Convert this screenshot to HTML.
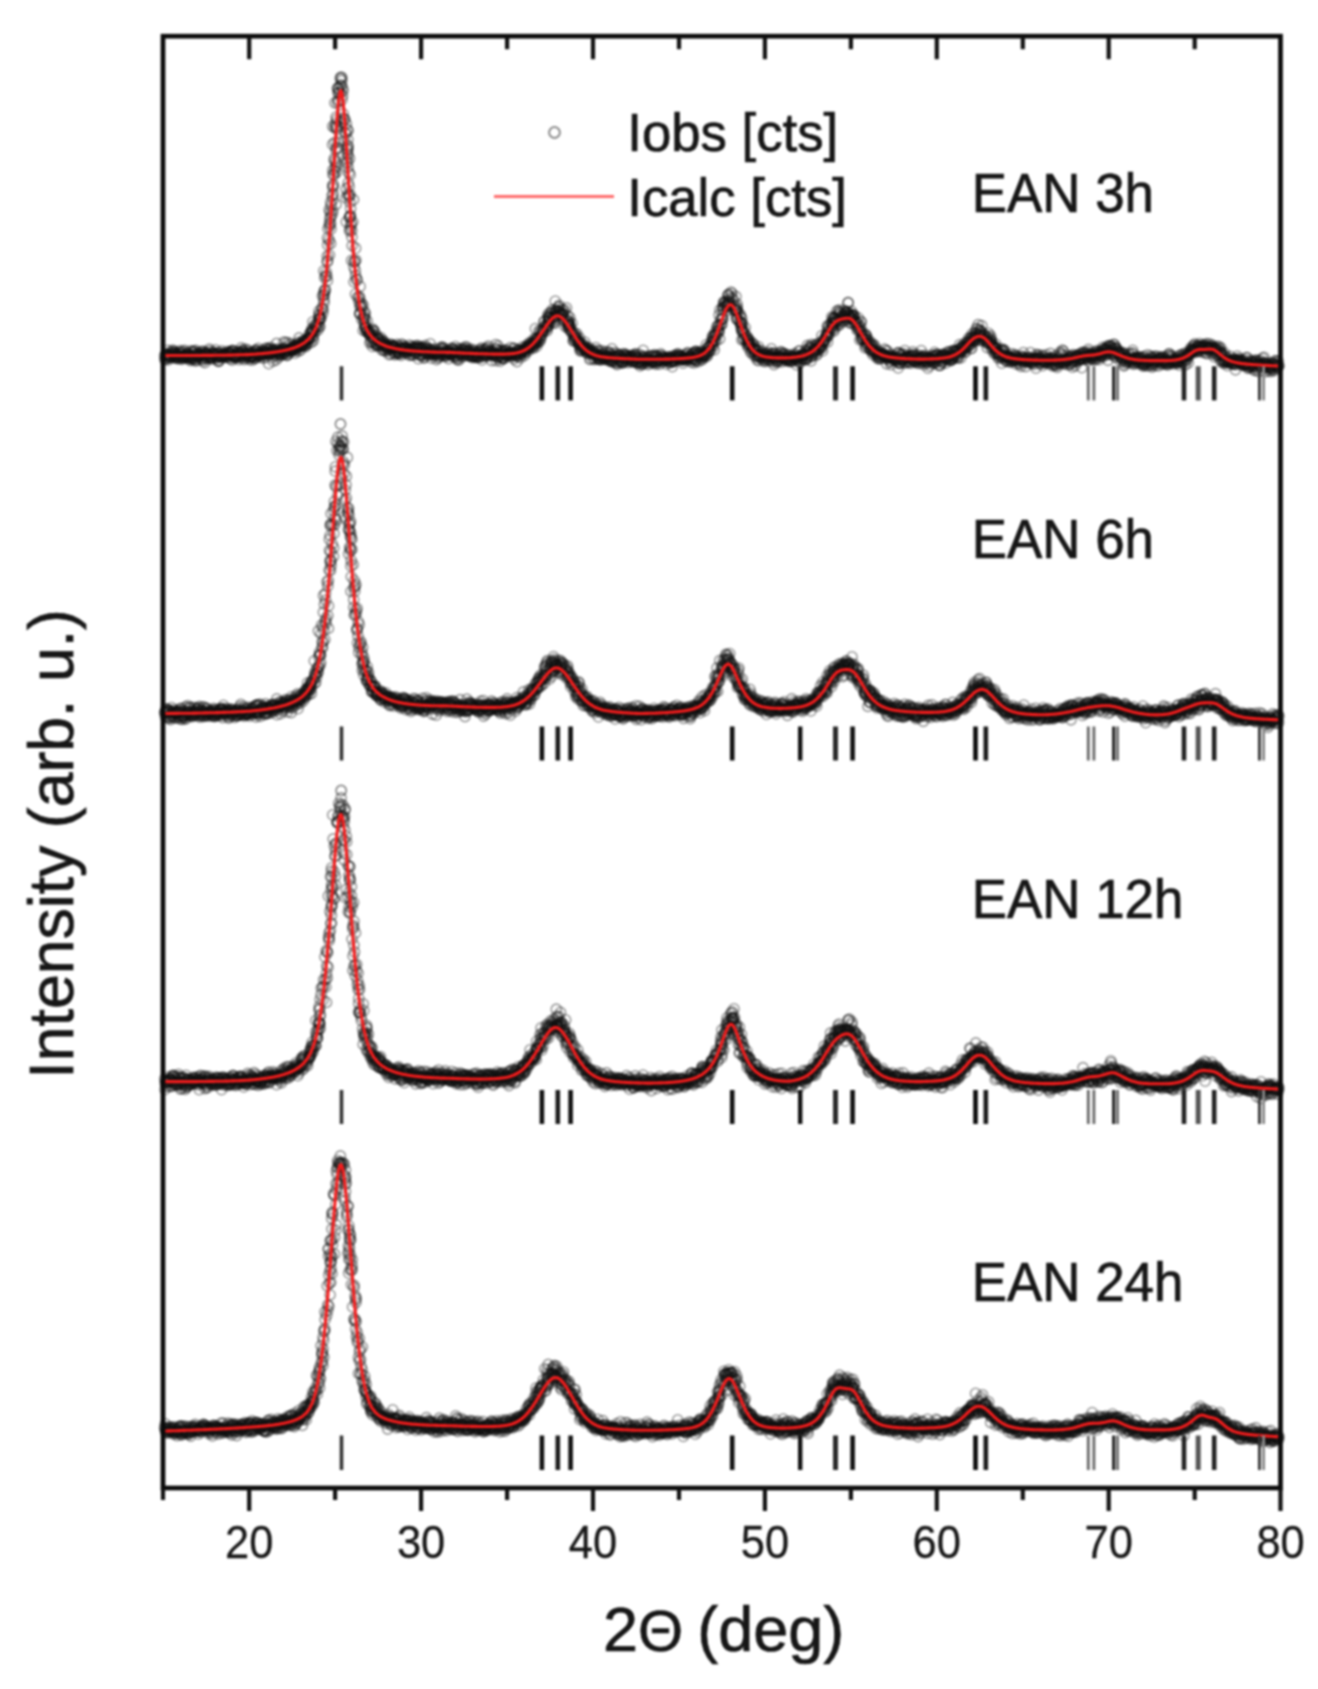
<!DOCTYPE html>
<html><head><meta charset="utf-8"><style>
html,body{margin:0;padding:0;background:#fff;}
body{width:1318px;height:1689px;overflow:hidden;}
svg{display:block;filter:blur(0.9px);}
.t{font-family:"Liberation Sans",sans-serif;fill:#161616;stroke:#161616;stroke-width:0.7px;}
</style></head><body>
<svg width="1318" height="1689" viewBox="0 0 1318 1689">
<defs><marker id="c" markerWidth="16" markerHeight="16" refX="8" refY="8" markerUnits="userSpaceOnUse"><circle cx="8" cy="8" r="5.1" fill="none" stroke="#111" stroke-opacity="0.42" stroke-width="1.6"/></marker></defs>
<path d="M164.6 355.6l.3 3.8 .5-.4 .3-4.9 .3 .6 .4-.7 .3 3.1 .3-1.8 .4 2.3 .3-7.3 .4 9.6 .3-4.7 .3 2.2 .4-2.3 .3-.7 .4 2.4 .3 1 .4-2.9 .3 .2 .4 2.4 .3-4.5 .3-1.8 .4 5.4 .3-3 .4-3.5 .3 3.1 .3 1 .4-2.1 .4-.8 .3 4.3 .3 2.4 .4-3.2 .3-1.4 .3 3.2 .3 .9 .5-2.8 .3 2.3 .4 1.5 .4-3.6 .2-1.7 .4 3.3 .3-.3 .4 2.4 .3-6.7 .4 1.7 .3-.5 .3-2.5 .4 5.3 .4 1.1 .2-3.6 .4 6 .4-1.6 .3-.5 .4-.7 .3 1.6 .3-6.5 .4 5.5 .3 0 .4-6.7 .3 6 .4-1.7 .3 2.9 .3-3.5 .4 1.2 .3 1.1 .3-3.5 .4 4.2 .4-2 .3 1.7 .2-2.9 .4 4.6 .5-1.4 .3-2.2 .3 2.3 .4 1.7 .3 1.6 .3-9.6 .3 7 .4-1.2 .4-1.6 .4-2.6 .3 6.4 .3-7.1 .3 5.2 .4 2.1 .3-8.3 .4 3.7 .3-2.9 .4 4.4 .3 3.7 .3 1.4 .4-10.8 .4 3.4 .3 3.6 .4 2.5 .2-3.3 .5-3.3 .3 3 .3-.9 .3-.6 .4-1.5 .3 3.2 .4-.2 .3-1.1 .4-.4 .4-3 .2 2.2 .4 4.8 .3-3.9 .4-3.6 .3 7.9 .4-2.3 .4 4.5 .3-5.8 .4-1.5 .2-2.8 .5 7.9 .3 3.5 .2-9.7 .5 .5 .3 3.6 .4-4.1 .2 1.6 .4-.2 .3 1.5 .4 2.6 .4-3.1 .3 2.6 .2-3.9 .4 2.2 .4-7.1 .4 2 .3 6.4 .3-4 .4 3.4 .4-.1 .3 2.2 .3-1.5 .4 .6 .3-3.2 .3-1.7 .3-.1 .4 .7 .4-1.8 .4 1.6 .2 1.3 .4 1 .5-1.7 .2-4.5 .3 5.3 .4 .8 .3 2.5 .4-1.5 .4-3.5 .2-.2 .5 7.8 .2-3.6 .4 3.1 .3 .8 .3-8.4 .4 3.4 .4 .2 .3 .3 .4 0 .2-1 .4-.1 .4-4.8 .4 3.8 .3-1.7 .3 2.5 .4-1.7 .4 3.1 .3 .6 .4-1.5 .3 .1 .4-.7 .2-1.6 .4 .9 .2-1 .5 2.5 .3-1.1 .2 1.7 .4-5.5 .5 6.3 .3-4.7 .4 .1 .3 1.5 .1-1.1 .6 2.5 .3-2.5 .3-1.4 .4 .6 .3 6.2 .3-3.7 .5-3.4 .3 3.3 .3-4.5 .3 9.6 .5-9.5 .3 5.8 .3 .1 .2-5.7 .4 5 .3 2 .3-1.5 .6-.6 .2 2 .4-2.3 .3 .5 .4-1.4 .5 2.2 .2-4.5 .4 4.9 .2-3.7 .4-1.7 .4 4.2 .4 3.8 .2-2.1 .3-4.3 .4 3.5 .3-3.3 .5 .9 .3 .6 .3-7 .4 7.3 .3-3.5 .3 .9 .3-2.3 .3-.1 .6 1.7 .2 5.1 .4 2.4 .3-4.9 .5 3.2 .1-3.9 .5-4.8 .2 5.9 .4 .9 .2-2.6 .5 2.1 .3 .8 .4-4.2 .3-1.8 .2 3.7 .6 0 .4-.4 .3 3.8 .2 2.2 .4-6.3 .2 3.3 .4 .6 .5-.6 .3 .9 .2-4.2 .5 3.3 .3 3.7 .4-3.6 .1-4.2 .5 3.6 .4 1.9 .3-2.7 .4-2.7 .3 6.1 .3-8.2 .4 5.1 .4-1.5 .1-3.5 .5 7.1 .3-2.6 .4-4.5 .5 5.2 0-3.1 .6-4.3 .1 3.5 .4 2.8 .4 1 .4-1.4 .3-.3 .3 1.2 .4-2.1 .4 4.1 .1-3.1 .4 .4 .5 .7 .4-4.7 .4 1 .6 6.6 0-3.6 .2-1.8 .5 1.8 .4-2.5 .3 2.2 .2-2.8 .4 2.7 .4-5.5 .1 8.6 .4-5.5 .7-3.2 -.1 4 .6-.5 .3 1.5 .6-3.9 .2 4.6 .2 9.5 .6-14.6 .1 4.8 .7-2 .3 1.5 .1-6 .5 1.9 .2 4.8 .2-1.6 .7 5 .2-7 .4 2.5 .4 8.2 .4-11.1 .3-.4 .1 2.5 .4 0 .4 2.6 .3-2.2 .3-2.7 .7 2.8 .1 7.3 .6-4.2 -.1-12.2 .4 7.9 .3-2.3 .4 4.5 .3-2.5 .4 6.3 .3-3.1 .8-.1 .1-2.2 0-.8 .4 1.1 .6 2.9 .3-2.4 .1-2.8 .7 4.9 -.2-3.3 .6-.9 .8-2.3 -.6 .7 .9-.3 .6-6.7 .1 11.6 .2-1.5 .3-2.4 .1 3.8 .5-2 .7-.2 .1-8.9 .5 6.8 .3 2.3 .5 3.3 -.2 .6 .7-1.4 .4-8.1 .3-3.3 .2 8.5 0-1.8 1.1 2.9 .4-3.5 .8 1 -.1-5.5 .6 6 0-2.9 .1 2.4 .6 .2 -.2-1.9 .8 1.2 .2-1.1 .1 2.3 1.1-.9 .3-3.5 .1-.2 .5 7.3 .6-6 -.3 3.3 -.1-2 .5-3.2 1-.8 .1 2.7 -.3 .3 1.4 1 0-6.2 .9 2 .1 1.4 -.3 5.4 .6-13.1 0 9 .3-3.4 .6 3 .7-3.2 .7 2.6 -.7 3.8 1.1-4.2 0 .1 .2-.4 1.1-3.9 -.4 4 1.2-2.7 -.5-2.2 0 2.3 1.2-.8 -.8 3 .5-2.9 .8-1.9 .5 6.5 .2-1.9 -.7 .7 .7-2.5 1.5-2.8 .4-1.4 -.7 .2 1.2 4 .3-3.3 .9-5.9 -.9 4.7 1.9-5.3 -.9 5.3 1.6-5.3 0-.7 -1.1 4.6 .9-1.2 .8-6.2 .9 8.3 -1.6 4.7 1.1-13.9 1.3 11.7 .2-9.9 -1.1 .2 .5 .6 1.6-5.5 -1.1 9.8 1.6-3.8 1.1-5.5 -.6 1.1 -2.7-5.6 4.7 3.7 .4 4.2 .7-11.4 -.3 4.1 -2.9 1.4 4.4 2.6 -1.1 .2 1.2-8.6 -1.2-2.5 .2 3.8 .4-4.8 3.2-1.2 -1.7 4.6 -.5 1.1 -1.3-7.9 3.1-3.7 -.4 1.6 .6-13.2 1.7 6.7 -.1-7 -.8 14.2 .7-10.2 .1-5.2 1.3-4.1 .4-14.4 -.6 13.6 -1.2 2 3-15.3 .5 4.4 -2.8-3 2.6-15.8 -.9 10.3 -2.5-1.2 3.8-10.2 1.9-5.6 -2.3 1 .3-18.1 3.1 5.5 -3 1.3 .4-16.1 1.2 11.1 1.7-10.8 .1-12.4 -1.6 9.5 .5-7.7 .8 5.3 -.6-11.5 -.6 10.8 -.2-13.3 3.1 3.9 -1.3-8.3 5-1 -3.4 6.3 -2-8.5 1.4-6.5 .7-7.9 .3 11.7 .2-5.4 .2-9.2 -.8 .5 1.5-10.5 2.6-2.8 -4-1.8 .2 4.2 1.9-3.3 1.1-9.2 -.5 5.9 .8-2.7 -1.9-6.6 -.1 2.2 1.6-10.9 .2-2 1.8 .6 -.1-6 -5.2 2 4.3-15.1 -2.1 13.1 -2.1-16.1 4.1 .9 -.7-10.1 -.1 9.1 -1.3 1.4 .6-3.9 1.4-4.1 -1.8-16.8 2.5-.3 .7-2.6 -.1-7.1 1.1 8.5 -.3-9 -1.4-4.1 .6 .7 2.2-10.4 1.7-.9 -1-.4 -.7 8.3 1.4-.3 -2.8 2.7 1.6 4.8 1.4-12.2 .8 7.7 -.1 7.7 .5-5.1 -1.1 9.1 1.3 13.9 1.6 5.5 -3.1 2.4 1.2-3.6 1.5 1.1 3.1 10.5 -1.1-5.9 1.6 7 -.2 8.8 -2.7-7.3 .8 1.4 -1.6 6.6 3.9 6.5 -.5 2.3 -.1 1 .3 5.3 -.2-9.9 -.2 7.4 .3 9.1 1.7-3.6 -3.1 .5 -.2 3.7 1.8 4.7 2.1 7.4 -1.3-2.2 -.6 10.5 1.9 11.6 -1-8.2 -3.1 11.4 1.6-3.1 -1.5-5.7 3.1 8 -.1-1.6 1.5 13.2 2.9-8.9 -4.2 17.5 1.2-1.8 -.5-13 -3.7 19.4 3.5 7.2 .2-11.6 1.8 13.1 -1.6-14.2 -.6 14.7 3.2-9.1 -.9 15.2 -1.1-11.3 .3-2.8 1.1 22.6 2.1 15.6 1.3-13 -4 12.3 4.3-.3 -1.4 1.3 .8 8.9 1.3 9 -2.7-12.3 3.3 12.9 -3.1 1.9 1.6-6.3 -.2 18.5 4.4 4.2 .2-11.9 -1 15.7 -.1-5.9 -1.3 1.3 4 10 -.2-4 -.5 2.4 -1.3 7.3 0 .7 .8-.2 2.6-8.5 -3.3 .9 2 13.1 2.8-7.4 -.9 5.9 1.6-3.9 -1.7 5 .4-3.4 1.6 13 -.7-9.7 -.1 4.6 -.7 .6 -.8 6.5 3.9-9.5 -1.9 6.2 0 .1 2.1 3.6 -1.5 .5 -.1-2.9 1.1 3.3 .9-1.7 .6 3.7 .6-1.5 .7-1.5 -.6 2.8 .8 1.9 -.1 7.4 -.1-9.5 1.2 3.3 .3 4.6 1.5-12.3 -.6 1.6 -.6 2.4 1.2 4.2 -.2 9.3 1.6-6.9 -1.9 3.2 1.1-4.7 .3-7.4 .9 .8 .1 11.8 -.5-2.6 .2-4.8 1.6 8.6 1-8.8 .4 9.3 -.7 1.3 .8-7.2 -.4-1 0 6.8 1.8-6.2 0 6.7 -.1-6.6 .3 6.8 1-2.1 0-1.6 .1-1.3 .6 3.9 .2-6.8 .2 5.5 .2-.3 1 3.7 -.2-6.1 0 9.8 1.6-6.4 .1-2.6 .1 8.4 .1 1 .4-5.8 -.3-2.2 .9 3.1 .5-2.1 .1 1.3 .6 6.1 -.1-3.6 .7-.7 -.3 .8 .9-1.2 .2 3 .1 .2 .6-3.8 .5 1.6 .2 7.4 .8-6.2 -.2-1.8 .9 7.1 .2-6.3 0-3.4 .9 5.6 -.5-4.8 .9 1.4 .3 2.6 .5-1.3 -.3-1.9 .4 .7 .5 0 .6 5.5 .3-5.8 .3 .6 .3 8.1 .2-7.9 .2 6.4 .6-.5 .6-4.5 .4-3.8 0 5.8 .7 .8 -.2 .9 .8-2.7 0 3.6 .6 .6 .1-7.4 .3 7.6 .5-3.8 .7-2.2 -.1 .8 .7 6.8 .2-2.7 .4-8.4 .3 5.8 .4-.7 0 0 .6-1 .4-2.8 .2 7.1 .5-5.4 .1 1.7 .6-.6 .1-.4 .4 4.5 .6-1 .4-3.2 0-.8 .3 1.5 .7 4.4 -.4-2.5 1.1 .3 .4-1.6 -.1 .2 .7 1.5 .2-6.1 .4 10.3 -.1-7.1 .6 .7 .4 5.7 .3-3.3 .4-.5 .3-1.8 0-2.9 .7 5.2 .3 3.1 .4-6.3 .3 6.8 .4-7.4 .4 1.2 .6 3.7 -.1-1.4 .8 2 0-4.2 .3-.8 .2-2.5 .7 2 0 .4 .7-1 .3 5.2 .2-2.9 .3-3.9 .5 13.3 .3-9.8 .4-1.2 .3 7.3 .3-.2 .4-6.8 .2-.9 .6 1.4 .2 6.3 .2-4.2 .4-1.5 .4 2.4 .2 3.6 .7-7.6 .3 3 .1-3 .4 10.5 .6-1 .2-2.5 .2-3.2 .2 2.3 .4-8.1 .7 7 .2-4.7 .2 .1 .5 1.8 .2 1.1 .4 2.7 .3 .4 .4-1.3 .5-3.5 .1 4.7 .4-2.3 .5 3.8 .4-6.1 .1-5.4 .6 6.7 .3 7.7 .1-4.9 .6-1.9 0 3.1 .6-1.1 .2-.1 .3-2.8 .6 1.7 .3 .4 .3-2.5 .3-1.3 .3 3.6 .4 2.5 .2-1 .5-.4 .3 0 .3 6.1 .4-6.7 .3 2.2 .3 2.7 .4-5.5 .3 .6 .6 2.3 .1 1.9 .4-4 .4 .1 .4-.8 .3-3.7 .3 6.7 .5-3.9 .2-4.3 .4 4.6 .5-4.6 0 2.1 .5 3 .3-2.7 .2 5.8 .4-7.4 .5 5 .2 .9 .4 2.6 .4-1.5 .3-2 .4-.5 .2-.4 .4 3.5 .3-5.2 .4 3.4 .4-1.8 .3 1 .5-1.4 .2 6.9 .4-8.1 .5 2.7 .1 0 .3 1 .4-.4 .3-.1 .5 1.6 .4-7.1 .2 4.4 .3-3.6 .4 4.3 .4-4.1 .4 .6 .2 2.7 .3 4.2 .5-2.4 .3-.7 .3 3.2 .4-6.8 .2-3.3 .4 4.8 .4 .5 .3 4.4 .3 2.6 .4-10 .4 11 .5-2.6 .1-2.1 .4-1.3 .5 5.9 .2-6.7 .3-1.6 .2 1.8 .6-4.4 .3 5.4 .3-1.7 .3 1.3 .4 .1 .3-4.1 .4 6.9 .3-6.7 .4 5.5 .2-7.2 .4 5.7 .2-3.4 .5 2.5 .4-2 .3-4.4 .5 3.1 .1 3.4 .4 1.6 .3-6 .4-1.8 .3 3.6 .3 1.9 .4-1.2 .5-.5 .2 4.8 .5 .3 .1-.6 .5-4.8 .4 2.9 .3-.7 .3-3.6 .3 6.7 .4-2.3 .4-1.6 .4 5.5 .1-1.9 .3 .3 .5 1 .4-1.4 .4-5.7 .3 2.5 .2 4.1 .6-5.1 .2 2.3 .2 1 .5 3.1 .3-.4 .4-1.2 .2-3.1 .4 3.2 .4-1.1 .3-2 .4 4.4 .4-2.5 .4-3.6 .3 5.9 .2-4.4 .5 2.5 .3-6.1 .3 4.3 .3-2.6 .3-.1 .3-2.7 .5 11.7 .3-6.6 .3 1.1 .4 2.5 .2-3.5 .4 1.8 .4-5.3 .4 4.5 .3-1.8 .3 2.7 .3-1 .4-4.5 .3-1.3 .5 2.4 .3 5.1 .3-.9 .4-.1 .3-6.9 .4-1.9 .4 5.9 .3 .9 .3-.8 .4 2.8 .2-1.6 .4-2.9 .4 .9 .4 3 .3-.2 .4-.4 .1 6.7 .5-7.3 .2 1.1 .4-3.2 .3 1.9 .5 2.5 .3 .2 .3-2.1 .4 1.6 .4-1 .4-5.6 .3-4 .3 16.1 .3-4.2 .4-2.6 .3-4.8 .3 1.3 .3 7.6 .5-12 .2 7.2 .4 3.4 .4-2.1 .3 1.8 .4-2.6 .2 7.3 .5-9.9 .2-.9 .3 4.7 .4 3.4 .4-4.3 .3 3.1 .3-4.5 .5-1.9 .2 7.5 .4 .4 .4-.1 .3-5.7 .4-2.1 .3 0 .3 2.7 .5 2.3 .2-.2 .3-5.6 .4 4.7 .3-.6 .4 .2 .3-.3 .3-.5 .5 2.3 .3-1.4 0 .2 .6-2.7 .4 3.2 .4-1.5 .2-5.9 .3 7.6 .5-2.2 .4 3.4 0-3.2 .4 .1 .5 .9 .1-.7 .6-1.3 .5-4 .1 10.6 .5-10.1 .2 3.6 .5 2.9 .4-.9 .4 .5 .2 .5 .5 1.4 .2-2.9 .2 7.7 .7-11.7 0 3.6 .5-1.9 .7-.6 .1 2.4 0 3.4 .6-6.6 .2-.1 .4 4.2 .1-.6 .6 4.1 0-2.9 .8-2.5 .3-1.9 .5 1.6 .6-1.4 -.5-3.8 .4 4.1 .4-.7 .5-.4 .7-.8 0 6.4 .3-3.2 .2 .5 .4-5 .4-1.5 .5 2.1 -.1 1.5 .8-2.1 .5 .3 .3 3.4 -.2-2.4 1.1-4.3 .3 1.5 .2-1 -.3 2.4 .2-4.6 1 2.9 -.1 2.6 .2-2.5 1.3-3.4 .4 .6 .2 2.2 .7 .8 .2 .9 -.8-3.7 1.6-4.3 -.2 8.9 .5-4.1 1 0 -.3-.8 1.1-5 -.6 2.1 0 1.6 .2 2.3 .7-3.8 -.8-11.7 1.5 9.7 .3 1.7 0 2.9 -.9-2.5 .3 6 2.7-4.3 -1.1-.7 2.3-1.9 -1.4-9.1 1.3 7.8 -1.3-1.4 1-4.7 .8 3.7 1.1-1.2 1.4-3.8 -.3 .7 -2.1-1.1 1.8 1.4 .2-3.1 -.2 3.1 1.7-10.1 1.5 5.8 -2-6.1 2.2 4.1 .7 3.4 -2.6-2.6 3.8-1.1 .3 .1 -1.4 5.5 2.2-11.4 -1.6 7.5 1.6-10.3 -.3 3.6 -1.8 2.1 1.9-4.8 -.2 3.8 -.2 1.6 -.6-8.5 .9 4.1 -.4-1.7 3.9-7.1 -4.3 6.9 3.4-3.1 -.7 8.6 -.7-9.8 3.5 10.5 -2.1-9.9 3.6 10.2 -1.9-6.3 1.1-.7 -.4 1.2 1.6 .2 .8 1.9 -1.8 1.2 1-9.2 3.2-4 -3.4-6.3 4.2 9.8 -3.2 4.9 .1-1.7 -1.5-1.1 1.7-2 -1.1-1.2 2.2 1.6 2.4 3.1 -.9-9.2 -.5 11 -.3-9.3 .8 5.9 -.8-1.8 .6 1.4 5.5-2.6 -2.4-.1 -1.5 4.3 2.9-3.2 1.6 15.5 -3-11.8 1.2-.6 -1.5 .9 -.1-1.7 4.8-5.3 3.4 9.8 -5.8 2.9 -1-7 4.8 6.8 -.2-4.5 -.5 5.5 1.7 2.2 -2.1 1.1 1.1 .4 1-4.1 -1.1 7.1 1.4-4.8 -.6 3.9 1.2 2 0-3.4 -2.2-3.2 2.8 8.1 -1.4-6.2 1 1.6 -.5-.2 3.1 8.2 -.9-3.3 .3-7.4 2 12.1 -.2 5.6 -.6-.4 -1.5-8.4 3 3 -.5 2.2 .2 1.9 1.4-2.6 -.9-3.6 .8 7.3 1.2 0 0-6.5 -.5 4 1.9 2.8 .1-.5 .8 2.3 -1 1.5 .5-.4 .9-1.9 -.1-3.8 .2 7.3 .2 3.1 .2 2.4 .2-6.5 .3 .5 .9 5.4 0 .3 -.2-3.3 1.1 1.6 1.1-4.5 .2 4.8 -1.2-4.2 .8 2.6 1.1 .4 0-.8 .4-5 .2 4.5 .5 4 -.1-1 1.1-.7 -.4 2.9 .7 1.1 .8 .7 .2-4.9 0 2.8 .4-.9 .2-1.4 .3-1.7 .5 4.6 .7-2.2 -.1 9.5 .6-6.7 .3-.2 .3-.4 .2 7.1 .6-8.4 .2 2.6 .3-1.7 .3 2.1 0 .4 .9 3.6 .3-7.4 .1 4.3 .4 5 .5-6.2 .1 1.1 .6-2 .4-5 .3 7.5 .4 3.9 -.1-4.7 .7-4 .2 6.3 .6-.4 .3 2.8 .3-.2 .2-3.4 .7 2 0-6.4 .3 8.7 .5-2.7 .1 2.7 .7 0 .3-3.9 .3 .5 .4-2.1 .2-3.4 .2 5.7 .4 .9 .5-3.6 .2 5.3 .4-1.7 .3 1 .3-3.5 .5-2.8 .3 7.4 .3-.4 .3-2.1 .3-.8 .6 .4 .1 .4 .4-1 .3-4.3 .5 8.1 .2-6.5 .5 3.3 .3 .2 .2 1.6 .5-5.4 .2 8.2 .4-1.5 .4 .3 .3 1.5 .3-6 .4-6.7 .3 10.1 .4 2.8 .2-.4 .4-4.9 .5 1.3 .3 1.2 .3-6.1 .4 3.4 .3 .1 .3 6.4 .4-6.4 .4 6.4 .3-4.5 .3-4.8 .3 11.2 .4-9.2 .3 4.6 .4 3.2 .4-6.4 .3-2 .4 6.5 .3-2.8 .3-3.7 .3 .5 .4 2 .3 3.9 .5-3.6 .3 2.7 .2 2.9 .4-1.1 .4 .5 .3-.5 .4-8.2 .3 8.2 .4-2.6 .2-1.3 .5-2.7 .3-1.5 .4 1.4 .3 3.2 .3-3.3 .3 1 .4 .6 .3 3.7 .4-2.7 .3 .4 .3 4.2 .3-4.7 .4 2.7 .4-4.8 .4 4 .3-.6 .4 .2 .3-1.8 .3-1.6 .3 2.1 .5-.5 .3 4.3 .4-.3 .2-6 .4 5.2 .2-3.1 .5 2.7 .4-2.7 .3-2.9 .3 7.2 .3-1.6 .4-4.8 .4-1.9 .2 3.9 .5-1.9 .3 2.4 .2 2.8 .4 2.5 .3-5.2 .4 4.9 .3-.6 .5-4.5 .3-3.6 .3 7.3 .3-.7 .3 5 .5-2.6 .4-1.9 .2 2.6 .4-7.8 .3 3.5 .3-1.3 .5 5.8 .2-3.4 .4-10.4 .4 12.7 .3-6.5 .4 4.8 .2-3.6 .5 2.1 .3 1.1 .5-1.2 .1-3.3 .3 6.7 .5-2.8 .2-1.2 .4 2.1 .3-3.6 .5 7 .2-4.8 .4 .4 .3-.1 .3-3.6 .3-.7 .6 4 .2 .4 .3 2.8 .4-2.5 .4-4.5 .2 4.7 .6 .8 .2 .5 .3-1.9 .4-4.5 .3 6.9 .3-5.4 .5 3.7 .3-6.2 .4 6.7 .2-4.4 .3 5.4 .5 1.9 .2-1.7 .3-6.7 .4 .6 .4 .2 .3 4.4 .5-.9 .2-.5 .4 .4 .2 .8 .4 .2 .4 3 .4-5.1 .3 .8 .4-5.9 .1 1.5 .5 1.8 .4-1.4 .2 4 .4 2.4 .3-4.3 .5-.1 .3-.1 .4 1.8 .2-1.9 .5 2.8 .3-.4 .4 .1 .2 1.2 .3-2.1 .4 .3 .3 4.7 .3-5.3 .5 2.5 .3-2.2 .3-1.5 .4 0 .3-1 .4 2.4 .2-1.8 .6 .5 .2 4.7 .4-3.9 .2 3.7 .5-2.6 .3 1.7 .4-4.2 .3 2.2 .2 7.2 .6-5.3 .1 .5 .6-2.2 .2 1.8 .2-5.9 .5 .9 .3 3.7 .3 1.1 .3-3.6 .5 .7 .2-.6 .4 .5 .6-2.9 .1-.7 .4 3.9 .4-4.8 .4 2.1 .3 .9 0-1.1 .5 3.7 .6-2 .1 1.1 .6-2.8 .2 .8 .2 3.6 .5-.4 .5-2.5 .1 2.4 .4-.5 .2-.1 .4 4.1 .4-5.8 .4 2.4 .3-.1 .4-1.9 .6-2.8 -.1 5.4 .3-1.2 .6-.7 .3-.1 .1 0 .8-2.8 0 3.5 .3-6.2 .5 5.2 .4-4.4 .6 3.3 -.2 3.1 .4-2.9 .5-.7 .3 2.9 .4-2.3 .2-.5 .3 0 .5 5.6 .5-2.6 .3-.6 .2-5 .5 5.3 .3-5.7 .2 5.2 .4-4.8 .4 9.1 .8-10.9 -.1 8.6 .2-1.4 .4-7.7 .3 4.5 .6 4.9 -.2-1 .5-8.5 .7 3.4 .3-2.1 .3 .3 .5 1.1 -.1 7.4 .7-5.3 0-1.2 .3-.5 .7 2.9 .1 0 .4-5.1 .6 7.2 -.1-8 .8 2.3 .8 2 -.3 3.8 .6-6.6 .3 1.8 -.2 2.9 .3-2.3 .8 1.3 -.4-.5 1.1-2.7 .4 .9 .4 .7 .3-3.4 .7 5 -.3-11.9 1.1 3.1 0 7.3 .3-3.7 .1-3.9 .8 3 -.4 1.9 1-5.9 .6 4 -.6-3.4 .2-.5 .4-.3 .8 3.5 .6-8.2 .7 2 1 3 .2-7.2 -.6-1.9 -.1 7 -.3-2.7 1.9-1.2 .1 .4 -.3-4.8 .4 13.5 .4-15.1 -2 1.2 2.8-4.5 .7 3 -.1 6.6 -.7-6.6 1.5 1.4 .9-5.1 1.9 8.1 -.5-7.4 -.2-6.5 -.5 7.1 -1.3-5.6 1.5 3 -1-3 2.1-.5 2.1-1.6 .4-5.5 .2-3.7 -1.1 9.4 1.9-5.8 -1.7 .6 -2.4-4.3 3.8-8 .2 2.1 -2.6 10.7 2.3-10.8 -2.7 .7 3.5-6 3.1 3.2 -2.7-.3 3.5-.3 -1.4-.2 -1.2-3.5 -1.3-.6 4.4 1.8 .2 .9 -3.1-2.9 2 8.3 2.8-7.8 -2.6-.6 2.2-4.3 -3.5 7.7 2-10 3-3 -2.7 3 -.1 7.6 .4-8.3 2 11.7 -1.6-6 2.7-6.7 1.5 6.5 1.9 10 -2.8-11.9 3.6-1.5 -1.3 9.2 -1 4.5 1.6-.6 1.9-5.4 .3 3.3 -.8 1.5 -1 4.9 1.8 5.4 -.6-9.2 .2 7.4 .5-6.3 2.9 5.2 -4.6-5.6 2.2 1.9 -1.3 6.3 3.5-4.6 .8 8.9 .7-5.1 -2.4 3.8 1 .5 1.4 0 -.6 3 .5 5 .2 9.3 .5-16.5 -.2 7 1-.9 -2-2.1 1.7 5.7 -.7-3.7 1.8 4 -.4 6 1.7-11.7 1.1 9.5 -2.2 1.5 .8-4.5 1.4 6.3 1.4 .1 -.3-1.8 0 6.4 -.1-8.5 .1 7.7 1-2.5 .4-2.3 .1 3.8 -.2 0 -.3 4.6 .8-7.5 .7 5.1 -.1-.4 1.2 7.4 -.6-8.7 .9 7.8 .7-9 .6 7.5 .1-1.2 .8 2.1 -.5-3.2 .2-3.7 1.2 1.7 -.5 9.6 .6-3.3 -.2-3.1 1.4 5.9 .2-5 -.2 .3 0-1.2 1 7.8 .4 2.7 .6-9 .6 4.1 -.2 2.4 .2 3.7 .3-13.9 .4 8.1 0 1.7 .5-6.4 .6 6 -.1-.5 .4 1.7 1-3.9 -.1 3.2 .7-3 .4 3.8 .1-1.3 .5-1.5 .1-3.1 .2 9.5 .5-1.6 .4-.6 .4-4.6 .3 1 .3 6.2 .6-2.8 .1-4.7 .3 2.8 .6 .3 0-1 .5-2.2 .6 6.7 .1-1.9 .6-2.4 0-4 .3 3 .4 1.8 .3 2.6 .4-3.7 .3 4.5 .6-2.9 .3-2.6 .2-6.1 .3 4.9 1-.9 -.3 4 .7 1.5 -.1 3.2 .4-4.2 .7-3.4 -.1 10.5 .4-6.1 .5-1.7 .2 0 .4-3.2 .4 5.9 .5-.7 .2 3.6 .4-1.5 .5-.6 .4 1.1 0-4.6 .1-.4 .5 1.1 .7-3.5 .1 3.3 .3-.6 .4 3 .6-2.1 .1-5.6 .3 5.8 .3 4.1 .3-9.7 1 3.2 -.2 2.4 .4-4 .3 2.3 .5 1.8 .1-4.1 .1 4.8 .6 .3 .5-5 .7 3.9 -.1 3.2 .2-3.8 .5 1.8 .2 .6 .4-2.6 .5 3.6 .3-1.7 .2-4.2 .7 4.6 .1 1 .4-.2 .2-4.4 .5 3.3 .4 2.8 .4-3.5 0 2.9 .7 .3 .1-4 .4 2 .5-2.9 .5 4.1 0-3.5 .2-1.4 .6 1.5 .5-.1 .1 1.3 .8 .2 -.4-4.9 1 1.5 .2 3 .4 .3 -.1-1.2 .8 7.6 .3-4.6 .4-3.7 0 2.4 .4 1.8 .6-3 .2-6.5 .2 5.6 .2-.2 .6 6.3 0-12.2 .8 10.3 .2-5.3 -.1 3.3 .9-3.9 .5 1.4 .1 2.8 0-3.2 .5 2.9 .7-3.6 -.2-1.1 .6 .5 .7-1 0 1 .2 4.5 .8-7.9 .5-1.7 0 5 -.1 5.2 .2-2.1 .8 .7 -.2-.3 .9-6.4 .7 2.5 -.8-8.9 1.1 6.3 .5 3.7 .1-7.1 .7-1.7 .3 2.2 .6 4.6 1 2.9 -.6 4.4 -.1-3.9 .3-9.8 .2-2.8 1.2 7.8 .2 2.7 .4-9 .2 3.3 1 0 .1 1.4 .3-1 -.5 2 .6 1.5 -.2-3.6 .7 2 .7 3.9 -.4-10.5 .7-.5 1.9 5 -1 4.3 -.5-6.2 .5 2.9 1.1-5.3 1 3.9 -.3-5.8 1 4.2 0-1.4 -.7-.5 1.9 3.1 -.8-1.5 2.2-6.5 -1.6 4.9 .7-9.8 0 9.3 .6 6 1-8.7 -.3-.6 1.6-2.1 -.3 2.3 1.5-5.3 -1.2 3.6 1.6-4.1 .3-1.2 -1 1.5 3.2-1.3 -.7-7.2 -.7 14.2 -.5-8.2 .4-7.8 .3 10.3 .9-5.1 -1.4 .3 1.8 1.4 -.5-7.1 3.3-8.9 -.8 10.8 1.6 .8 1.3 2.5 -2.2-7.8 2.5 1.4 -2 2.2 .8-3.6 -2-.2 1.9 1.5 2.4-5.7 -1.1 10.3 -1-11 .9 3.6 -.8-2 .4-2 -.8 4.9 4.4 1.7 .3 1.6 -1.6-4.1 -1.6-4.7 2.1 5.4 4-10.2 -5.1 6.2 1.7 1.8 .4 0 2.4-7.6 -3-1.7 2.8 13.5 -1.4-9.6 1.1-5.1 -1 1.7 3.1 5.3 -1.3 4.9 .2-5.2 3.1 5.1 -.9-4.4 3.6 1 -2.8 2.1 -.2-6 .4 2.8 4.6-3.1 -2.1-1.1 -2.1 5.5 1.3-6.5 -1 3.8 2.3-3.9 -1.6 3 .3-1.9 1.9 7 1.8-4.5 -.4 0 .2 6.8 -.8-19.9 -3.7 7.8 4-7.1 .3 12 1.5 2.1 2.3 1 -1.2-1.6 -3.7-4.8 3.2 11.7 -.1-6.2 1.9-2.2 -.9-3.5 -2.7 7 2-3.6 1.3 .6 -2.5 3.2 3.5 .5 0-4 2.6 9.3 -1.6-9.1 -.5 .1 1.2 6.6 .5-.2 1.8 .4 -2.5-1.4 -1.6 2.6 7.7-1.9 -2.6-3.8 -.7 10.6 3.7-6.5 -4.6 3.9 .8 4.6 .8-2.1 1.6 11.6 -.9-15.9 1.9 3.3 -1 4.1 2.3 5.7 -.7-5.6 -2.1-3.9 2.2 10.7 -.9-7.3 1.5 3.4 .5 4.8 2.6-5.3 -2.2 1.5 -1 4.1 2.1-2 -.9 2.4 3.1-4 -.7 3.6 1.1-3.1 -1.4-1.1 -.2 12.5 1.5-4.2 -1 2.1 .7-6.2 .5 3.8 .8-.2 -.6-3.8 0 7.4 2.7-4 -1 2.2 .6-4.1 .9 9 .2-.4 -.3-.9 .4-4.1 1.6 1.7 .1 6.3 0-4.7 .9 2.1 -1.5-.1 1.3-3.9 .2 9.1 -.5-11.3 1.5 7.6 .4-.8 .2-4.7 -.5 6.6 1 .9 .5-1.3 .2-2.6 .5 4.3 .4 2.4 .7-2.7 -.1 5 1.2-2.6 -.5-.1 .4 2.2 .5-6.3 0 .6 .3 3.4 .8 .2 -.7 3.3 .5-1 1.5-2.9 -.1 .3 .3-1.4 .3-.2 .3-.1 0 4.3 .6-4.1 .1 .5 .9 1.7 .2-2 .3 1 .4-5.9 .2 7.9 .1-1.9 1 1.6 .1 .6 .1-6.7 .6 13.1 .4-6.7 .4 .1 .2-5.8 .4 7.4 .1-.6 .7-2.2 .2 1.9 .4 3.3 -.1-4.8 .7-1.7 .3 6.8 .4-3.1 -.3-1.3 .5 7.5 .7-6.3 .1-1 .6 1.4 .3-1.9 .5 1.8 .1-.1 .3-2.4 .6 1.3 .2 1.7 .2 .2 .2 .7 1.2 .6 -.3-1.6 .4 .9 .1-2.7 .5 .4 .4 3.9 .5-8.9 .4 7 .1 8.3 .5-14.9 .5 10 .1-9.7 .4 6.3 .1 3.8 .4-.4 .3-7.1 .6-1.2 .3-.4 .6 6.4 .1-3.2 .4 1.1 .3 .8 .3 .5 .2 .3 .7-1.2 .1-5 .1 9 .6-12.4 .2 11.8 .7-5.4 .3 1.2 .4-1 .4 .5 0 1 .2-.7 .5-2.4 .5 5.7 -.1-4.2 .6 5.7 .6-4.4 .1-1.6 .4 3.4 .3 1.3 .6-5.3 .4 1.9 0 5 .4-7.1 .4 .5 .4 2.9 .3-4 .4-3.6 .4 2.3 .4 6 .4 .8 .1-.2 .3-.6 .4-4.7 .6 5.6 .2 1.4 .3-5.4 .4 4.8 .4-3.8 .4 1.6 0 .5 .5-5.4 .4 8.6 .3-6.8 .3 2.3 .2-1.2 .5 2.8 .3-.1 .4-1.2 .4 4.1 .3-3.3 .2-2 .4-7.3 .4 7.6 .5 0 .2-1.7 .3 0 .2 4.3 .5 1.3 .3 2.5 .4-2.2 .3-5.4 .3 2.8 .3-4.7 .5 6.1 .2-1.1 .6-2.8 .2 1.5 .3-.5 .5-1.1 .1 5.7 .6 5.2 .1-6.6 .5 .6 .2-2.6 .3-1.5 .3 7.5 .5-7.5 .4 2.2 .2-1.5 .7 2 .1-1.8 .2 1.8 .7-5.4 .1 3.4 .6 4.3 -.2-7.1 .9 1.1 .1 6 .4-2.9 .3 2 .2-9.8 .6 7 .3-4.2 .3-.3 .2 5.3 .3 2.2 .5-7.9 .5 1.1 .2 1.5 .3 1.4 .3-3.6 .5 10.5 .5-4.9 .1-2.8 .2-.5 .8 8.3 -.2-.2 .6-8.2 .3 2.5 .6 2.7 .1-7.3 .1 1.7 .4 5.7 .6-6.1 .3 .7 .2-2.7 .4 1.7 .2 4.2 .3-4.5 .5-1.5 .3 1.9 .5 7.1 .1-4.8 .9-2.3 -.3 2.1 .8 .8 .3-1 .5-5.9 .4 6.3 -.2-1.7 .7 3.1 .4-6.7 .4 7.2 .2-4.8 .2-3.8 .7 9.2 0-5.8 .3 2.6 .5-1.7 .2 3.7 .3-.1 .5-.1 1-1.3 -.2-7.3 .2-.4 .2 5.7 .6-3.8 -.1 4.3 .8-1.1 .3-5.1 .3 1 .5-.5 .1 .6 .6 1.9 .3 2.6 .4 1.9 .2-7.5 .6 1 0 6.6 .9-2.3 -.2-2.4 .9-8.6 -.1 4.1 .3 3.5 -.1-2.7 1 8.2 .3-6.5 .2 .3 .5-4.9 .2-.1 -.2 .9 .2-.2 1.3 1 .1 1.7 1.1-.7 .6 2.2 -.3-8.4 .3 5 .3-.3 0 4.3 -.1-6.6 -.9 1.5 2.5-4.4 .3 3.9 -.1-.5 .4-4.1 1 .3 .3 1 -.2 1.7 0-6.6 1.1 6.9 .5-4.8 1.5 7.7 -2.2-2 1.5-7.3 -.9-1.2 .8 11 2.8-7.1 -2.1-.6 .6-4.1 -.1 .8 1.7 3.1 -.9-1 -.8-5.8 2 7.6 1.1-3.9 -.5-5 .5 7.1 -.5-4.6 .1 3.4 1.3-5.3 -.9 3.3 1.1-7.8 -.2 7.5 1.1-7.4 1.4 6.4 -.5-10.5 1.5 9.4 -.4 3 -.2-1 -.5 2.7 1.4-8.7 -.9 10.2 2.3 .2 -1.8-10.7 .3 1.6 .9 1 -.5 2.3 2.1 1 -.5-10 .6 11.9 1.5-3 -2.5-2.6 2.3 7.8 .9-4.6 1 5.9 -.5-1.9 -.4-2.8 1.8 5.9 .3-.9 1.5-4.5 .3-3.6 -1.7 4.3 1.6 4.8 -.6-2.7 -.7 7.8 1.8-5 .8 .2 -2.5 1.2 3.1-4.1 -1.2 3.2 2.1-1.5 -.7-5.5 .3 2.5 1.2 9.3 -.8-3.6 1.9 1.5 -1.6-4.3 .6 3.6 0 5.1 1.3-2 0-1.7 .8 7.3 .5-5 .2-.7 .5 5.4 .3-9.3 -.2 7.9 0-5.2 .2 1.4 1.2 .7 -.3 3 .2 .2 .4 .9 .6 0 .5 4.1 .2 1.2 .1-3 .9 .4 -.6-3.4 1-2 .7 5.6 .1-1.6 .6 2.8 .1-8.2 .4 14.3 .2-12.2 .2 4.3 .6 3.1 .5-7.2 -.4 2.8 .6-4.4 .1 2 .6-1.4 .3 6.4 .5 .7 .4-1.7 .6 4.9 .4 .5 -.1-4.1 .4-.5 .6-.1 .1-.4 .4 5.4 .1-3.1 .8-1.6 .2 .4 .2 2.4 .3-2.8 .3 2.2 .6-.9 .2 4.2 .3-.5 .4-7.6 .6 3.8 .4 2.6 .3-3.3 .2 3.8 .4-1.4 .3 .8 .4-1.9 .3 1.2 .2 .7 .3-5.9 .4 1.7 .5-.2 .2 8 .3-4.1 .6 .3 .4-.6 0-2 .5-.6 .5 4.7 .1-3.5 .5 5.8 .1-4.1 .5-.2 .4-.9 .5 .4 .2 .4 .1 4.4 .4 2.4 .4-10.2 .5 4.1 .3 1.4 .4-4.7 .3 .8 .2 .6 .4-5.7 .3 8.9 .5-2 .2-.1 .4 .5 .4 .6 .4 6 .2-6.2 .4 1.9 .2-3.9 .6 2.5 .2-1.9 .3 .5 .3-2.2 .4 .3 .3 3.7 .4 .9 .5-.8 .1-3.3 .5 2.9 .4-8.3 .2 10.1 .2-2.8 .6 .9 .2 2.6 .4-4.6 .4 4 .3-4 .3 2.8 .4-2.7 .4 2.1 .3 3.3 .5-6.1 .1 .1 .4 .9 .4 1.8 .4 7.1 .3-9.6 .3-4.2 .5 4 .2-2.7 .4 3 .3 1.6 .3-2.8 .4 .8 .2-3.4 .5 5.9 .2-2.6 .4 5.3 .4-.1 .3-5.6 .3 1.5 .5 1.2 .4 2 .3-7 .3 4.6 .2 5.6 .4-5.6 .5 .9 .3-.6 .4-3.5 .3 6.2 .3-1.9 .3-.3 .3 1.6 .3 .2 .4-7.8 .4 6.9 .3-3.1 .3 2.2 .4-2.5 .4-.5 .3 5.3 .1-2.8 .6-.8 .3 0 .4 1.1 .3-.3 .4-6.8 .3 4.3 .4 1.9 .4 2.8 .2 1.8 .4-6.7 .3 8.3 .4-5.3 .3 1.2 .4-3 .2-.2 .4 5.9 .4-4.8 .4 .3 .2 3.7 .3 1.6 .5-9.3 .3 3.8 .4 .5 .3 5.2 .3 1.9 .5-7.3 .1 1.2 .3 1.4 .6 .9 .2-4.3 .4 3.4 .3-4.6 .3-5.7 .6 3.7 .2 4.6 .2 1.7 .4-8.9 .4 1.3 .3 5.1 .4-9.7 .2 11.4 .4 1.4 .5-11.8 .3 10.9 .3-2.8 .3 4.7 .2-3.4 .7-1.5 .1 1 .4 2.4 .4-2.3 .4-.4 .2-4.4 .3 5.6 .4-1.4 .6 5.3 .4-5.5 0-.3 .5-1.6 0 3.9 .6-2.8 .4-1.5 .2 6.8 .7 .4 .2-6.6 .3-1.8 -.1 6.3 .6-5.9 .6 10.8 .1-8.8 .2 3.2 .5-6.8 .7 3.7 .2 3.3 .4-2.1 .2-3 .6 8.9 -.4-5.2 .6-3 .9-1.2 .2 .9 .2 4.8 .2-6.5 .1 2.3 .6-2.6 .4 6.2 .2-4.4 .8 3 .2-1 .1-3.5 .6 3.8 .1 .6 .5-6.4 .1 5.6 1.1 8.7 -.6-12 .6 2.9 .7-6.2 .3 5.5 -.3-3.3 .5 4.1 .6-2.6 .1-3.5 .4 7 .5-4.1 .3-2.6 .7 3.3 -.4-3.2 1.1 4.2 0-1.5 .5-.9 .1 3.2 1.1-6.1 -.8 7 1.2-9.3 -.1 11.2 .4-4.5 .8-1.4 -.1-1.5 .6 4 .5-2.2 -.2-.1 1.1 3.8 .1-4.7 -.1 .6 .5 2.1 .1 2 .6-3.9 .5 .9 .4-.4 .1 2.2 .2 2.3 .3-7.7 .2 2.5 .6 .2 .6 1.9 0 2.8 .3-4.8 .2 .6 .8 2.9 .1-7.7 -.1 1.5 1.2 .9 .4 1.3 0 .7 .2-2.5 .5 7.1 0-7.9 1 1.5 .5 4 .2-1.1 .1-2.6 .3 1.1 .5 1.3 .7-2.8 -.5 2 .6-5.2 .1 3.1 .1-5.7 1 2.4 .6-1 -.5 7.7 1.2-5.7 .2 2.4 .2-4.1 .7 2.3 -.4-.4 1.2-1.9 -.4 5.5 .7-8.3 -.5 7.5 1.4 6.6 -.1-11.5 .1 2.8 .2-5.3 .8 5.1 .8-5.6 0 7.7 0-3.6 .2-4.4 .2 1.8 .7-.9 -.2 4.4 .8 3.8 1-4 -.1-2.5 .3 1.2 .1 3.3 .9-8.2 .3 10 .6-.5 -.4-9.2 .2 12 .5-9 .1 4.8 .8 4.7 .2-9 .2-.5 .6 2.5 .7 .3 .3 3.2 -.1-1 .5 .2 .5 .3 .4 1.1 0-2 .1 3.9 .8-.8 0-3.1 .5 9.1 .4-9.5 .6 6.4 0-4.5 .5 3.6 .3 .7 .3 1.2 .6 1.9 .1-6.9 .5 11.6 .3-7.5 -.1-3.6 .4-1.6 .1 11.6 1-2.1 .3-5 .2 2.5 .4 1.8 .4-3.6 .3-1.5 .4 1.3 .3 2.8 .3-2.4 .7-3.7 .2 6.1 .2-7.5 .7 3.1 .4 6.1 .1-3 .4 .1 .1-.3 .3 2.8 .2-3.2 .5-5.6 .5 6.7 .2-9.9 .2 3.1 .7 10.9 .4-1.5 .3-4.5 0 1.2 .6 .6 .2 2.7 .4-5.2 .4-.3 .5 .8 .1 2.3 .4 .4 .2-1.9 .5 3.5 .2-5.3 .4 2.9 .5-1.8 .3-.9 .3 6.6 .4-4.5 .4-2 .3 3.1 .2-3.1 .3 4.8 .5 .8 .4 .5 .4-6.1 .3 2.7 .4 5.9 .2-6.1 .3 4.4 .4 .8 .2-8.6 .4 7.7 .4-1.3 .3 .3 .5 2.5 .2-3.7 .5-1.1 .1 1.6 .5-2.8 .3 2.5 .4-7.4 .3 11 .4-6.6 .1 3.2 .5-.7 .5-.6 .2 0 .4-.1 .4-5 .4 3.2 .1 5.1 .4-6.5 .3-.1 .5 9.3 .2-2.7 .3 1.1 .4-4.6 .4 .8 .4 1.4 .3-.6 .2-1.9 .4-4 .4 2.1 .4-2.2 .3 9 .3-5.8 .3 .6 .4 1.4 .3-.8 .5 1.5 .4-3.4 .2-2.6 .3 9.6 .6-7.2 .2 .6 .3-.9 .3 .7 .4 1.7 .3 2.1 .4-5.2 .2 3.9 .4-2.8 .4 5.5 .3-7.2 .4 3.9 .4 1.8 .1-6 .4 4.3 .4 .1 .4-2.8 .3 1.7 .5 3.5 .2-2.2 .4-1.9 .2 .6 .6 1.9 .2 2.4 .3-1.4 .3-.2 .4 2.4 .3-9.1 .5 .3 .2-2.4 .4 9 .3-9.1 .4 6.5 .4 2.4 .4-6.4 .3 2.2 .3 1.1 .3 2.9 .4-6.6 .4 5.3 .3 1.1 .1-1.6 .5 0 .3 3.1 .2-3 .7-.8 .4-.9 .3 2.8 .3-2.8 .4 2.7 0-1.7 .7 3 -.1-5.7 .6 2.5 .4 .7 .4 .2 .3 2 .4-2.2 .1 1.4 .4 3.1 .3-3.4 .5-5.8 .3-1.2 .1 6.2 .8-3.3 -.1 1.9 .5-1.5 .3 4.3 .3-.4 .6-7.2 .1 4.1 .2-1.8 .5-3.3 .3 5.8 .2-2.5 .9 1.6 .4 6.1 -.3-3.7 1.1-.9 .4-4.8 -.5-2.6 .9 7.3 .1-5 .7 .9 -.8-1.6 1.4 1.3 0 7.1 .7-8.9 .5-.1 -.8 1.3 1.1 0 .4-5 .6-2.2 .5 3.6 .2 .9 -.3-2.2 1-1 -.3 0 1 1.5 -.1 .6 .4-5.3 .5 3.3 -.5 2.7 .9-1.8 -.1-4.4 1.5 3.1 .5 .9 -1.1 2.5 -.1-8.3 1.7 7.6 -.1-4 .1 2.1 2.2 1.5 -1.2-5.4 0 .1 .8 2.3 .6 2.8 1.1-4.4 -.4-3 -.5 2.4 .8 3.6 1.6 2.6 -1.7-5.6 1.4 .6 1 .5 -.2 .1 .1-2.7 -.1 1.7 1 2.2 .5-.4 .2-.2 .8-3.5 -.1 1.5 1-.6 -.4 6 .8 1.4 -.3-3.8 1.5 4.2 .1-6.4 0-.1 -.7-3.4 1.1 5.1 -1.5-2.3 1.8 1.8 .7 1.3 -.3-2.5 1-3.1 .6 3.7 1.1-.1 -.8 .3 -.6 2.2 -.1-3 1.7-.1 .9 6.8 .5-2.2 -.2-3.9 -.2-2.7 .4 1.7 .6 3 .5 1.7 .7 5.5 0-8.8 1.4 1.6 -.7-1.5 .6 1.7 .6-1.3 .3-2 -.5 7.3 -.2-2.7 .5 4.1 1.2-5.5 .5 2.8 .2 1.6 .5-7.9 .6 2.2 -.6 7 1.8-1.7 .4-5.9 -.5 3.9 0-.7 .5 2.1 -.3 6.8 .9-6.4 0 8.5 .6-6.9 .3-1.2 1.1 7.4 -.6-1.6 .7 1.6 .2 1.9 .9-2.4 .2 .7 -.4-8.8 .5 3 .7 4.1 .1-.5 .6 1.7 .2-3.4 .1 5 .6 2.9 .5-4.1 .2 .9 .4-.8 .4 1.4 .2-1.9 .6-2 -.1 2.2 .6-.1 .2-4.7 .5 5.4 .4-.5 .3 .6 .4-2.1 .3 3.2 .3 .5 .3-3.8 .5 3.1 .3 1.4 .3 0 .3-4.7 .4-.2 .1 3.1 .4-3 .4 10.3 .5-9.5 .4 .1 .2 4.2 .2-3.1 .5-5.4 .4 6.4 .3-2.3 .3 1.3 .3-3 .3 2 .4 2.2 .5 .3 .3-2.9 .4 1.1 .3-.3 .3 2.8 .3-.7 .4-3.1 .3 5.4 .2-3.8 .4 3.1 .4-3.6 .5 3.4 .2-1.1 .3 .5 .4 1.3 .4-.1 .2-.8 .5 .1 .2-4.1 .5 3.5 .3-6 .3-.1 .3 5.5 .4 .3 .3 4.9 .4-2.4 .3 1.3 .3-3.9 .4 2.1 .3 2.1 .4-1.8 .4-.4 .3-.7 .4-2.9 .3 .2 .3-1.5 .4 5.2 .3-1.9 .3-1.1 .4 2.9 .3-2.6 .4 4.6 .3 2.5 .4-4.1 .4-3.2 .2-2.2 .4 9.9 .3-4.4 .4-4.5 .3 6.3 .4-7.7 .3 3.5 .4 .6 .3-.3 .4-2.2 .3 10 .4-7.9 .2 2.3 .5-1 .3-4.6 .3 3 .3 2.2 .5 2 .3-3.6 .2 2.1 .4-2 .4 2.6 .3-8.6 .4 8.7 .3-3.4 .4 .1 .3-6.3 .4 5 .3 4.7 .3 4.8 .3-8.4 .4 .1 .3 3.3 .4-.6 .3-2.4 .4 1.2 .4-.6 .2 2.8 .4 .5 .4 2.8 .3-2.4 .4-.7 .4-1.4 .2 2.2 .4-5.3 .4 8.8 .3-5.2 .3 3.2 .4-6.2 .3 5.1 .4-1.7 .3-1.7 .3-1.3 .4-.6 .3 7.6 .4-1.6 .3-3.1 .4 .2 .3-2.6 .4-3.1 .3 .2 .4 3.3 .3 1.3 .3-2.8 .4 5.5 .3-.7 .4-1 .3-5.4 .3 4.3 .4 .6" fill="none" stroke="none" marker-start="url(#c)" marker-mid="url(#c)" marker-end="url(#c)"/>
<path d="M164.6 712.6l.4-.7 .3 4.4 .3-3.7 .4-3.4 .4 0 .3 4.5 .3-1.8 .4 6 .4-5.9 .4-2.3 .3 1.7 .2-1.3 .4 6.9 .4-5.6 .3 6.6 .4-2.7 .3 4.2 .3-6.1 .3 2.7 .4-8.5 .4 4.7 .3-.8 .3 5.5 .3-3.7 .4 2.3 .3-4 .4-1.7 .3 3.5 .4 4 .4-3.9 .4 4.7 .2-5.5 .3-.1 .4 0 .3 .3 .4-1.3 .4 1.3 .3-1.6 .4-.7 .2 7.4 .4-1.9 .4-3.4 .3-.9 .4-2.8 .4 6.3 .2-3.7 .4 7.5 .3-10.6 .4 6 .2 2.6 .4-5.1 .3 7.4 .5-2.9 .3-.1 .3-5.3 .4 5.4 .3 0 .4-2.6 .3 4.9 .4-4.3 .2-7.5 .4 7.5 .3 4.1 .5-6.8 .3 3.9 .4-4 .2 1.8 .3-7.9 .5 2.6 .3 4.4 .3-.8 .4-3.8 .3 7.5 .4-1 .3-3.6 .3-3.5 .4 7.7 .3-3.1 .2 3.5 .6 1.2 .3-4.4 .4 .4 .1 2.8 .5-3 .4-5 .2 7.5 .5-.9 .3-2.6 .3 3.2 .3-2.6 .4-.1 .5 3.4 .2-6.3 .3-.7 .5 4.2 .2-3.4 .4 6.4 .4-4.7 .3-2.9 .3 3.8 .3-5.3 .4 10.5 .4-4.1 .3 2.1 .3-.5 .4-.9 .4-3.7 .3 5.4 .4-3.3 .3-1.3 .4-3.7 .2 9.7 .3-4.5 .4-.5 .4-4.4 .3 8.3 .3-3 .4 3.2 .3-3 .3-2.4 .5 4.1 .3-6.2 .3 0 .3 4.3 .4 2.4 .3 1.1 .3-3.6 .5 0 .2 .9 .4-1.2 .5-.9 .2 2.9 .4-2.9 .3 .8 .4 4.1 .4-2.8 .2-2.2 .4 3.6 .2-2.5 .5 2.4 .3-4.5 .4 .2 .2-1.9 .3 7.4 .5 .8 .3-.6 .5-2.4 .2-.5 .4-1.3 .2 2.4 .3-2.3 .5-2.4 .2 5.9 .6-.3 .3-1.1 .3-1.8 .4-.9 .2 1.4 .3 .3 .6-4 .2 2 .4-1.7 .2 6.3 .4-7.2 .4 .4 .2 .9 .3 3.1 .4-3.2 .4 7.8 .4-3 .3-9.1 .3 7.6 .3 .3 .4-4.7 .4 3.4 .3 .5 .3-2.1 .3 1.5 .4 1.3 .3-2.5 .5 1.3 .3-3.3 .2 5.3 .4-3.7 .4 5.4 .4 2.4 .2-1.1 .4-6.3 .3 2.6 .4-2 .3 2.1 .7-3.8 .2-.5 .3 2.8 .3-2.2 .2 5.9 .4-1.5 .5-1.2 .2-1.4 .5-.1 .2 3.4 .4-2.7 .3-.2 .4 5.4 .3-5 .5-1.2 .1 .1 .4 4.4 .3-5.2 .4 0 .4 4.6 .3 .2 .2 .7 .4-6.7 .4 3.8 .4-3 .3 2.9 .3-5.9 .5 4.1 .3 3.7 .5-2.6 0-7.7 .4 10 .3-1.9 .6-1.9 .3 .8 .2-.9 .3 4.3 .5-3.5 .5-4.7 .3 2.2 .1 7.3 .5-1.5 .3-1 .5-4.7 .5 3.9 .1 1.5 .3-2.8 0 1.9 .7 1.1 .1-.3 .5-1.7 .5 0 0-5.1 .9 2.8 -.1 3.3 .5 2.6 .2-4.5 .5 2.6 .2-3.2 .4-2.9 0 4.1 .8 0 .3-4 .2 0 .4 2.7 .2-1.7 .4 3 .5-5.6 .4 6.4 .4-4.3 .4 2.9 .3-5.7 .2 7.4 .4-2.3 .2 5.7 .6-11.3 .1-.5 .3 7.5 .5 .5 .1-8 .5 6.9 .1 1.1 .5 1.4 1-3.9 -.5-5 .8-1.3 .1 12.1 .3-5.1 .2 1.7 .7-4 .2 .2 .4 .1 .7-2.3 -.2 1.9 .2-2.5 .7 2.1 .6 4.5 .1-3.3 .6-2.2 .3 7.3 .2-1.4 .1-3.8 .5-5.5 .6 9.2 .2 0 .2-5.9 .5 6.1 .2-6.9 .5 1.7 .2-.7 .7 1.9 .1-1 .3 4.7 -.1-5.5 .3 2.4 .7-1.3 .3 .6 .9-3.4 -.3 2.4 .3 4.3 .8-1.8 -.3-6.2 .8 2.3 0-1.9 0 .8 .6 .2 .7-1.9 .4 5.2 .3 1.3 .2-2.4 .5-2 .4 1.9 .3-3 .8 5.6 .1 3.9 -.1-15.6 .4 9.4 .3-1.1 .6 .4 .6-1.6 .5-3.9 -.1 4.4 .2-1.1 .2 .7 .2 .2 1.3-1.5 -.3 8.7 .3-11.2 1.1 2.6 -.4-2.9 .5 3.4 .5 5.3 -.4-5.1 .5-2.6 1.8-1.7 -.6 5.9 -.4-4.1 .8 4.1 .5-4.3 .6 .4 .1 1.4 0-5.1 .7 8.9 .8-7.6 -.3 4.1 .1 .8 .4 6 -.1-6.2 1.7 1.1 0-4.5 .1 1.1 .5 .3 .8 3.3 -.3-6.8 -.1 4.4 1.3 7.9 -1-12.6 1.1-3 1 4.1 .5 1.2 -.3 5.7 .3-4 .4 2 .2-6.3 .4 2.1 1.1 .9 -.1-3.9 .9 3.6 -.2-2.1 -.1 1.5 .4-5.6 1.6-2.3 -1.1 11.2 1.2-4.6 -.7-.7 1.2 8.9 -.2-5.5 .3-2.2 .1-3.9 .4 3.3 .9-.7 1-1.9 -.2 5.5 -.4-2.5 1.1-.9 -1.5-5 1.9 .1 1.9 6 -2.7-3.3 1.7-3 1.2 2.8 1-1.3 -.1-2 -.8 .6 1.8 3 .3-1.8 -1-4.6 .6 0 -.4 3.4 .8-5.2 1.7 3.8 -1.7-1.3 2.3-4.7 -.4-4.5 .4 5.2 -.5 2.6 1.5-.4 -.4 4.2 .3-5.2 -1.1-.8 2 1.1 -.1-3.6 1.6 7.6 -.4-9.4 .1-1.7 -.1 .7 .2 6 .2-7.7 2-1.5 -2.3 4.6 .3 1.5 2.5-7.2 1.9 3.6 -1.1-6.4 -.3 7.5 3.6-11.2 -2.2 2.3 -1-1.7 1.5-3.3 1.6 2.5 -1.9 2 2.3-7.7 -1.5 10.6 1.1-8.6 .6-1 -4.1-6.5 6.3 1.7 -.7 2.8 .1-10.5 -.1-.3 -.3-2.5 2.8-4.2 -1.8 7.4 1.7-9 -3.7 10 6.2-16.6 -2.5 2.3 .5-.4 -1.8-7.8 .6-8.6 2.4 5.2 -5.6 .6 7.6-7.8 -2.9 3.8 .3-14.8 1.7 9 3.3 7.2 -2.4-9.7 1.8-3.1 -3.4-11.4 1.3-4 2.8 5.7 -3-12.5 -2 2.1 3.5-13.7 .8 4.2 .6-5.4 1.8-18.6 .3 8.4 -1.4-.3 1.9-4.6 -.7-5.6 .7 .9 -1.5-10.5 2.7-6.5 -1.4 7.6 2.7 5 -4.1-17.2 4.3 8.7 -3.5-12.6 2.7-10.3 -2.3 1.1 .5-2.3 2.8 9.7 -3.6-8.8 4.3-6.5 2.1 1.6 -2.1 5.1 -3.5-11.4 3.7-6.3 -1 4 .6-9.7 -.1 5.5 2.1-2 1.4-9.8 -1.9-8.6 2.1-1.5 -2.7-13.9 5 13.4 -5.1 .4 .2-18.2 1.5-16.5 2.2 4.7 .7-8 -3.8-5.6 3.3 7.7 .6-2.4 3.8-4.7 -4.3 9.1 -1.4-7.4 -.1-6.5 2.7 8.4 1.5-9.6 -.1 6.4 -.1-1.4 -.8 8.6 1.5-1.1 .5 .9 4.3 8.1 -3.8 4.7 -1.3 2.3 1.4 9.2 .7-8.9 -2.7 13.1 3.6 12.2 .7-5.3 .3-8.6 -1.5 24 1.5-2.1 1.3 10.1 1 .2 -.7 4.6 -2.4 6.1 3.4-4.1 1.6 6.5 -2.7-10.1 -3.6 5 5.7 7.1 .5 12.7 -1.5-12 -.5 5.3 2.7 8.5 -.3-4.7 -1.2-2.2 -.1-1.6 .8 18.9 1.5-9.2 -1.3 11.3 -1.9 3.3 1.1-6.7 1.5 13.2 .8-11 -1.2 16.6 2.4-1.2 -1.9 11.9 3 4 1.5 3.9 -1.1 6.7 -.8-3.7 1.1-1.1 -4 4.9 6.1 17.1 -3.4-8.7 .1 7.5 1.2 7.5 -.6 .2 1.9-1.6 -.1-3.2 .7 20 2.3-5.5 -.9-2.9 -1.3 8 1 6.2 -.7-8 3.3 13.4 -3.1 1.6 1.5 4.4 3.6 0 -2.7-2.9 1-1.1 .9 8.9 -3 .3 3.2 11.5 1.6-6.9 -.9 4.9 1-.1 -2-6.7 1.8 12.8 -.2-4.1 .9-3 -1.8 9.5 1.4 4.7 2.1-4.7 -1.4 .5 2.2-.5 1.8 2 -1.5 7.4 .1-3.3 1 2.3 -1.7 1.5 .9-13.4 -.3 13.3 .6 2.4 3.5-.6 -2.6-6.1 1.2 3.5 0 6.4 .3-.4 .5 .7 .4-5.5 .9 6 -.3 4.9 1.1-4.8 -.2 5.4 .2-1.3 .4 .3 2.1-5.1 -2.2 .5 1.2 .4 1.1 7 .2 .8 -.9-8 .3-.5 1.1 5.5 1.3 4.6 0-3.4 -.2 1.6 .1-.2 .4 .6 .4-2.2 -.5 2.4 .4 1 1.2-2.5 1.7 6.5 -.8-9.3 -.9 2.6 .8-1.3 1 6.8 -.2 .3 1-6.1 -.2 3.1 .3-1.6 .1-2.9 1.3 2.1 .3 4 .4 1 .5-4.2 -.1 2.7 1 2.9 -.8 2 1.3-3.2 -.3-3.7 .4-2.4 .2 5.6 .9-1.1 .2-.7 .8-.2 -.6 .6 .9 2.5 -.2 1.8 1-4.7 .7 8.8 -.7-1.3 1.3-5.3 -.6 2 1.4 4 -.2-7.7 .5 1.1 -.3 .1 1.4-1.2 -.3 5.7 .2-2.9 .9 1.1 -.3 .1 .5-.8 .3 5.5 .2-5.2 1-2.1 .6-1.6 -.6 2.3 1.2 2.9 .2 0 -.2 .5 .7-2.2 .8 2.8 -.5 .1 .3-5.1 .2 5.1 1.4 .1 0-2 -.2 4.3 .5-3.2 .6-2.4 .1 5.3 .7 2.7 0-9 .7 3.4 .1 3 .3-.8 .1 1.3 .6 1 .5-9.5 -.3 7.7 .9-7.1 .6 2.2 .2-.4 .2 4.9 .2-6.6 .1 5.5 .4-4.9 .5 10.8 .2-7.7 .6 1.6 .2-3.5 .4 1.9 .7 5.8 .1-3.2 .5-4.2 -.3 2 .9 1.1 0 5.9 .9-5.7 -.3 1.7 .5 1.9 .7 4.1 .6-5.2 -.4-5.2 .6 .3 .2 8.2 .9-3.9 .4-7 0 4.3 .5 .2 0 .4 .2 3 .7 .1 .2 2 .5-9.7 .2 6.6 .6-1.4 .1-2.6 .4 5.8 .5-6.5 .2-.2 .5 9.1 0-3.6 .3 1.2 .7 1.5 .3-7.7 .1 8 .2-3.8 .5 1.3 .4 .9 .3-.5 .2-3.1 .4 1.2 .6 .5 .4 2.7 .4-9.8 0 10.9 .3-7 .6 9.3 .2-5 .5 3.8 .4-5.9 .1 5.9 .4-3.9 .1 0 .4 .1 .7-8.8 .5 3.1 -.2-.4 .4 5.1 .5-.9 .5 3.1 -.1-1.4 .7 2.7 .5-5.8 -.2 3.1 .5-2.5 .6-2 .4-1.8 .1 5 .6-2.4 .3 1.1 .1-1.2 .5-.4 .3 11.7 .3-8.3 .5-4 .1 3.3 .3 .6 .4-4.4 .3 7.5 .5-5.9 .5 4.4 .2-3 .3-1 .4 12 .5-11.4 .2-2.7 .4 2.9 .2-1.4 .4 6.2 .3-1.9 .6-4.8 .2 8.8 .5-6 .2-3.2 .3 7.2 .1-1.3 .6-5 .2-.3 .6 2.9 .3-1.6 .3 3.7 .3-.8 .5-4.4 -.1 .3 .7 2.5 .2 4.6 .3-5.8 .4 3.7 .4-3.7 .4 3.2 .4-3 .2 3 .3-3.9 .6 .4 .3 8 .1-3 .4-6.5 .4 7.2 .3-4 .5 4.5 .2-8 .3 3.7 .8-1 .1-.8 .4-1.3 .2 9.2 .2-5.7 .6-.9 .4-4 .1 8.3 .4 0 .4-3.8 .3-3.6 .1 5.8 .6-1.6 .4-4.3 0 10.5 .8-4 0-5.1 .3 .6 .4 4.7 .5 1.3 .3-1.8 .2-.2 .5-2.6 .4 7.3 .2-6.9 .2 1.5 .4 .5 .4-2 .5 3.2 .2 2.3 .5-11.2 .6 6 0 4.4 .3 .5 .5-5.6 .4 3.4 .3-1.4 .3-.1 .2-2.3 .2 4.9 .5 .6 .4 1.2 .2-3.9 .3-.4 .5 3 .3 6.5 .4-10.5 .6 .4 .2 5.5 .1-8.5 .6-4.2 .2 10.5 .3 1.2 .4-.2 .7-.9 0 .3 .3-5.3 .4 5.2 .4-6.1 .3-1.7 .3 4 .3-3.1 .4 .5 .2 1.4 .5 .7 .4 1.7 .4-3.5 .2 1.3 .5 1.3 .3 .9 .4 1 .1 .9 .4-1.6 .4 .7 .5 .6 .2-2 .3 .6 .4-3.2 .5 3.4 .1 2.2 .3-4.8 .5 5.8 .3-5.4 .5 4.7 .3 1.8 .3-4.3 .3-1.8 .3 2.5 .5-2.5 .3-1.5 .3 5.8 .1-8.8 .4 8.4 .5-5 .4 5.1 .4-4.3 .2 7 .2-6.9 .5-5.2 .3 15.4 .2-8.6 .4-.5 .4 .4 .5-1 .4 1.9 .2-3.1 .4 8.7 .3-8.6 .4 4.1 .2 2 .5-4.6 .3 3.2 .5-4.2 .2-1.3 .3 .6 .4 5.6 .3-.1 .4-5.8 0 5.7 .5-5.7 .7 3.2 .1 1.6 .5-8.3 .2 8 .2-2.7 .5-3.6 .3 6.5 .3-1.2 .6 .2 .4-1.9 0-1.2 .7-1.9 .2 3.2 .1-2.4 .6 1.8 .3 2.5 .3 1.2 .1-1.2 .6-.4 .2-1.7 .7 3.7 0 .7 .2-5.1 .7 .2 .1-1.6 .7 2 0-.4 .6 7.1 .1-1.8 .4-8.2 .4 6.4 .2-3.1 .6-4.5 .1 6 .7-2.9 .3 3 -.1 .6 .9-3.6 .1 6.5 .2-4.1 .5-2.9 .3-2.6 .5 11.7 .3-9.2 .4 2.5 -.1 .7 .7 1.8 .1-6.9 .2-3.4 .5 7.7 .3-4.9 .6 3.6 .2 7.1 .5-8.1 .2 3.8 .4-5.6 .4 12.6 .1-10.4 .5 2.3 .3-1.8 .3-1.5 .2 5.1 .7-4.1 .4-2.2 .6 1.1 0 .6 .3 1.1 .1 0 .6-3 .6 .8 .6 8 -.1-7.5 .7 5 .4-5.8 .4 2.4 0-3.3 0-4.4 .5 4.4 .7 4.4 -.2 1.1 .5-.8 .1-5.4 .4 .6 .1-2.8 1.2 4.4 -.3 1.6 .6-2.1 .5-3.4 0 3.6 .1-1.2 .5 1 .2-2.3 .8 1 0-3.2 1.1-.6 -.3-5.9 .7 8.9 -.3-.4 -.1-4 1.1 8.1 .9-1.3 .4 1.5 .5-6.5 -.5-.7 .3 1.7 .6 1.8 .1 1.7 .9-8.8 .5 2.4 .4-6.8 -.7 5.9 1.8 3.8 -1.8-1.1 1.3 5.6 .2-6.3 .7-4.3 .2-1.5 1.3 3.3 -1 4.6 1.4-10.9 -1 .7 1.1 3.4 .7-1.9 .8 4.1 -1.4-5.4 -.5 1.5 3.6-.6 -1.9 .4 .9 3.9 .4-10.4 1.8-2.2 -.2 .5 .8 4.1 .5 1.1 -.5 1.2 -.4-1.3 2-1.2 0-7.9 -.4 3.8 -1.9 3.8 1.6-7.1 1.5 2.5 -.7-.3 2 3.2 2.4-6 -2.7-3.8 .7 4.8 1-.2 1.5 4 -4.6-6.4 2.4 1 2.9-1.7 -1.6-.4 -1.9 10.1 3.4-19.8 -2.3 12.6 3.5-6.4 .5 3.1 -1.6-7.3 -.9 6.8 2.8-4.8 -.9 5.3 .4 3 -.1-11.7 .5-2.1 -.4 11.4 3.2 3.1 .8-8.9 -2.8-9.6 -.4 1.8 3.6 10.6 1.2 3.1 -.8-8.7 1.3-5.8 -.2 10.7 -.8-11.5 -.2 2.7 -.5-.1 1.4-.4 -2.3 5 5.5-7 -3.8 4.7 2.6 4 .5-.1 -.4 .9 .4-7.9 -.8-6.1 .9 8.4 2.2 .1 .3 .3 -2.9-3.1 2.3 3.8 -2.3-6.7 3 8.4 .6 4.3 -2-7.2 4.9-.3 -4.2 2.8 4.5-.2 -4.3 .3 4.2-1.5 -3.9-1.9 2.6 8.5 -1-12.1 3 10.7 -1.5-8.5 1.3 6.2 1.1-6 -1.7-2.2 1 2.6 1.7 .7 -1.6 10.6 2.5-8.1 -3.1 0 6.4-.7 -1.1 4.6 -3.8 .5 1.4 3 1.1-4.9 1.8-1.7 .6 5.4 .8 4.5 .5 0 -3.1-6.8 2.2 2.6 -.1 4.1 1.5-3.3 -.8-2.8 -1.9 7.2 2.2-1.7 4.3 3.3 -3 2.8 1.9-4.9 -1.3-2 .1 2.1 .7 6.8 .1-2.1 1.6 3.3 -1.2-4 -1.3 4.9 3.5-4.3 0 0 -.7 3 .6 .1 1.3 .1 0 1.7 -1.1 4 2.7-5.7 1.5-3.6 -2.1 8.8 -.7 6 2.3-2.7 .7-7.9 -1.8 6.6 -.2 3 .6-.4 1 3.9 -.1-3.2 .9-12.9 .3 12.8 -.6-4.5 1.9-.1 1.1-2.4 -2.1 2 1.6 3.7 .2 5.6 .1 .6 .9-1.4 -.4 2.4 1.6-5.3 -.4-1.2 -.1 9.9 1.2-4.6 .2-2.5 1.1 4.1 -.4-4.8 .1 8.3 1.5-9.5 -.5 2.9 .4 1.6 .9 .2 -.7-3.2 .6 7.4 .1-.6 1.5-1.6 -.9 2 .3-3.1 .3 4.9 1.6-4.8 0-1.4 -.4 3.2 .4 .2 1.5 2 -.8 1.3 .6 3.5 .1-9.6 1.4-.6 -.7 6.2 .1 3.5 .9-.7 .4-3.4 .1-.2 .3 0 0 6.7 .6-6.1 1.1 1.8 -.6-4.7 1.1 6.9 .6-3.1 .1-.3 .1 0 .6 .7 .3 9 -.2-6.4 .8 .3 -.1-4.3 .1-1.9 1.1-2.1 -.1 4.9 .6 2.4 0 .3 .8-5.1 .3 6.6 .2-3.6 .2 5.2 .4-4.1 .5 1 .2-2.3 .3 .3 .6 2.2 .3 1.7 .4 .6 .4-4.3 0-1.5 .5 5.1 .2 2.6 .3-5.2 .6 .2 .2 0 .5 2.4 .2 2 .5-5.7 .2 4.2 .4 3.1 .5-2.5 .4-4 .1-2 .1 4.5 .4 4 .7-1.6 .5 1.9 .2-5.3 .4 1.3 .1-2.5 .3 4.1 .6-2.2 .3-1.7 .3 1.2 .3 2.9 .3 1 .1-.3 .7 4.6 .3-4.6 .2-4.9 .4 5.9 .5-5.6 .1-.7 .3 5.4 .6-3.8 .4 1.8 .3-1.5 .3 1 .3-4.5 .3 7.7 .1 1 .6-4.3 .3 4.4 .6-1.1 .1 1 .4 .9 .4-7.9 .2 6 .3-2.8 .6 2.7 .3-3 .1 6.9 .5-1.2 .5-4.9 .1 1.4 .4-.6 .4 .1 .3 2 .3-5.5 .1-1.3 .5 7.4 .4-2.2 .5-2.3 .5-.7 .4-2.3 .2 3.5 .2-4.2 .2 5.5 .5 .4 .4-2.8 .3 5 .4-.8 .4-1.6 .1-2.8 .4 .3 .6-.8 .2-3 .4 5.8 .3 2.1 .2-6.6 .6 5.5 .1-1.8 .5 1.1 .3 1.8 .3 .6 .2-4.7 .5 4.2 .2-3.4 .5-6.3 .3 13.5 .5-5.9 .1-1 .4 4.9 .4-2.6 .1-3 .6 2.3 .3 .3 .3-1.5 .4-6.3 .4 7.4 .3-3.2 .4-.3 .4 3.1 .3 6.2 .2-9.8 .4 4.4 .4-5.3 .3-.4 .3 3.7 .3 3.7 .5-1.8 .4 0 .2 2.7 .3-2.2 .3-3.1 .3-1.1 .4 1.9 .5 1.9 .1-2 .7 .3 .2-1 .3-.7 .3-1.2 .5 1.2 .2 7.5 .6-2 .1 .9 .4-3.7 .2-.8 .6 2.8 .3-3.5 .3 4.4 .5-2.9 .1 1.9 .2-4.6 .3 7.6 .5-4.8 .4 1.4 .3-4.2 .5 .2 .4 4.1 .1-6.9 .6 8.4 .1-5.4 .3 4.6 .5-4.8 .4 1.8 .3 .4 .2 2.4 .6-5.2 .2 4.1 .3-.8 .4 1.4 .3-4.7 .4 2.4 .2-2.2 .6 1.1 .1 4.2 .5 .3 .3-6.2 .4 2.3 .1 .2 .7-2.6 .3 1.6 .2-2 .5 4.8 .2-4.5 .4 7 .3-10 .2 7.4 .4 .1 .3-3.7 .4-3.1 .2 5.5 .5-4.1 .4 6.7 .4-2.9 .2-.4 .6 .4 .1 1.9 .4-2.3 .3 1.6 .3-.6 .4-2.6 .3 4.8 .3 1.4 .2-1.5 .6-2.9 .4 1.6 .3-5.1 .3 .7 .4-.2 .4 .8 .2 4.1 .4-4.9 .4 .6 .3-2.6 .4 2.3 .4-2.9 .2 7.5 .6-3.1 0 3.2 .5 1.2 .3-2.6 .3-.5 .2-.6 .5-1.7 .3-5.1 .4 6.9 .4-2.7 .4-.9 .3 1.2 .2 1.6 .8 2.1 0-5 .6-.8 0 6.8 .5-1.6 .5 .7 0-3.2 .3-3.3 .6 8 .5-.3 .2-5.5 .3 2.9 .2 2 .5 4.1 .4-3.8 .1-2 .2-2.4 .8-.7 -.1 1.1 .3-1.8 .5 3.8 .7-1.6 -.1-1.1 .6-2.4 .6 3.3 .1-1.4 .2 2.1 .3-4.1 .2 4.8 .9-2.4 -.2 6 .6-8.1 .5 8.2 .1 2.7 .4-8.9 .6 6.2 .1-2.8 .6-7.2 .4 1.9 .4 4.7 -.3-2.2 .7 1.6 .3-1.4 .3 3.1 0-5.4 .7-2.6 .7 1.1 .3 1.8 -.1-2.8 .5 2.6 .3-.7 .6-.5 -.1 .7 .4-1.2 .1 4.1 1-2.9 .7 1.9 -.1-7.1 .4 4.4 .4-1.7 -.3-4.9 .9 12.4 .7-10.8 .2 6.6 -.1-.5 .1 1.1 .4-5.3 1-7.1 -.3 10 .6-2.6 .4 2.2 .1-2.9 .1 4.4 .9-2.8 -.2-3.2 .5 8.8 1.1-10.2 .2-5.7 -1.2 7.3 .9 .9 1.4-.1 -.6-4.1 1.3 1.4 .5-3.3 .4 1.1 .8 3.2 -1.6-4.5 .6 3.8 .6-3.8 .3 .7 1.4-2 0 4.7 -.6-4.2 .6-3.8 -.3 2.7 1 3.3 -.5-3.9 3.2-5.5 -.6 .5 -.7-1.7 .5 8.3 1.3-5.1 -.5 1.9 1.7-.8 -.8-5.1 2.7 4.8 -1.4-5.5 -1.7 .9 .4-10 .9 6.7 3.2-2.1 -2.3-2.3 2 3 -2.7-6.9 2.9 3.2 -1.9-10.4 1.2 8.7 1-2.9 -1.7 9.2 5.9-7.4 -4.9 .8 1.3-15.9 3.8 9.6 -.9-4.1 -4.9 9.8 4.8-2.3 1.4-4.6 -2.9-.6 1.9-1.1 -.8-1.5 .3 2.4 4.2-1 -.8-4 -2.5-3.2 -.2 10 3.4-9.7 -.5-1.9 -.5 13.5 1.2-10.4 -2-1.5 1.2-5.7 .3 1.3 3.5 11 -1.6-7.8 -1.2 6.8 .7-10 3.2 8.8 -.8-2.7 -1-2.2 .6-5.8 2.1 14.5 -1.3-4.9 .4-.1 -.3 4.6 -2.4-7.8 5.1 11.5 -.9-2 1.9-.3 3.9 1 -5-4.8 1.8 3.1 -1.2 3.5 -.2-3.3 .2 8.9 1-1.4 1 3.4 3-11.4 -1.8 13.7 -1-7.6 2.5-.2 -2.3 2.8 2.6 7.9 -.3-3 -.7 .6 1.6 3.4 1.2 1 -.3 1.1 -2.7-.1 .6-1.7 2.2 1.6 .1-6.6 -.8 5.4 2.6-7.2 .1 8.8 1 1.4 -.5-2.6 1.7 1.5 -1.9 6.5 .6-4.7 1.2 2 .1 7.5 -1.2-5.3 .9 2.7 1.5-1.2 0 1 -.3 2.5 .6-4.4 .5 3.9 .3-3.9 .8 .7 .5 4.1 -.6-3.9 2.3-6.5 -1 8.6 .1 5.6 1.5-7.5 -.7 5.8 -.3-2.9 .3-3.5 .7 4.3 .3-6.2 -.2 11.8 1.1-5 .1 2.8 1.3-1 0-4.5 -.3 3.8 1.2 5.3 -.2-1 -.4-3.6 1.2-.9 .9 2.3 -.2-3.7 .1 5.2 .6-5.9 .1 3 .8 5.2 .2-2.5 .1-1.9 .8 2.7 .6-1.1 -.1 1.7 .6 2.8 .2-3.6 .1-4.9 .4 6.8 .7-3.7 .1 6.1 .5-.4 -.4-3 1 1.6 -.4-5.8 1.4-.8 -.1 4.4 .5 2.2 -.1 3.2 .5-6.2 .1-.7 .4 .3 .6 .4 .2 2.9 .4-4.8 .4 6.7 .7-6.2 .2 10.9 .6-7.2 -.2 .7 .3-5.3 .5 6 .5-6.6 -.2 8.3 .8-4.4 .2 2.7 .5 .8 .3 1.3 .2 1.3 .2-.6 .5-1.2 .6-4 -.2-1.6 .7 5.7 .3-1.2 .3-2.5 .5 1.4 .4 3 .2-.1 .6-4.5 0-2.2 .9-1.7 -.5 4.3 1.1 .5 -.1-3.1 .2 7.2 .4 2.5 .4-8 .5 4.5 .3-2.5 .6 2 0-1.2 .4-.7 .3 3 .5-.7 .3-3.3 .6 2.6 -.1-3.2 .4 1.7 .3 1.9 .3-.4 .4-6.1 .3 6.4 .1-5.3 .4 4.2 .4 1.4 .1-6.5 .7 1.2 .6 5.7 .3-1.5 0-7.2 .3 9.1 .6-4.7 .2-1.7 .7 4.3 .2-2.7 .4 2 .2 .6 .6 6.5 .2-4.5 .8-2 0-.5 .2 .7 .3 .4 .3-3.3 .2 3.3 .6-3.6 .4 .4 .6 1.4 .1 3.3 .5-.6 .2-11.3 .2 12.4 .5-3.4 .4 0 .1 4.1 .4-6.5 .4-1 -.1-2.9 .8 2.4 0 6 1.2-4.9 -.2-.8 .4 4.3 .4-4.3 -.2 .7 1.1-.1 -.1 3.5 .7-3.3 .4 .5 .3 .9 -.6-5 .8 4.7 .5-4.8 .1 1.8 .7 2.1 .7 1.7 .3-1.2 -.1 4 .2-3 .8 1.3 .4-3.2 0-.6 .2 7 1-10.3 .4 8.6 .2-6 .3 4.2 -.1-6.1 .6 5.4 -.1-.7 1.2-7.6 -.5 4.4 .4 3.9 .5 1.1 .4-2.4 .9-2.8 .1 1.4 -.2-4 .8 .8 .3 3.7 .8-.9 -.9 2.1 .8-1.9 .1 1.1 .9-2.3 .6 2.1 -.1 5.7 1.4-11.2 -1 3.4 .8-2.1 0 2.9 0-.4 .8-4.3 .5 2.9 0-.1 .3-1.3 .7 1.2 0 3.3 1.2-2.9 .2-3.1 0 1.4 .9 5.5 -1.5-9 1.1 5.5 1.7-6.3 -1-3.5 1.5 2.7 0 3.2 .1-2.4 .2-1.9 -.4-.7 .1-1 .2-.8 1.9 1.2 0-7.1 .6 9.9 -.8-.9 1.3-1.2 1.2 2.5 -1.2-5.8 .5 1.6 .5-9.9 2.6 9.7 -.5-2.7 1.1 3.2 1.1 .4 -2.5-4.3 .9-4.6 -2.4 5.4 2.9 1.4 -.3-.4 .9-6 .4-2.1 -2.3 1.9 3.3-3.6 -.6-5 -.7 9.2 1.1-.4 2.1 .2 -1.5-6.5 3 2.5 -.8-5.3 -.4-1.7 -.9 7.2 .4-9.9 3.2 5.4 -1.3 10.3 .7-5.2 .4-2.8 1.2-.8 .2-3.9 -1.4-2.1 1.4 10.2 -.4-9.7 1.5-2.1 -3 4.8 2.5-3.5 2.8 5.3 -3.9-8.6 1.3-1.2 1.8 1.4 -2 8.2 2.5-3.2 .7-3.1 1.1-1 -.6 .8 .5-5.9 -.9 6.1 1.5-4.5 .4 2.9 .7-1 .7 1 .4-3.4 .3 5.9 -.4-2.7 .1-4.9 -.6 5.1 2.2-3.5 1.3 3.1 -2.5 1.9 2.2-5.9 -.9 1.9 .3 .4 -1.1-.2 1.6 8.7 1.8-7.4 .1-6.5 .9 5.4 -2.1-2.8 -2.1 12.9 5.1-13.3 -.9-2.1 1.5 8 2.2-5.4 -.9 .6 -4.8 .7 2.9-1.8 .7 1.2 3.5-7.6 -3.6 9.2 1.1 3.3 2.6 5.5 -4.3-7.7 2.3 3.5 -1-6.5 .8 9.7 2.9 3.6 -.3-7.9 0-2.6 .5 2 -.3 6.8 1-11.6 1.3 11.2 -1.8-9.2 1.9 1.1 -.7 5.1 2.7 2.1 .8 1.9 -.6 2.4 .9-10.1 -2 5.6 .6 3.5 1.2-1.4 -.4 4.1 1.6-3.8 -.8-.8 -1.2-7.2 .7 2.2 2.2 11.4 3.3-7.1 -2.8 6.5 -1.9 2 2.7-2.3 -.8 5.1 -.5-5.8 5.3 5.5 0-2.2 -2.6-4.6 .3-1.3 .1 7.6 1.6 7.6 .3-1.2 .6-2 -1.9 1.8 1.2 1 1.4-3.7 -.3 6.3 -1.2-3.4 1.7-2.3 1.3 16.5 -2.5-11.2 3.6-2.3 -1.1 3.7 1.7-6.7 -.1 .5 -.1 11.6 -.1-4.1 .3-5.6 0-1.5 .9 5.8 .5-2.9 -.9 8.6 .9-10.8 -.8 11.2 .9-7.3 .9-.4 1.1 4.8 .1-4.1 .4 2.6 0 .5 0-6 1.4 4.5 .3 5.4 -.7-7.7 .8 2.7 .7 1.7 -.4 6.4 .5 .2 1 2.2 .2-7.8 .7 6 -.2-1.6 .7-4.7 .3 6.1 .9-1.5 -.7-1.9 .6-1.1 0-1.5 .9 6.9 .4 0 .7-2.1 -.3-.1 .7-.5 .1 4.5 .9-1.7 -.3-6 .3 6 .7 1.4 0-3.2 .2 .5 0-.2 1 3.9 .6-3.1 0 1.3 .6 .5 0 4.6 .6-9.3 .4 12 0-10.8 .1 3.1 .6-1.7 .4 3 .6 1.4 -.4 5.6 1.2-3.4 .2-5.7 .1 2.9 .1-.3 .5-2.3 .6 3.9 .3-.9 .3-2.1 0-.6 .6 4.3 .4-2.4 .3 4 .3-.9 .5-6.3 .5-2.6 -.1 6.6 .8-2.2 -.1-1 .4 1 .3 6.6 .7-5 .3 6.5 .4-3.3 0-7.6 .3 6.7 .9 3.2 .1-9.8 -.2 1.6 .6 3.5 .5-1.3 .6 6.8 .5-7.7 -.2 7.8 .6-9.3 .2 1.7 .3 3.6 .4 .6 .2-1.1 .4 4.4 .4 .7 .5 .5 0-6.2 .8 3 .1-3.4 .5 5.1 .1-11.2 .3 5 .7 1.4 .2-.8 0 6.2 .7-8.9 0 1.8 .7-1.2 .4 3.5 .2-2.5 .3 5.5 .4-.1 .3-9 .3 0 .5 8.8 .2-1.2 .2-5.9 .6 4.6 .6-3.5 .2 6.1 .2-6.3 .2 2.1 .4 3.2 .6-1.2 .3 3 .1-1.9 .5-5.7 .5 5.2 .2-4 .3 7.6 .3 .4 .2-1.3 .7 3.2 .3-4.1 .3 2 .4-1.6 .2-.2 .3 0 .5-1.7 .1 4.5 .2-8.6 .6-1.4 .3 2.4 .3 7 .5-5.5 .4-1.6 .2-.1 .1 3.9 .4-1.6 .5 3.8 .4-4.6 .4 3.7 .4-5.2 .5 4.1 0 7.5 .6-9.6 .2 .2 .4 3.3 .2-5.8 .6 1.5 .3-.2 .4 2.4 .4-4.8 -.1 8.3 .5-3.9 .5 .2 .4-1 .2 .4 .2-6.8 .7 10.6 0-6.3 .6 5 .1-2.9 .4-.1 .5 2.1 .1 3.5 .6-5.3 .2-1.4 .2 3.1 .5-8.8 .4 4.8 .4-.4 .4 1.9 0-3 .4 6.6 .4-3.5 .2 1.3 .8-.3 0-1 .4-1.1 .3 5.8 .3-1.4 .6 2 .2-4.9 .2 1.3 .4 .2 .5-2.1 .3 .9 .5-4.8 .4 1.3 0 .7 .3-.6 .4 4.6 .5-.2 .2 .1 .5-2 .1 3.7 .5-.3 .4-1 .2-2.8 .6 5.6 .5-8.3 -.5-1.3 .7 .9 .5 7.5 .5-3.4 0-2.1 .6-5.3 .6 6.3 .1-2.4 .2-3.4 .3 9.6 .5-3.3 .4 4.1 .3-4.4 .3 1.7 -.1-3.9 .6 4 .5-3.2 .4 3 .5-1.3 0-4.1 .7 3.3 .5 .4 .1-2.8 .4 1.7 .1 3.1 .2 .8 .7-3.7 .3-7.4 .6 9.3 -.1 3.3 .1-6.6 .4-2.1 .7 3.5 -.3-.5 1.3 2 -.2-4.9 .5 7.3 .2-2.8 1-6.3 -.6 6.4 1-3.9 .3 2.4 .6-1.2 .2-1.2 -.4 .6 .1-2.6 .1-1.2 1.1 1.4 .7-.4 .2 2 .1-.9 .8-6.2 -.6 7.8 1.6-3.1 .5 2.7 .2-.9 .1-1.6 .9 .7 -1.3-7 .5 9.8 .9 1 .4-4.7 .1-4.2 .9 3.8 -.2-3.9 1.6 6.5 -.7-7.5 -1.2-2.9 1.6 .8 .1-.1 -.2 4.8 2.1-3.1 -1.1 .8 -.3-2.6 1.4 5.5 2.1-5 -1.1 .3 1.9 4.5 -.7-5 1.4-3.4 -.6 .6 .3 4.7 -2.8-3.2 1.7-4.6 .3 6.7 1.3-10.1 1.5-2.9 .2 3.9 .2-3.8 -2.1 6 1.2 .5 1.1-1.5 1.1-1.4 -.1-2.2 -.7 7.2 -.2-11.3 2.8 10 -1.7-2.1 1.2-1.5 .6 1.8 .8-7.9 -1 9.5 -.1-2 1.4 2.1 -.4-12.4 1.5 8.8 -1.5-1.6 1.6-8.5 -.7 7.5 4.2 1.5 -4.1-3.4 1.8 4.5 .5 .7 .1-3.9 -.4 .4 .7 4.4 1.2-6.7 2.2 5.8 .2 3.3 .9-5.1 -2.2 1.7 1.1-1.2 1.6 3.3 -.5-8.7 0-.6 .3 3.5 1.1 1.2 -1.1 6.4 1.2 1.8 -.8-2.7 1.9 2.9 .2-6 -.3-.1 -.9-3.4 1.5 10.6 2-2 -1.7-1.7 1.1-4.5 -1.5 1.7 1 6 1.2-1.4 1.2 4.5 .2-2.9 -.8-2.8 2.4-1.3 -3.5 4.7 1.4 6.3 2.4 1.7 .5-9.3 .6 4.9 -1.6-4 0 3.9 .3-10.5 .7 8.2 1.3-3.7 -.2 11.7 .4-6 1 3.3 -.2-1.1 .6-4.3 1.1 7 -1 1.9 .9-2.6 -.2 1.4 1.2 2.2 -.7-1.5 .5-2 1.2-4.7 -1 2.9 2.2 .6 -.2 5.2 -.1 2.2 .3-4 .7 3.4 .3-10.8 -.2 9 .8-4.5 -.1 7.1 .5 1.3 .5-.3 .4-.8 .2 1.3 .5 2.3 .2-7.1 .4 6.8 .9-5.8 .3-3.1 -.4 6.4 0 .7 1.3-1.2 .6-2.9 -.3 4.1 .5-2.4 .3 8.4 .4-6.3 .1 .3 .5-2.7 .3 3.6 .3 3.4 .5-7.2 -.1 1.2 1-4.7 .1 5.8 .4 5.2 .1-8.5 .1 2.6 .7-1 .3 1.5 -.1-1.4 1.1 1.3 .4-2.2 0 4.1 .5 2.3 .6-.5 .1-7.8 -.3 9.6 1.1-1.7 -.2 1.3 .6-6 .7 .9 -.1 3.9 .2 3.3 .6-8 .3 3.7 .1 .5 .9-2.3 .1 2.2 .3-2.5 .4 5.3 .4-8.5 .5 5.7 .1-2.4 .3 1.4 .5-2.5 .3-6.1 .4 13.4 .1-2.3 .6-.9 .3-1.3 .1 1.1 .6-1.8 .3 1.3 .5 3.8 .4-5.9 .2-.7 .1 8.1 .5-7 .2 2.2 .4-1.2 .6 2.3 .3 .2 .2-1.5 .2-3.2 .5 .1 .5 3 .3 5.1 .3-10.6 .3 5 .5 1.7 .3-3.1 .2 2.4 .1-1 .7 2.7 .3 2.5 .3-5.8 .5 1.8 .1 .5 .5-.9 .3-.4 .1-6.3 .5 6.5 .4-3.4 .5 1.9 .3 2.5 .2 .4 .5-3 -.1 0 .6 .5 .3-2.2 .5 7.6 .5 .6 .2-5.7 .4 5.3 .3-2.5 .5-5.4 0 5.9 .5-.8 .2-1.5 .4-4.7 .5 2.5 .3-5 .3 6.7 .5-.8 .2-2.4 .3-.4 .4 7.6 .3-8.4 .5 6.6 .3-1.9 .2 3.4 .3-8.5 .3 5.1 .5 3.4 .4-4.2 .3-3.7 .1-1.6 .6 3.7 .2 5 .3 1.5 .5-4.3 .3 2.4 .4 .3 .4-1.2 .2-4.2 .5 4.6 .3-5.2 .3 3.3 .2 2 .6 .8 .3-3.6 .4 3.7 0 1.2 .4-1.7 .5-3 .5 1 .2-.9 .5 .1 0 1.9 .6 1.1 -.1-3.2 .5 2.1 .3-1.5 .7-.3 .1-3.4 .5 4 .5-1.6 0 1.2 .7 2.1 0-.8 .7-.2 -.1-3.7 .3-3.3 .7 3.6 .5 1 -.3 .6 .9 3.4 .4-3.2 .2 3.4 0-5.6 .4-2.1 .7 5.8 -.3-6.1 1.1-1.4 .5 3 -.4 2.6 .4 2.3 .8-3.4 0 2.7 .7-2.9 0-4.9 .4 1.5 .4-1.8 .6 4.4 .3-5.9 .2 2 .7 1.7 .4 5.2 .1-1.2 -.2-2.9 .5 1.7 .5-1.5 .5 9.1 .6-13.6 -.2-1.2 .9 .2 -.4 1.5 .8 3.2 .1 3.8 .4-3.7 .8-.2 -.1 .3 .4 .9 .9-3.5 -.1 4.7 -.2-2.2 .4 .8 .6 .9 .6-.1 .3 .6 -.3-5.2 .5 4 .3-6.4 .8-1.8 .5 5.3 .1 2.3 .6 .2 .1-.5 .5 1.4 .8-8.3 .1 3.8 -.1 .9 .4-1.9 .9 3.4 -.1 .8 .1-1 .7-.7 -.3 6.9 .9-7.2 .1-.2 .7 3.7 1.1 1.8 -.5-8.7 -.1-.3 0 7.3 1.1-.8 .2-.9 -.1-3.6 .7 2.8 .5-6.6 -.1 .7 .8 8.6 .6-9.1 -.2 3.5 1.2 2.4 -.6-1.1 .2-4.5 1.4 1.5 -.4 3.7 .3-3.3 .2 6.6 1-5.8 -.2 6.2 .4-6 -.2 4 .5-2.6 .8-1.3 -.1-4.6 .7 6.1 1.1-1.7 -.1 .9 .8-3 -.6-1.3 1.1-.2 -.2 2.7 .9 3.3 -.5-4.2 .9-2.5 .8 .8 -.1-1.1 .4-1.6 .1 4 -.7-.9 1.1 .9 .4 7.2 1.2-3.1 -.1 1.6 -.2-4.6 1.3 .7 .1-3.5 -.7-3.1 1.8 .5 -.1 3.9 1.6 2.8 -.6 5.7 -1-7.6 1.8-4.8 -.1 3.8 0 2.8 .7-5.4 .5 2.2 -.2 3.2 .1-1.2 1.1 1 .2-1.2 -.4-.3 1.6 4.6 -.5-1.5 1.5-2.1 .1 .9 -.5-1.9 .9 .1 -.6 1.5 .9-.6 -.7 7.7 .8-7.4 .8 .6 .7 5.6 .5-9.9 .5 3.5 .3 3.8 -.4-3.3 .5-.8 .1-2.5 .6 2.9 -.5-2.3 .8 5.7 1.4-1.4 -.2-2.7 -.1 4.8 1-6.9 .2 .6 .1 5.2 .2-1.4 .1-4.4 .8 1.3 .4 1.8 .3-1.2 1 2.8 -.3-.9 .5 2.1 .7-1.7 .2 1.5 -.9-2.4 1.2 2.7 -.1 0 .5 1.2 1-1 .6-2.2 -.1 1.2 -.8 4.4 1.1-4.8 .4 1.2 .3 4.8 1.2-2.8 -.1 .3 .4-4.8 .1 .1 .6 3.8 0 5.8 -.1-12 .8 .5 .1 7 .1-.8 .2-3.7 .8 5.9 .5-2.1 1-1.9 -.5 1.3 .4-1.3 .5 2.7 .6-3 -.3-1.2 .7 1.4 .8 3.3 .4 2.4 -.3-5.2 0-1 .8 4 .4 2.6 .7-4.4 .3 5.7 .1-6.7 .1 6.7 .6-2.2 .1-7 .3 6.7 .6-2.1 .8 .2 .3-1.6 .3 2.3 -.4-1.9 .8 2.4 .1 2.8 .6 1 .4-.7 .3-.6 .1-1.2 .2-1.8 .8-2.6 .4 6.3 -.1-4.2 .3 1.9 .6-4.5 .2 5.3 .7 2.8 .3-4.2 .3 2.9 .1-3 .3 1 .4-1.8 .5-6.3 .4 8.8 .3 .4 .2 .3 .5 3.3 .4-2.2 .2-1.3 .2-3.2 .6 10.4 .4-12.3 .3 2.9 0-.3 .6 4.5 .3-2.1 .3 .7 .4-6.6 .2 3.6 .4 4.5 .5-4.4 .3-2.1 .3 4.2 .2-2.3 .5 1.7 .6 1.1 -.1-3.9 .5 2.8 .4 4 .4-4.6 .4 .1 .1-1 .6 2.6 .3 .6 .2-4 .5 2.9 .4 4.4 .4-9.5 .1 7.6 .5-.3 .2-6.9 .2-.4 .9 3.1 .1 5.7 .3-5.9 .2 2 .4 .2 .3-.6 .7 6 -.1-4.9 .5-4.2 .4 4.2 .2 1 .5-5 .3 3.6 .3-2.3 .3-2 0 1.1 .9 5 .2-2.9 .4-4.3 .3 6.8 .1-3 .5-7.7 .2 5.4 .4-3.8 .2 5 .5 9.9 .6-2.2 .3-5.2 .1-3.3 .3-1 .7 1.2 .1 2.8 .6 3 .5-3.6 .2 3.5 -.1-4.2 .1-5.9 1.1 7.1 -.2 2 .3-1.3 .5 1.4 .4-6.1 .6 1.9 0 .8 .3 .9 .8 .6 -.1 1.1 1.2-4.3 -.6-2 .7 1.7 .6 .7 0-.9 -.1-1.6 .8 5.4 .7 .2 -.2-.1 .1-.8 .8-.8 -.3-3.2 1.1 .1 .5 2 .1-6.7 0 6.3 1-7 .5 11.6 .2-3.9 -.1-4 .6 1.7 -.1-1.6 1.1 6.2 -.3-1.5 .1-3.3 .7-2 .6 3.3 .1-1.1 .3-1.2 0-1.6 .8-3.4 .3 .4 .4 1.9 .2-3 .4 2 0 8.6 1.5-5.8 -1.1 2 1.1-4.2 .8 6 -1-4 .4 2 1.4 .9 1.3-2.3 -.4 4.7 -.4-9.4 .3 1.8 .3 2.5 0-2 .7 1.6 1.1 5.5 -.3-8.2 .7 1.7 .6-2.8 -.4-1.1 .5-3.8 .6 7.8 -.2 2.9 .8-4.7 .7 3.7 0-8.6 -.6 3.7 1.4-.1 .1 2.8 .4-2.4 -.3 1.5 1.1 3 .2-8.9 .1 3.2 .2 1.6 .7-3.7 -.7 3.3 1.6-7.3 -.1 2.4 1.3 2.4 -1.4-5.3 1.2 13.3 .8-1.1 .3-2.1 -.1-1.5 1.3 .1 -.6-4 1 0 -.1-6.2 .2 10.1 .1-3.9 .4-6.2 .4 3.9 .9 4.5 -.3-7.3 .1 3.8 1.4-5.7 .1 5.7 .6 1.4 0-8 1.4 5.6 -.3 4.1 .1-2.8 .5 6.3 .6-2.1 -.2 1 .7-8.2 -.2 1 1.5 4.3 -.8 .7 -1.7-3.6 2.9 1 -.3-2.6 .5 1.7 .9 3 -2 3.6 1-3 1.4 1.2 -.4-2.8 1.6 1.6 .3 1.6 -.3-6.4 1.2 6.5 -1.5-1.2 1.6 1.5 1-1.9 .6-3.7 -.1 .9 .9 1.7 -.4-8.6 0 6 .7 .8 1.6 .4 .2-1.3 -.8-.1 .5 2.9 .3-.9 -.8 6.7 .9-4.2 .7 0 -.2 3.3 .7-2.8 -.2 .5 .9 4.2 1-.4 -.2-3.6 .7-3.3 -.1 2.6 0 4.1 .8-6.8 -.6 4.6 .9 1.1 .5-4.4 .3 9 .7-4.3 -.1-3.8 1 1.9 .3 4.8 .1 3.3 0-3.2 .2 0 1-1 0 5.9 1.4-.8 -.3-8.7 .5 5.2 -.4 1.9 .6-2.1 .2 2.2 -.2 .8 1.1-4.6 .2 6.9 .4-3.3 .5 3 .5-2.2 .2-.9 .7 4.4 -.3-2.7 .7 3.8 0-2.8 .4 4.8 .7-8.6 .2 2.7 .3-2.3 .3-.9 .5 4 .4-4.8 .2 4.2 .2 4.2 .6-2.1 .1-3.1 .4 1 .4 2.9 .4 2.6 .3-5.2 .2 1.2 .2 1.2 .4-1.9 .6 1.6 .1-.1 .6 3.1 .2-5.4 .4 2 .3 .8 .7-3 .1 1.2 .3 1 .4-4 0 2.8 .5-1.8 .6 1.9 .3-.5 .1 .6 .2 3.5 .5 1.5 .5-1.1 .3-4.5 .4 3.2 .3-4.4 .3 5.2 .4 .5 .3-3 .3 1.1 .3 2.3 .4-.2 .4-3.6 .4-.5 .3-2.6 .3 3.8 .3-.7 .3 1.7 .5 1.6 .3-5.4 .4 1.8 .3 1.2 .3-3.5 .5 4 .3-.9 .3 2.4 .2 .9 .4 .1 .4-2.6 .3 1.4 .2 0 .5 2.3 .4-7.9 .4 4.4 .2-1.4 .4 2.4 .3 2.6 .3-2.2 .5-.2 .4-2.3 .1 2.8 .5-.2 .4-3.4 .2 4.6 .3-3.1 .4-4.5 .3 5.3 .4 2 .3-.2 .4-.8 .4-.5 .3 2 .3-.3 .3-6.5 .5 3 .3 2.3 .3-.5 .4 2.5 .2 .5 .4-2.3 .4-1.4 .3 5.7 .4-7 .3 2.1 .4 5.9 .4-3.9 .2 0 .4-1.7 .4 3.4 .3 4.7 .4-7.1 .2-1.5 .4 3.8 .3 2.1 .5-4.2 .2-3.3 .4 3.3 .3-3.1 .4 4.8 .3-3.2 .3 2 .3-1.2 .4 2.1 .4-7.8 .3 6.5 .4-.4 .4 .3 .3-4.8 .3 7.7 .3-5.5 .4 3.1 .3-2.7 .4 .9 .3-.7 .4-3.2 .2 2.7 .5 5.4 .3-6.7 .4 3.5 .3-5.2 .4 7.8 .3-6.7" fill="none" stroke="none" marker-start="url(#c)" marker-mid="url(#c)" marker-end="url(#c)"/>
<path d="M164.7 1079.0l.3 10.4 .3-6 .3-1.2 .4-1.8 .3 5.6 .3-4.3 .4 1.4 .3-1 .4-1 .4-4.2 .4 2.9 .3 6.8 .4-4.4 .2-2.7 .4-.6 .3 .1 .3 1.2 .4 .8 .3 4.7 .3-3.2 .5 3.9 .3-9.8 .3 4.3 .4-5.1 .3-.7 .4 7 .3-5.9 .4 5.4 .2-2.8 .5 6 .3 .1 .3-8.1 .3 6.8 .3-2.2 .4 1.5 .4-3 .3 5.1 .4-.7 .3-3 .3-4.6 .3-2.3 .5 9.9 .3-2.4 .4-4.7 .2 1.4 .4 10.4 .3-10.9 .6 4.3 .1 2.8 .4 3.1 .4-5.9 .4 .5 .1-5 .4 4.9 .3-1.5 .5-3.1 .4-.2 .3 7.1 .2-.6 .4 4.8 .4-8.9 .4-5 .2 12 .5-4.1 .2 3.2 .4-7.1 .3 .8 .5 5.7 .2-6.8 .5 2.2 .3 .1 .2 2.7 .5 .5 .2-5.4 .3 5.1 .6-3.5 .2 .4 .4 .8 .3 2.3 .3-3.1 .3 1.8 .5-3.7 .3-2 .2 .9 .4 4.1 .3-.5 .4 .2 .4-4.4 .3 1.7 .4 2.3 .3 2 .2-.5 .5-2.5 .3-1.2 .4-2.4 .4 3 .2 4.9 .5-4.1 .4-1 .1 2.5 .3 7.3 .5-9.5 .4-1.5 .2-2.2 .3-1 .4 7.2 .5-.2 .3-2.8 .2 3 .4 .6 .3-4.1 .4 3.1 .5 1.7 .3-6.9 .3 4 .2 .6 .5-5.6 .2 12.6 .4-4 .5 2.5 .2-10 .4 4.1 .4 3.7 .2-5 .4 7.7 .4-9.5 .3 3.2 .2-1 .6-3.9 .2 4.2 .3 .7 .4-3.2 .4 1.8 .3 4.3 .5-.3 .1-1.2 .4 .8 .4 1.7 .3-4.4 .2-1.6 .4 2.4 .4 .2 .3-2.4 .4 2.6 .3 .2 .3 2.3 .3-6 .6 6.5 .4-4.3 .2-3.6 .4 7.4 .4-1.7 .3-1.2 .2-3.8 .4 6 .3-5.7 .3-.1 .3 3 .5 3.1 .3-2.8 .4 .2 .3-3.1 .4 5.5 .3-3.8 .3 2.9 .3 6.6 .7-7.8 .1-3.8 .4-1.2 .2 1.4 .4-.1 .5 3.8 .2 3.2 .4-4 .4-.9 .2 2.7 .3-4.4 .3 1.8 .3 3.5 .4 .9 .2-4.8 .5 0 .4-.4 .6 2.4 0 3.7 .5-4.4 .3-3.7 .3 6.7 .3 0 .5 .2 .2-1 .6-3.6 .2-2 .2 4.8 .6-2.6 .1 1.2 .3 3.6 .7-9.4 .2 .2 .4 .8 .2 2.3 .3 1.7 .3 1.3 .4-3.4 .3 5.9 .3-4.4 .6 3.1 .1 2.7 .6-1.5 .1-4.4 .5 .7 .2 1.8 .4 .9 .4-6 .3 .2 .4 1.5 .3 5 .3-2.6 .4-1 .4-4 .4 .1 .2 5.3 .2-4.4 .4 6.1 .5-5.5 .3 3.1 .5 1.7 .4-.5 .2-1.8 .4 6.6 .3-6.8 .3 1.5 .3-2.3 .5 4.1 .3 .6 0-.1 .6-2.8 .3 2 .4-6 .6 1.9 .3 3.2 0-8.8 .7 1.8 .1 7 .5-1.6 .3-1.4 .3 .2 .2 5.2 .6-3.2 .3-2.6 0-3.4 .8 4.9 .1-4 .5 2.9 .1-1.8 .4 6.3 .4-6.2 -.1 2.1 1 4.4 .2-11.3 .2 5.3 .7-3.4 .3 9.8 .3-3.6 -.1-1.6 .9 .7 .1 1.9 .6-.6 -.1-1.5 .4 2.6 .3-1.8 .3 4.9 .3-9.6 .4 2.4 .6 3.3 .2 .2 .3-4.2 0 5.7 .8-1.3 .1 2.4 .7-6.2 .1 4.6 .5-4.1 .2 1.4 .2 1.2 .3-3.8 .8 .3 .2 6.5 0-8.6 .7 4.7 .5 2.4 .1 .5 .5-5.3 .1-2.7 0 6.6 .5-5.3 .6 1.7 .4-2.4 .5-2.2 .6 2.4 -.1 1.1 .4-4.9 .5 10 .2-5.3 .2 5.9 .4-1.6 .8-5.4 -.1 1.6 -.1-1.4 1.2 1.3 -.1 .3 .7 .9 -.1 0 -.1-.9 .8-2.5 .1-3.1 .7 5.6 .4-1.4 .2 2.7 .9-4.2 -.4 2.8 .2-4 .8 4.2 .5-2.1 .2 2.1 .1 6.9 .8-5.8 -.6-3 .6 1.2 .7-.9 -.2-.3 .9 .2 .2-.2 .5-.1 .4 3.1 .5-.1 .2 2.3 .3-4.1 -.3-.2 .9 6.2 .1-12.5 .4 5.2 -.3 .8 .9 .4 .6-4.2 .9 .7 -.6-3.6 .2 2.9 1-4.6 1 8.7 0-3.3 -.1-2.9 .6 7.8 -.1-4.7 .8-3.3 .1 4.6 1.3-3.3 -.9-4.9 .9 6.5 .3 4.7 .2-10.9 .4 4.1 1.3 3.7 -1.3-1.5 1.1 1.9 .7-4 -.6 5 .2-4.4 .1-.5 2.1 1.4 -.3-2.4 -.2-.3 .4-.7 .4-1.4 .7 .2 -.3-2.3 1.2 6.3 .3-1.1 .8-7.9 -.2 5 .5 1.4 .2-3.8 .8 4.7 0-3.6 -.2 1.8 .2-3.6 .3 3.8 .8-.4 -.3 7.2 .9-2.7 -.2-5.2 .9-.6 .3-.2 .5 .4 1-8.9 -.4 7.3 -.9 2.1 2-2.5 0-4.7 .4-1.5 .1-1.4 -.1 12.1 -.2-3.5 1.8 1.8 .6-6.3 -1.7-2 1.3-3.5 -.9 6.8 .5-7.1 2.7 1.9 -.6 6.9 1.8 .8 -2.5-7 2 3.8 1.2-3.3 .3 .8 1.4-7.4 -1.2 5.6 .4-.8 .3 0 .7-.6 -.1-1.7 -.1 1 .2-5.9 1.4 3.8 -1.1-5.8 -.2 3.3 2.7-3.1 -1.3-2 .3-.3 1.2-.9 -.8 4.8 -.3-7.4 3.2 3.6 .7-.4 -3 6.1 1.5-6.4 1.5-9.5 1.5-2.4 -.4 4.3 .4 .4 -1.6-6.5 1.4 5.9 1.7-14.8 -3.2-2.3 3.6 4.4 -.7 4.7 -1-.3 2.3-5.8 .1 4.9 -1.4-6.8 1.1-5.2 -.7 6.4 1.3-8.2 -1.1-8.2 -.2 3.5 4-9.8 -3.5 9 .6-9.8 1-11.2 5.3 14.2 -5.4-7.8 2-8.1 -.1 .8 2.8-.1 -2.2-7.4 3.6-1.7 -1.7 1.6 2.5-12.4 -1.3-1.2 -.2 7.3 -1.6-16.4 1.4-6.2 1 .7 .2 1.4 1.7-14.8 -.6-.8 1.7-6.6 -1.2 9.9 .1-7.5 2.2-9.9 -.6 .3 1-17.5 -.5 1.4 -1.3 4 1.4 3.9 .5-19.3 -.3 8.6 2.3-6.1 -5.5-2.4 3.9 .1 0-9.7 1.5 12.8 -2.2-14.4 1.4 3 -1.3-11.2 -1.2 0 1-8.8 3.9 17.1 -4.2 4.7 3-17.9 -2.7-.6 3.8 5.2 .1-20.8 -.4 .8 -.7-10.5 1.2 4.8 .8-6.8 -.7-.4 -2.4-4.4 4.8-16.5 -.7-1.1 0 1.5 -.2-.9 -4.4-7.1 5.6 1.7 0-1.2 1.7-9.3 0 1.2 -1.3-4 2.4-5.3 -.8 13 1 4.9 -.2-11.8 1.5 12.4 .4 .5 .1-11.6 2.1 3.5 -.3 1.1 -.7 11.7 -1.2 5.2 .7-7.8 .9-2.6 .3 13.3 -1 11.3 -.1-1.2 2.8 1.9 -.3-5.5 .4 18.1 -2.6-1 .4 6.9 3.5 5.2 1.5 1.3 .2-.5 -.7 8.8 .6 5 -3.4 9.4 4-9.6 -.5-2.2 -4.3 20 5.9-2.4 .1-8.6 -2.4 5.4 -1.2 4.4 4.3 10.6 -1.8-6.3 -2 11.1 1-4.9 2.2-3.5 -1.4 8 3.5-9.1 -3.5 10.9 2.9 12 .9-4.1 -1.2 7.3 1-1.3 -1.7 11.9 3.5-6.2 -1.6 12.2 -.8 10.8 1.4-3.9 2.2 12.5 -1.8 .7 -1.9 5.1 1.2-4.7 3.9 7.5 -1.8-2.4 -1 5.1 2.3 4.6 .6 9.2 .6 8.8 -1.4-13.6 1.3 18.8 .5-18.3 .3 4.1 .4 23.2 .1-.3 .4-3 -1.9 2.5 .9 1.2 3.8-9.1 -1.7 16.7 -.4-3.8 2.7-6.2 2.8 14.9 .3 2.9 -3.5 4.6 .8 .3 -1.5-4.6 3.2 6 .6-1.8 -2.1 2.3 -1.2 9.1 1.2-8.5 2.1-8.3 -2.4 10.3 4.3-3.6 -1.3 3.5 -.6 11.7 1.4-3.3 -1-4.1 2.8 3.5 -1.1 5.8 1.5-2.5 1.6 7.1 -2.1-10.3 .8 6 -2.8 .2 4.2-3.3 0 5.6 .4 2.1 -.9 2.5 .4-11.8 -1.8 9 3.1 2.4 -.4 2.8 1.2-2.6 .4-.8 .4-2.2 -1 8.5 2.2-5.3 0 6.5 -.6-4.8 -.3 1.1 1-3.7 -.5-1.5 1.8 6.3 -.2-1.4 2.2 5.9 -.3-9.5 -1 .6 .5 8.9 .5-6.8 -.1-.4 1.7-3.3 -.6 4.5 -1.1 5.6 1.7 1.5 -1.1-9.7 2.1 8.1 .8-4.3 -.4 1.1 -.4 4.8 1.2-2.5 1.1 1.8 -.3 1.4 -.6 .2 .7-.8 1 2.1 .3-4.5 .6-1.2 -.3 .4 -1 3.2 2-2.6 1.2 3.6 .1-1.1 -1.1 5.9 .9-8.2 .3 7.5 1.6-1.5 -.3 5.5 -.7-9.6 .9 4.1 1.4-3.6 -.1 .8 0 2.4 -.4 2.2 .4 1.9 2.3-5.8 -1-1 0 2.8 .7 3.4 1.5-1.5 0 .3 0 1 -.2-2.8 1 2 .5 4.8 -.3-4.7 .2-3.8 .6 1 .5 .5 -.1 1.9 -.3 1.1 1.9-6.8 -.1 2.6 -.2 1.2 .8-1.9 .5-3.1 .4 2.5 -.1 7.4 .3-7.5 .4 9.4 .6-4.9 -.7 .4 1.8 5.6 -.3 .3 .4-9.8 .1 7 .3-1.2 .7-4.1 .2 1.3 .4-1.8 .1 8.2 .9 3.1 -.1-12.8 .6 2.2 -.1 2 .9-2.4 .3 6.4 .4-2.5 -.1-1.5 .6-4.4 .4 .3 .6 5.1 -.1-6.1 .6 8.7 .2-3.9 0 4.7 .3-2.2 .3 .9 1-.5 -.5-3.3 .9 .2 0 .8 .7 1.7 .3 2 .7-3 .1 4.9 .1-5.5 .7-2.2 .1 1.3 .6 .4 0 6.4 0-1.7 1-1.3 .1-1.5 1 1.2 -.2-4.6 0 11.3 .6-5.7 .8 1.5 -.1 .5 .3-3.8 .4-.2 .4-2.5 .2 2.7 .2-.3 .3-5 .9 6.4 .7-4.4 -.1 3.1 .5 7.6 .2-1.7 .3-9.7 -.1 5.1 .7 .5 .4 3.8 .2 1.3 .3-6 .5-1.6 .3 2.8 .3 .3 .3-7 .4 6.5 .4-2.1 .4 6.3 .3-3.2 .5-1 .3 1.7 .4-2.9 .4 .9 -.1 .6 .5-6.5 .4 8.2 .4 .4 .1-.8 .9 1.1 -.4-6.8 .6 4.2 .5-1.2 0-.1 .6-3 .4 .9 .2 2.4 .6-2.8 -.1 2.1 .4-2.4 .9 4.9 .1 4.8 .3-4.9 0-1.5 .6-3.9 .5 2 0 4.2 .4-1.5 .7-1.2 0-4.9 .5 2.2 .3 4.6 .2-4.2 .6 5.5 .3-2.1 0-3.3 .9 8.5 0-13.1 .3 6.3 .5-3.2 .5 3.5 .4 2.6 -.1 2.5 .6-2.8 .5-1.9 .1 1.4 .3-4.4 .5 3.3 .5 2.8 .3-1.5 .3 1.2 .2-3.4 .2 3.2 .4-2.2 .2-2.4 .8-1.9 .2-2.3 .3 4.3 .3 1.2 .5 2 0-2.9 .8-1.1 .2 4.6 .2 .4 .4 .1 .7-.3 .1-3 .5 3.1 .1 .2 .2 1.4 .4-3.6 .6-2.4 .2 6.3 .2-.3 .1-3.3 .8-6 .4 4 .2 5.5 .3-5 .4 .4 .1 4.9 .6-2.9 .1-.2 .5-2.2 .4 3.1 .3-.4 .2 1.4 .4-7.2 .5 8.9 .1 1.9 .4-3.9 .6-2.6 .2 4.7 .4 .2 .3-5.9 .4 2 .3 .8 .2-3.3 .3 2.3 .6 3.1 .4 3.4 .1-11.4 .7 7.2 .2-6.2 .3 2.6 .4 3.7 .1-5 .4 4.1 .4-2.3 .4 3.4 .5-6.1 .3 10 .1-8.8 .6 .9 .6-1.7 -.2 7.5 .7-2.6 0-1 .4 4.2 .4-7.9 .1 .8 .6 3.6 .4-3.2 .5 1.4 .2 .4 .4-.3 -.1 1.7 .7-4.1 .3 6.4 .7-3.1 .2-2.1 0 .5 .7 2.4 0-1.1 .6 1.8 .1 2.8 .7-4.3 .2-4.7 .4 5.7 .3-.5 .2 0 .3-1 .4-4.2 .4 4 .4 1.3 .3-1 .3 5.1 .4 .4 .2-10.7 .5 11.5 .1-9.3 .6 2.1 .2 9.7 .6-3.5 .1-2 .3-5.9 .2 3.5 .7 1.2 0-4.3 .8 3.9 -.1-5.1 .4 8.1 .2-4.3 .7-2.3 .4 6.6 .5-1.6 .2 1.8 .2-8.4 .3 2.2 .4 1.5 .7-4.5 .3 5.2 .2-.2 0-.8 .6 .3 .4-4.2 .1 6.3 .5 2.3 .4-8.1 .3 .5 .2 3.5 .6-3.5 .1 .8 .5 1.5 .4-3 .1-.9 .6 7.8 .4-5.9 .3 5.6 .2-5 .4 4.5 .3-3.5 .2-3.1 .5 6 .3-2 .3-1.7 .3 8.7 .2-1.3 .7-8.7 .1 3.1 .6-.9 .2-1.4 .4 4 .3 .9 .5 .9 -.1-6.8 .6 5.2 .5 2 .1-10 .4 5.1 .4-1.4 .8 4.6 .2-6.6 .2 4.1 .6-.4 .3-1.8 .1 2.3 .2-4.8 .1 1.3 .4 .5 .5 5.3 .3 1.8 .6-5 0-.6 .7-3.7 0 .5 .5 4.8 .1 2.7 .6-4.6 -.1-1 .8 .3 .5 3.7 -.2 1.9 .6-4 .2-1.1 .5 1.8 .3-2.6 .7 1.5 .6 3.6 0-2.1 .2-6.3 -.6 10.8 1 2.7 .7-13.5 .1 3 .7 3.3 .3 1.8 .2-9.7 .4 10.8 .5-1.5 .4-1.8 -.1-2.5 .6-5.9 -.2 6.4 1-3.1 .6 3.5 .2-2.7 .1-2.7 .5 10.4 .4 1.5 0-13.3 1.4 5.6 -.5-4.5 .3 5.7 .1-5.6 .8 4.3 0-3.5 .8 3.7 .2-8.3 -.5 7.3 1-1 .7 .4 .4-1 0 3.8 -.6-.6 .7-6.6 1.8 1.9 -.3-3.1 .6 .8 -1.7 7.4 1.8-9.7 .6 6.1 .1 2.3 .8-3.4 .6 1.1 0-7.8 -.7 1.9 0-1.9 1.2 7.6 -.6-5.7 1.4-2.8 1.5 2.2 -1.4 3.9 1.6-9.1 .1 7.1 -.4-2.7 .7-1.6 -.5 1.6 1.1-4.3 1-1.6 -.8-2.1 .8 6.2 .2-7.2 1.4 2.8 .8-1.3 -1.5 6 -.1-13.9 1.8 8 -.3 .9 .8 .4 1.1-1.6 -.5 3.1 .9-4.4 -2-1.8 1.6 2.1 .4-.1 1-.8 .1 0 0 2.4 -1.2 .5 2.6-10.5 .7 .5 -.9 11.1 1-10.6 -.6-7.7 -.2 7.4 .8 1.6 -.7 2.6 1.3-3.8 -1.7 .2 3.5-2.2 2 3 -.6-11.9 -.9 6.2 -.1 .4 -1.4-1.1 2.4 3.5 2.7-11.1 -.8 10.2 -3.2-2.6 .4-9.2 3.3 3.5 -2.3-.2 0-10 4.6 9 -4.1-3.3 3-.7 1.3-6.7 1.3 9.4 -3.7 4.1 2.5-.7 2.5-1.1 -4.7-4.2 1.8 1.6 1.6-11.1 .1 3.4 .2 1 2.4 .5 -1.2-3.2 -.1 1.4 -1.2 4 3.4-10.5 .7 8.4 -2-3.5 4 1.8 -2.7-1.4 1.1 .3 0-3.4 .8 5.9 0 .1 4.5-2 -3.7-7.2 .8 2.5 3.1 2 1.2 8.1 -5.2-5.8 3-1.1 -.7 3 .5-11.6 -.3 9 .4-16.7 1 11.6 -.5 3.2 1.8-7.6 1.9-3.9 -3 4.6 0 8.9 1.3 .1 5.5 .1 -3.9-2.1 -4.4 6 3.1-1.9 -.6-4.8 2.8 3 .5 9.7 -.7-11 -.3-2.6 .1-.3 4.7-2.3 -3.1 3.5 .2 12.7 1.3-2.5 -.6 .1 2.4 1.8 -2.2-6 -.5 1.9 3.2 2.9 -.5 6.6 -.2-7.8 -1.1-3.3 .8 2.7 2.2 11.2 -.3-6.2 1.9-4.4 -1.8 7.6 -1.7 2.6 3.4-6 .6 1.4 .6-.8 -.1-2 -2.4 6 3.7 5.5 -4.4 .2 5.8-2.2 -1.1-4.8 1.6 7.1 -3.3 4.4 2.8 .9 -2.2-6 4.1-.8 -1 8.4 -1.4-2.8 4.6 6 -2.6-1.5 -.6 1.5 -.4-3.7 4.4-4.3 -1.7 7.1 .2-2.1 1 4 -.3-2.5 1.7 3.7 -2-4.2 1.8 3.2 1 4.1 -1.7 2.1 1.7-9.5 1.5 6.3 -2.2 .4 2.5 .3 -.2-.3 .1 1.2 .5-1.7 .3 3.9 .9 3.8 .2-10.6 -1.3 11.4 1.1-9.3 -.6 3.7 1.9-1.4 .4 6 -.4-2.8 .6 3.2 1-8.3 .1 7 .2 3.4 .8-2.6 -1.3-3.1 1 4.2 1.6 5.5 -.9-1.9 -.4 1.3 1.3-6.8 .3 3.2 .6-1.5 -.3 1.6 1.1-2.3 -.4 1.1 1.1 7 .3-8.1 -.8 6.5 .8-2.5 1.1-1.2 .2 4.5 .1-1.5 .2 4 .6 2.6 .9-4.3 .1-3.1 .4-.6 .7-3.1 -.7 5.6 .2-1.9 .7 9 .7-8.5 -.4-.1 .7-.8 .5 2.8 .5-1.3 -.2-3.6 1.6 9.2 -.4-1.9 .5 3.9 0-2.9 .5-2 .8 3.1 -.4-3 .4 3.8 .1-3.4 .5 .9 .4-6.2 .5 4.3 .4 2.5 .2-.6 .2-.5 .3 3.9 .6 .1 .3-7.4 .1 4.2 .8 1.3 .4 5 .2-5.4 .2-2.2 .4 1.2 .2 4.1 .7-11 -.1 10.3 .9 .7 .1-4 -.2 4 1.3-5.6 -.3-1 .6-1.5 .1 4.3 .3 1.9 .7-.8 .3-4.5 .3 4.3 .3 1.6 .3-.3 .2 3 .4-7.4 .3 4.3 .5-1.5 .3 .8 .5-2 .1 1.9 .6-4.2 .3 2.3 -.1 4.7 .7-4.5 .7 .8 0 2.1 .3 .5 .3 2.1 .5-6 .3 1.7 .3-3.1 .4 5.2 .1-1.1 .5 .4 .5-3.7 .1 5.2 .5-5.5 .4-.2 .2 2.1 .5-1 .1 4.3 .3-1.3 .3-2.5 .7 5.1 .2-1 .4-2.6 .1-1.6 .7-.8 .1 3.9 .5-.9 .3 1 .3 .3 .2-.2 .5-2.9 .2 3.1 .8-1.2 .3-6.3 .5 5 -.2 4.8 .5-2.2 .1-2.4 .6-.2 .4 2.7 .4-2.3 .3-3.3 0 .6 .6 10.8 .7-7.7 -.1 1 .5 .4 .2 .5 .5 1 .3-1.7 .3-1.4 .4 .5 .2 .4 .5 5.1 .3 .2 .4-2.9 .2 3 .1-6.6 .6-.8 .3-4.2 .3 9 .6-1.2 -.1-4.8 .7 5.2 .4-2.5 .3 1.6 .4 2.2 .2-1.1 .3-1.9 .6-1.1 .2 4.1 .4-6.1 .2 4.2 .4 1.7 .5 1.4 .2-8.4 .3 5.9 .5-2.2 .3 .1 .3 3.2 .3-1.9 .5-8.3 0 9.7 .4-5.2 .7 4.7 .1-3.2 .3-.5 .6 2.2 .3 1.5 .2-4.3 .4 6.4 .3-5.3 .3 2.9 .5 3.9 .4-6.2 .2 1.9 .3 1.2 .2 .5 .4 .4 .3-2.5 .6-.2 .4 .5 0-2 .6-3.9 .4 6.2 .3-.9 .1 7.6 .4-9 .5-2.2 .4 1.7 .3 .3 .3 3 .3-2.9 .5 3 .1-3.3 .5 .2 .2 2 .5-.2 -.1-4.4 .8 5.4 .2-2 .5 6.3 0-6.2 .6 1.5 .2-3.7 .5 4.3 .2-3.2 .2 2.2 .8 1.9 .2-6.4 .2-2.2 .5 5.3 0 1.1 .6 1.2 .5 2.2 .1-5 .5 .2 .5-1.9 .1 4.2 .4 1.9 .3-3.4 .4 2.8 .4-4.2 .2 .2 .7 5.2 0-.2 .3-3.4 .4-3.3 .5 3.7 .2-4.2 .5 5 -.2-2.8 .8-1.6 .3 2.5 .1 7.5 .5-5.7 .6 0 .4-5.1 -.1 5.4 .3-6.6 .6 2.9 .4 2.4 .2 5.6 .2-8.5 .1 3.7 .9-2.4 .2-4.8 0 7.4 .6 5.3 .5-4.9 .2-4.7 .8 2.1 0 1.8 .3-4.6 .6 3.5 .3-2.4 .4 1.8 .1-1.3 .2 1.5 .7 .8 -.2-3.2 .7 6.7 .2-7.8 .5 4.6 .3 4.4 .5-1.5 -.3-5 1 2 .5-4.2 .5 3.8 -.2-4.1 .8 6.4 -.2-2.5 .6-3.1 .4 4.2 0-4.1 .5 2.4 .1-3.2 .9 .6 .1 4.4 1 3.1 -.4-.7 .5-1.9 .8-2.8 -.1 2 .5-3 -.2 0 .9-.5 -.2 3.5 .7-2 -.1-5.2 1 5 .2 2.9 -.3-2.3 .5-3.7 .8 2 0-.2 .6 2.7 .2-1.1 .1-2.7 .7 3.5 .6-8.6 .4-.2 -.1 8 .7-8.4 -.1 10.6 .7-4 -.3-.5 1.1 3.3 0 2.4 .1-6.2 1.3 1 .4-4.5 -.6-1.1 .8-.2 .5 8.2 .3-5.7 .1 6.1 .2-8.8 .4 .7 .3 3.2 1.2 2.5 -.9-6.3 .8 1.1 .5-.9 -.2 8.1 1.1-4.8 -.2 0 1.2-4 -1 1.6 2.4-2.3 -.5 9.9 .7-8.3 -.2-6.6 -.4 2.5 .4-3.7 .1 2.9 -.1-1.9 1.7 9.6 -.3-5 .7-3.6 1.1 10.9 -1.3-8.8 1.6 7.3 -.8-7.1 .8 .7 .1 1.7 .9 3.2 -.4-6 1.3 5.3 -.6-8.9 1 10.5 .4-6.8 .3-1.3 1.4-1.6 -.5 1.3 -.2 .8 .1-1.8 1.9-6.4 -1.4 11.8 .6-9.9 1-1.4 .6-1 .2 5.8 -1.1-6.1 .7 1.3 -.6 6.4 .1-3.1 .9-4 2.2-4.5 -.4 3 -1.5 1.6 2.3-6.5 .4 .3 2.7 4.5 -1-4.2 .2 6.2 2.1-12 -1.1 2.5 -1.9-1.9 0 3.7 4.2-5 1.2 5.9 -.4 3 .7-9 1.5 1.1 -1.3-5.3 -2.3 6.1 .6-9.4 .3 1.9 .1 1.4 -.1-7.5 .8 6.4 3.4-5.2 1.6 1.2 -2.2-4.3 -2.7-5.1 .8 7.5 1.6-3.4 .7-1.3 .8-3.6 .1 3.1 2.7-5.6 -1.3 1.8 1.1 5.8 -.8-10.4 1 2.9 -1.8-5 .7 2.7 2.9-3.3 -4.3 4.1 1-7.3 4.3 .6 -.6 9.2 -1.9-7.3 -.1 7.5 4.2-9.7 -2.4-4.5 3.1 5.1 -1.1 2.3 .1-2.8 -.3-5.5 -.7-1 0 17.3 .6-12 4.2 6.9 -.7 3 .8 .4 -2.6-18.6 .6 8.5 -2 2.1 2.7 10.1 .4-4.1 -2.4-2.6 2.9 9.9 -1.8 1.9 3.1-2.2 1.9-5.3 -1.6 9 .1-4.4 1.2 4.5 0 3.1 2.3 .9 -2.9-.7 2.5 1.7 -.8 4.4 -1.8-1.2 3-10.2 1.2 8.4 1.5 4.5 -4.2 5.4 1.6-5.6 1.5 .6 -3.7 5.4 3.6-5.4 1.6 7.9 2.4-4.4 -1.8 4.2 -1.9 1.3 2.8 1 .8 3.6 -3.2-4.6 3.1-1.4 2.1 3.8 -1.3 8.9 -.2-3.5 -.6-7.3 .5-.4 3.3 4.7 -1.8-4.2 1.2 1.1 .7 9.7 0 .2 -.4 .2 .6 3 -1.4-13 .9 8.5 1.3-2.5 1.3 6.6 1.4-7 -2 5.6 1.8 2 -.1 .8 -.8 2.6 .6 0 -.4-4.6 1.9-5.5 1 7.3 -1.2 4.1 .6-.8 .8-10.8 .4 4 -.8 5.8 1.3 0 -.2-1.3 1.4 .3 0-2.9 -.9 4.8 1.1 4.5 .9-5.5 -.1-5.8 -.4 3.6 -.1 4.3 .9 .4 .5-4.2 .3-.2 -.3 3.7 1.5 .5 .3-.2 -.2-.4 1.1 .2 .1-2.1 0-3.8 .8 2.3 -.2 3 .8 4 -.5-5.4 .9 9.9 -.2-7.1 1.3-2 .7 5.2 .6 1.6 -.6 1.1 -.2-2 1.3-.8 .3-2.8 -.4 1.8 1.2 .5 0-3.2 .8 3.8 -.5-7.2 .3 3.8 .6 .8 .4 1.7 .6 1.4 .1-.2 .4-.1 .7-5.6 -.2 11.7 .2-8.5 1 5.6 -.3-3 .3-.3 .5-1.3 .4 .7 1-4.9 -.8 4 1.2 8.2 .2-4.7 -.1-4 .8 .6 .5-.2 .5 1 0 4.7 0-2.5 1.2-3.2 -.2-5.2 .6 12.2 .1-1.7 .4-3.6 .3 1.3 -.2-2.4 1.2-.9 .3 9.9 .3-15.1 .1 6.5 -.4 2.3 .8 .3 .6-1.5 .1-.9 .7 1.8 .5-4.5 0 0 -.1 5.4 .3-4.3 .6 4.6 .9 1.4 .5 .9 -.1-.8 .6-6.9 .5 3.5 .3-.2 -.3 3.4 0-4.3 .9 5.2 .3-3.8 0 3.8 1-3.9 .5 0 0-3.7 -.2 2.1 1.2 6.2 -.6-.2 .9-12.3 .8 14.9 -.1-2.1 .8-7.8 .1 4.6 .6 .6 .5-11 .1 7.4 0 .9 .4-1.1 .1-3.9 .6 3.9 -.1 2.1 .7-.5 -.2-4.9 1.6 10.9 -.1-10.9 .3 1.3 .4 3.6 -.4-3.4 .9-.3 .1 0 .6 1.2 .6 8 -.1-8.8 .1-.9 .8-2.1 .3 4.3 .4 1.1 .3-4.8 .8 1.1 -.1 2.6 .5-3.3 -.1-.9 .3 4.9 .8 1.7 .1-5.5 -.4-5.7 1.4 7.9 0-6.7 .7 11.1 .3-5.5 .1 1.1 -.2-1.4 .9 2.2 .1-1.2 .7-1.1 .5-.9 .2-6.2 -.4 7.2 .1-3.5 1.5 1.6 -1 2.1 1.7-6.4 .3 0 -.5 5.2 .5-5.6 .4 .5 .4-.1 .7 3.4 -.6-3.5 1.5 1.4 -.3 3.7 .4-3.1 1.1-.5 .1-2.3 -1.1-1.6 1.1-4.3 .2 4.2 1.8 4.4 -.6 2.3 .5-9.1 .7 1.7 1.1 1.4 -.9-1.2 .7-3 1-7.7 -.7 6.6 1.9-1.3 -.3 .9 0 .1 1.6-2.5 -1 3 2.2-3.8 -1.8-3.4 .9 6.3 .3-2.2 -.5 1.3 .6 1.9 1.5-10.4 -2.5 4.3 2.4-4.5 2.5 5.2 -2.5-6.7 1.4-5.9 -.2 15.2 2.1-10.2 2.2 1.6 -4.6 3.2 .8 1.5 1.9-3.7 2-2.8 -4.9 8.9 2.7-9.8 .6-3.1 .7 4.1 2.6-4.3 -2.2 3.3 1.7-5.8 -3 5.1 2.9-9.5 -.8 7.2 3.7 1.6 -1.5-2.7 -1.6-1.6 1.4 9.4 -.5-10.2 .1-4.2 1.3 3 .7 5.2 -1.7-8.5 -.2-5.9 3.7 5.5 -.1-4.7 -.1 3.9 1.4-6.5 -1.5 13.5 .8-7.5 3.1 2.7 -3.6-3.2 4.3 3.1 -1.2-5.3 .5-1.1 -1-2.6 2.2 1 -.7 6.3 -1.7 .4 1.4-7.4 .1-5 1.8 11 -.5-8.6 .2 .6 -1.2 1.7 2.9 5.5 -1-3 0-3.2 -1.5-5.9 3.6 6.9 -.8 5 -1.1-4.8 3.1 2.3 -1.4-2.9 2.5-1.7 -1.8 1.7 3.4-.8 -1.2 11.1 -2.6-10.3 3.1-1.4 -4.7 .3 3.7 1.1 2.7 .1 -1.8 2.7 1.8-.2 1.3-2.5 -.1-10.5 1.4 13.3 -3-2.5 1.4 5.5 1.1-17.5 .9 14.9 -2.5-14.1 .1 11.1 -.1-1.5 2.4 5.9 1.6-13.4 -.9 13.4 .8-10.7 1.6 5.8 -3.6-.4 2 6 -1.1-4.2 4.4 3.1 -1-3.3 2 1.6 -5.1-.8 1.5 6 1.6-4.1 1.7-1 .4 8.1 1-.4 .2 5.8 -2.3-6.7 .8 4.5 .4-5.5 3.5 7.8 .1 2.8 -.3 .6 -.9-13.2 1.1 3.3 .3-2.7 3.4 13.7 -1.9 1.5 -2-6.1 .9-1.4 -1.9 1.7 4.8-.5 -2.7 2.1 2-.1 -1.7 7 2.8 6 .3-8.3 -.3 4.6 -.4 3.6 4.2 .1 -1.9-5.9 0 3.5 -.2 3.8 .5-.3 1.1 1.7 -.3-7.6 1.1 3.2 -1 3.9 1.3-3.6 -.1 9.1 .8 2.1 -.1-12.2 -.1 1.4 .6 2.5 .5 2 .4 3.4 -.9 3.2 2-9.2 -.4 2.9 1.3 3.7 0-4.6 -.6 4.4 .2-6.6 1.4 6.7 -.2-1.3 .5 2.4 .3-5.1 1.1 1.4 -.2 1.2 -.2-2.6 .3-1.5 .4 3 1 6.2 -1-2.4 1.1 2 .3-.8 1 6.5 -.4-7.2 .7 1.3 .3 3.5 .5-2.2 -.3 .9 1.6 1 1.1-4.7 -1.4-.5 1.2 2.1 -.1 5.4 .7 5.6 -.1-11.8 .8 5 .5-7.9 .3 6.5 -.7 1.8 1-.6 .8-4.3 .3 3.1 -.3 6.7 .2-4.7 1.4-2.4 -.6 2.9 .5-3.1 .6 1.3 0 .6 .1 .9 .9-.8 .1 3 .3-6.1 .6 1 .3 6.6 .6-4.2 .3 1 -.3-.9 .9 .1 0-1.9 1 3.9 -.6-.3 .7-2.7 -.1 3.2 1.1 3.3 .1-9.4 .2 9.1 .1-4.8 .4 .8 .2 2.1 .4 1.7 .7-1.9 .2 1.3 .9-5.8 -.4 .2 .5 .8 .4 2.2 .6-2 .1-.2 .2 5.7 .7-2.7 .3-3.5 -.2 8 1.1 0 .1-.2 .3-10.6 .4 3.2 .9 .5 -.2 4 .2 1.2 .3-.1 .3-3.6 .9 5.4 .5 3.1 0-6 .2 3.1 .6-3 -.1-8.2 .5 5.9 .5 .9 .2 2.9 .4 .8 0-4.3 .2-1.3 .7 .4 .2 2.3 .8-.5 .2 1.2 -.1 2.8 .7-6.4 .1 9.2 0-6.9 1.3 5 .1-3.7 0 1.7 .4-4 .8 4.9 .1-2.8 .8-4.2 -.2 3.4 .1-1.7 .5 4.5 .6-3.5 .3 4.2 .1-.3 .3-.4 .5-3.5 .5 5.1 .5-3.7 -.3-.2 .5 3.7 .5-4.6 .3 5.1 .3-1.1 .5-.6 .1-2.2 .1-1.5 1 3.1 0-4.8 .3 4.3 .6-3.6 .3 6.3 .1-3.2 .7 2.7 .1-6.1 .5 3 .3-1.9 .5 1.4 .3-3 .2 6.3 .3-5.3 .7 3.9 -.1 .2 .2 2.5 .6-2.3 .2-6.9 .4 2.7 .6-1.3 .7-.2 0 .7 .1 5.3 .3-.2 .3-1.1 .6-4.2 .6 1.7 0 3.4 .1-1 .9-4.3 .1 3.9 .2-.2 .6 4.4 .2-5.5 .3-7.1 .2 9 .2 2.3 .5-8.2 .7 7.5 .2 .8 .3-2.8 0-2.3 1.2 1.8 -.3-1.1 .5 1.8 .6 2.9 0-3.1 0-2.1 .9 3.6 -.1-3.1 .6-3.8 .4 5.5 .6 4.9 .4-6.9 .3 1.8 -.1-5 .4 3.9 .5-.7 .3 1.7 .2-.6 .4-.7 .1 3 .5-4.5 .1-1.2 .8 6.5 .2-1.6 .8-4.7 0-.9 .3 .2 .4 10.2 .4-4.7 .2-1.4 .1 1.3 .4-.4 .5 5.6 .6-5.6 .4-.4 .4-2.5 .1 3.7 .4-1.8 0-.6 1-9 -.3 7.6 .4-2.3 .6 4.9 .3-8.5 .2 4.2 .5-1.7 .5 3.5 .3 .3 -.3 .7 .8-3.2 0 .6 .6-3 .8 4.4 .1-2.8 -.4 5.7 .8 2.8 1-11.8 -.1 4.6 .1-3.9 .8 0 .2 4.1 .3 .9 1.1-2.7 .5 3.5 -.8-2.8 .4-2.1 .6 7.1 -.3-3.8 .9-2 -.1 2.3 .5 0 -.1-3.6 1.7 3.8 -1-9 .3 1 1.1 4.3 -.4-5.1 1 9.2 0-5.6 .4 3.2 1.1-3.3 .8-2.2 -.6 .5 .1 3.5 .7-4.3 .2-6.2 .1 11.3 .2-6.4 .6 0 .1-.1 .7-3.1 .1-6.2 1.4 6.8 -.3-.7 .2 2.6 1.9-.6 .5-2.5 -1.3-1.7 .1 8.4 -.2-4.8 1.5-2.2 -.4-5.5 1.4 2.5 .7 1.8 -1.3-4.6 1.6 .7 0-1.4 -2.7 2.4 2.2 1.7 1.4-2.4 -.2-.8 .4 1.9 .9 1.4 -.6-14.7 2.1 6.7 -.5 2.3 .2 2 -1.1-10.4 2.8 6.6 .6 6.1 -1.2-5.3 1 .3 -.7 2.7 .4-1.3 1.6-5.7 -.9 3.3 .9-4 .9 4.7 -1.4 .6 2.5 .8 -2.6-2.5 1.4-12 2.7 9.7 .1-3 -.8 6.1 .3 1.4 .7-3.3 -.6-3.2 1.1 3.8 1.4 1.4 -.3 1.3 -1.4-.4 .5-5 -.7 1.8 3.9-.6 .1 4.8 .1-10.5 -1.6-.1 3.4 10.6 -4 .2 3.8-1.4 .2-3 -1.9 4.6 1.6-3.8 -1.2-2 1.3 5.4 -.1-6.6 2 6 1.2-1.9 1 1.8 -3.5 6.9 2.5-11.8 -.5 7 .9 3.7 -1.6-.8 -.1-1.3 1-4.5 3 9 -2.2-6.2 2.5 9.4 -.5-6.9 1 4.2 -.7 .1 1.7-4.7 -.5 2.1 .2 4.9 .5-5.2 .1 5 -.5-3.5 1.2 3.7 .8-1.2 0 .7 -.1 4.2 .6-7.3 -.2 .1 1.3-2.7 -.2 17.6 .9-11.8 .3 5.8 .5-4.7 .1-.2 .5-.7 -.5 10.2 1.5-9.5 -.1-.3 .3 5.1 .3 1 1.2-.5 -.9-4.3 1.5 4 .9 2.8 -1-4.9 .1 7.9 -.2-6.7 1.3 3.5 .2-.6 -.2-1.4 .5 4.6 -.2-7.6 1.5 4.5 -.5-3.4 .8 5.5 .6-7 .5 8.1 0-3.9 .2 5.1 .6-3.9 0 6.4 .3-5.5 .1-.2 .9-.6 0 .7 .8-3.1 .5 5.2 -.1-5.8 .6 5.2 .3-1.1 .2 .6 .8-1.3 0 1.7 .6 .7 0 1.1 .8 4 -.1-5.4 .3 3.4 .4 .6 .4-.1 .5-3 0 6.8 .9-10.4 0 2.8 .5 2.7 0-2.8 .6 2.5 .1 1.6 .7-2 0-.7 .4 2.4 .4-2.4 .4-.6 .3-3.4 .3 7.2 .5 3.2 .4-8 .5 1.2 .1 5.7 .2-7.5 .7 .8 0 4.5 .5-1.3 .3 1.8 .3-6.1 .1 6.6 .2-4.2 .7 5.4 .3-.9 .3-4 .4 4.9 .4-3.9 .3-2.3 .4 1.8 .3-2.7 .2 3.3 .5-2.1 .4 6.3 .2-6.4 .2 6.7 .6-1.4 .4-7 .4 4.4 .1-.3 .5-1 .4 1.3 .2 6.5 .5-6.4 .5-3 0 .8 .5 1.2 .2 8.2 .5-8.1 -.2 5.7 .7-8.5 .6 2.9 .3 .3 .3-.1 .7 2.1 -.1 .4 .3-1.7 0-3.4 .6 4.5 .3-.7 .7 2.1 .2-4.6 .2 6.4 .5-2.8 .4-4.5 .3 6 .4-5.3 .2 .9 .4 1.2 .4 1.7 .2 5.9 .4-7.4 .3 2.2 .5-.2 .3-2 .1-3.7 .6 4.5 .3-6 .3 7 .2-5.3 .7 5.1 .1 2.2 .4-5.2 .3 3.9 .5 1.7 .2-6.5 .3-3 .5 4.3 .2 2.6 .4-3.8 .5 3 0 .7 .6 1.4 .4 1.3 .2-2.2 .5-3.6 .1 1.6 .5-3.8 .3 6.6 .2 4.1 .3-10 .6 5.5 0 .6 .7 6.6 .2-2.7 .4-7.1 .5 4.1 .2-.7 .3-7.4 .5 5.6 .3-1.2 .1 5.6 .6-5.5 .5 2 0 3 .5-1.4 .2-6.6 .2 3.6 .7 1.1 .2 .5 .4-2.3 .3 3.5 .4-4.9 .4 .8 .3 5.6 .3-5.1 .1-3.3 .4 8.2 .5-8 .3 1.8 .2 2.7 .6 1.6 .3-.1 .5 .7 .1-.7 .5-.5 .2-1.6 .4-1.1 .1-.8 .4 8.3 .7-4.1 -.1-1.8 .6 2.6 .3-1.9 .3 .2 .4-1.1 .4 1 .4-1.3 .2-4.4 .4 4.6 .3 1 .3-1.8 .3-.8 .3 1.3 .4-.9 .4-3.2 .6 3.1 .3-2.1 .1-1.6 .2 4.9 .4-.5 .4 1.7 .8-3.4 0 2.1 .1-1.1 .7 1.3 .2-4.2 .7 5.1 .2-4.9 .4-4 .3 5.7 .2-4.4 .2 7.3 .5-6.7 .7 3.9 .2-5.4 .2 6.1 .3 3.1 .3-5.5 .1 4.6 .6-4.3 .4-3 .4 2.5 .3-1.8 .7 4.2 .1-.3 0 3.4 .2-7.7 .5 1.9 .4-1.6 .6-.7 .8 1.3 -.4 2.6 0 .2 .7 1.1 .5-4.4 .5 .4 .1-1 .8-9.5 .1 10.6 .7 0 .1-2 .4 2.1 .3 2.8 -.1-7.4 -.3 5 1.6-3.4 -.5 1.5 .5-.3 .9-.2 .7 5.5 .1-5.3 -.2-.5 .8-2.7 -.3 8.6 .5-3.8 1-1.4 -.6-2.8 .1 1.5 .7 6.4 .9-8.1 -.2-.4 .5 7.6 .7-7.7 -.6 5.4 2 3.9 -1-10.1 1.4 .7 -.8 7.3 .8 .1 .6 2.2 .5-5.6 .4-.3 0-4.3 -.5 2.8 1.2 .7 .1 1.1 .2-3.8 1.1 2 -.7 3.9 1.7 1.9 -.3-3.2 .1 .6 .7 2.3 .5-11.4 -.2 12.5 .7-6.4 .3-5.4 -.1 6.4 .8 1.2 -.1-4.3 .8 5.7 0-1.1 .8 4.6 .5-7.8 .4 0 0-1.7 -.3-2 .6 4.6 -.1 5.7 1.6-9.3 -.8-.8 1.4 3 .2-2.9 -.3 3.9 .3-2.7 .4-1 .3-.2 .4 1.8 -.2 4.5 1.9-11.5 -.2 12.8 .3-5.2 1 3.4 -.5-1.9 .2-1.1 -.1-5 .5-.1 1 5.5 .1-.9 -.1 5.1 .5-18 -.2 8.8 .5-6.8 1.4 15.5 0-9.1 .1-2.6 .5 7.3 .9 .3 0-6.7 .5 1.9 -.5 1.8 1.1 6 -.5-7.7 1.1 2.6 0 3.6 1.1-2.8 -.2-1.5 -.5 1.8 1.1 4.2 .6-4.2 .5 3.6 .5-6.5 0 2.5 1-.9 -1.1 5.7 .9-6.8 -.2-1.6 .7 7.2 .1 2.4 .5 3.5 1.1-12 -.1 1.4 .9 8.5 0-1.8 .4-3.4 .6 2.6 -.3 3 .4-1.5 .8-7.5 .1 5.9 .1 .9 1.4 3.2 -1.1 .5 .9-3.3 .4 1.5 .2-2.8 .5-1.4 .2 3.7 .5-5.1 .3-1.8 .2 2.3 .5 6.3 -.1-1.4 .8-.5 0 5.2 .9-3.5 .4-2 -.1 4.9 .1-3.7 .3-4.8 .6 3.2 .4 .3 .5 2.6 .4-1 .1 2 .3-1.4 1-.8 -.2-.1 .4 .6 .2-.6 .5-3.1 .3 2 .4 4.2 .3-5 .1 7.6 .4-2.9 .7-1.6 .3-4.1 .2 4.2 .4-.3 .5 2.6 0 2 .7-.4 .4-.9 .3 .7 .1 2.6 .5-3.1 .2-.2 .2-3.5 .4 2 .4 1.5 .3-6.7 .4 10.8 .2-6.2 .3 2.5 .5-8.5 .5 6.9 .3-3.6 .3 3 .3-3 .3 .2 .4-1.8 .4 8.7 .4-5.9 .5-1.1 .2-1.2 .3 4.1 .1 5.1 .5-4.9 .4-2.4 .2 2.3 .5-1.6 .3 1.3 .3-1.5 .4 6.4 .3 2.3 .4-7.5 .3-1.7 .4 3.4 .3-.2 .6 2.5 0-4.5 .6 1.1 .2 .5 .3-.4 .3 1.6 .4 .3 .5-.2 .3-6.5 .3 6.8 .4-1 .1-6.2 .3 5.8 .6-2.2 .3 1.7 .2-3.1 .6 5.8 .4-.4 .3 1 .2-1.5 .5 .1 .3 .1 .1 2 .5-3.5 .3 2.4 .2-6 .5 5.8 .4-2.8 .1 5.2 .2-3.2 .6-4 .3 3.8 .3-2.5 .5 4.6 .5-3.2 .2-.5 .2 .3 .3-3.3 .4 3.6 .4-1 .4 .9 .4 3 .1-6.7 .6 3.2 .4 4.6 .3-4.9 .3-.6 .2 1.7 .4 2.9 .6-3.3 .2 3.1 .3-6.4 .3 7 .2-5 .5 2.8 .4 1.2 .2-5.1 .6 7.8 .3-5.2 .1-2 .5 6.1 .2-2.7 .4 4.4 0-6.5 .8-4.1 .3 5 .2-6.6 .7 7.8 .2-2.3 .3-7.4 .4 6.5 .2-2.4 .3-2.9 .4 2.7 .5 .2 .1 2.8 .3-3.3 .7 6.5 0 2.8 .6-5 .1-4.4 .5 2.4 .2 0 .4-2.8 .4 1.7 .4 4.7 .3-6.6 .7 5.1 .1-3.6 .1-2.5 .5 2.1 .4 3.4 .5-3.1 0-1.8 0 1 .4-2.6 .2 3.6 1.2 2.1 -.5 .2 1.3 2.3 0-3.9 .5-9.3 -.4 8.1 .7-5.9 .9 2.9 -.3-1.2 1.1 3.7 0-2 .2-1.6 .8 1.5 -.2-5.6 .5 1.7 .4 4.9 -.4 3.7 1.1-8.2 .7 5.9 .3-5.3 .6 4.4 -.2-8.2 -.3 4.5 1.7 2.8 -1.4-8.2 1.5 3.7 -1.2-3.5 1.5 1.9 1.6 1.9 -1.7-2.5 2.2-1.4 -.8 2.5 .1-3.4 .6 1 .4-1.5 .8 3.1 .4-3.8 .3-.6 .2-.3 0-1 1.6 5.4 -.1 1.8 -.4-4 .6-3.8 .4-1.4 1.2 3.8 -.6 .1 .3 1.4 .6-.3 .2 2.1 -.4-4.8 .1 9.7 1.6-10.4 .1 2.4 .2 .6 .1-2.2 0-4.7 .6 11.3 0 8.4 .3-8.1 .7-10.2 1 6.4 -.5-.9 1.2 5.1 .5-3.7 -.2-1.1 -.1-2 1.1 4.3 .4-2.7 1.3 2.3 -1 .4 .9-1.1 .6-.3 .6-.9 -1.9 1 1.8-4.5 -.1-2.8 .2 6.9 -1 3.2 1.4-3.8 .7-1.1 1 3 -.7-3.7 1.2 .2 -.7 2.2 1.1 2 .6-.3 -.3 4.7 .4-5.4 .8-3.8 1.3 1.8 -.7 1.5 -.4 1.7 1.1-3.2 .8 6.2 .8 .2 -.4-4.2 .4 7 .3-4.1 .4-2.5 .3 1.7 0-.3 .9 6.1 -.4-5.2 -.2 6.4 .9-2.4 .4-1.1 .8 2 -.3-2 -.3-.4 .9-2.4 .7 7.5 .1 5.2 .4-11 1 3.6 -.2 6 .9 .7 .3-.8 .3-5.1 .1 4.8 .2-3.8 .8-3.2 -.1 4.4 .6 .6 .3 3.5 .1-6.2 -.1-.8 1 4 .5 1 0 3.5 .8-3.9 0-2.4 .2 1.8 .7 8.9 -.1-14.5 .7 5.9 .7 5.5 0-4.6 .2-3.1 .6 1.1 .4 4.3 .1-5.1 .4 3.7 .4-.4 .4 1.9 .1 .6 .4 .1 .6-1.5 .1 1.5 .3-2.3 .7-2.3 -.1 2.4 .4 2.1 .5 1.2 .4 2.8 .1-6.4 .5-1.9 .3 .1 .2 3.7 .5-6.4 .3 1.8 .3 4.9 .2 .2 .6-5.3 .3 6.4 .3-1.6 .3 2.1 .3 .9 .3-3.4 .5 .6 .4 1.3 .4-4.4 .1 4.7 .5-6 .3 7.8 .3-1.6 .5-3.5 .2 2 .5-1.5 .2 2.7 .4 2.6 .5-4.3 .2 1.5 .3 2.8 .4-3.7 .3 3 .4-4.8 .4 1.5 .2 3 .5 1.2 .2-6.9 .3 3.3 .5 4.1 .2-2.7 .4-3.3 .4 3.3 .3-2.5 .4 5.3 .3-6 .3-.7 .4 3.3 .3-.3 .4 0 .3-2.4 .4 4.6 .3-2.6 .3-2.6 .4 11.9 .2-7.2 .5-2.9 .3 4 .3-5.1 .3 6 .5 .7 .4-1.9 .2 .7 .4 .5 .3 2.8 .4 4.2 .3-16.6 .3 8.6 .4-2.1 .4 5.3 .2-4.4 .4 .9 .4-2.5 .4 4.3 .2-1 .4-1.8 .3 4.8 .4 .7 .3-4.3 .4-1.8 .3-1.5 .4 8.2 .3-8.7 .4 3.6 .3-3.4 .4-.1 .2 0 .4 6.7 .3-5.6 .3-3.7 .4 1.9 .3-1.1 .4 2.9 .4-.3 .3 5.8 .3-6.9 .5-.7 .3 4 .3 4.8 .3-6.4 .4-1.1 .3 6.1 .4-8.8 .3 4.7 .4-1.1 .3 3.1 .4-.5 .3-1.8 .3-.5 .4 1.1 .3-1 .3-.6 .4 1.7 .4 .4 .3 4.3 .4-3.6 .3-3.7 .4 3.3 .2-2.7" fill="none" stroke="none" marker-start="url(#c)" marker-mid="url(#c)" marker-end="url(#c)"/>
<path d="M164.6 1427.5l.4 1.6 .3-5.2 .3 8 .4-2.4 .3 2 .4-.1 .4 .8 .3 1 .3-3.7 .4-.9 .3-.9 .4 3.6 .3-2.2 .3-2.5 .4 3.3 .3 1.6 .3 .5 .5-3.9 .3-.6 .3 3 .4 .3 .3-1.9 .3 3.1 .3-3.4 .5 3.6 .3 1.9 .3-7.2 .3 5.5 .4-1.4 .4-3 .3 2.1 .3 2.5 .4 .8 .3-3.8 .4 .6 .3 5.5 .4-3.9 .3-1.3 .3 1.3 .4 .9 .3-3.3 .4-2.3 .3-.8 .4 5.9 .3-4 .3-1.9 .4-.3 .3 8.3 .4 .8 .3-4.6 .3 3 .4-1.1 .3-6.2 .4 6.3 .3-1.4 .4-.7 .3-.1 .4-3.6 .3 6.5 .4-1.1 .3-3 .4 .5 .3-3.1 .3 6.7 .4-2.4 .3 .8 .4-.9 .3 1.5 .4 1.3 .2 .9 .4-3.6 .4-2.5 .3-1.4 .4 5.8 .3-1.5 .3 4.8 .4-4.4 .4-5.1 .3 5.4 .4-2.7 .3 2.9 .3-4.7 .4 3 .3-.8 .3-1.2 .4-2 .4 4.8 .2-4 .3-2.9 .4 2.2 .4 2.3 .3 1.1 .4-1.1 .4 1.8 .3-.1 .3-.3 .3-.6 .4 1.4 .3 3.1 .4-3.3 .4-.3 .3-.4 .3 2.1 .4-5 .3 .6 .4 2.6 .3-4.1 .4 5.4 .3-3.1 .3-.8 .4-.7 .3-2.6 .3 2.8 .4-2.8 .4 1.2 .3 .2 .3 3.5 .4-1.4 .3 2.2 .4-4.5 .3 2.8 .3-.3 .4 1.6 .4-1.8 .3 2.4 .4-2.9 .3 3.7 .3 2.3 .3-1.7 .4-2.4 .3-.1 .4 1.5 .5-2.8 .2-1.3 .3 1.2 .5 .1 .3 0 .3 5.5 .3 2.4 .4-6.2 .2-4.4 .4 4.4 .4-.9 .3-3.3 .4 4.9 .2-1.8 .5-2.4 .4 .6 .3 5.1 .4-5.2 .3 2.2 .3-1.2 .4-1.3 .3 1.2 .4 4 .2 2.4 .3-6.3 .5 .7 .3 .1 .3 .7 .4 1 .3 .6 .2-2.2 .6-5.4 .4 9.8 .2-2.8 .2-2.2 .5 1.2 .4-.1 .3 .4 .2-6.3 .5 9.4 .2-5.3 .5 4.1 .3-1.6 .3-3.2 .4 2.2 .3 2.4 .3-.2 .4-1.2 .5-2.8 .2 3.1 .3 2.2 .2-2.3 .5-6.8 .3 6.3 .5-1.4 .2 4 .4-5.7 .4-1.9 .2 3 .4 5.2 .5-1.9 .2-1.1 .3 5.1 .4-9.1 .5-.2 .2-1.3 .2 4.2 .5-2.3 .3-2 .3 5.9 .4-2.1 .5 4 .3-.4 .4-5.8 .2 2.9 .3-1.9 .3-2.4 .3 11.2 .5-6.3 .3-1.9 .4 4.8 .3-5 .4 1 .3 3.2 .4-4.2 .4 2.2 .4-.7 .2-4.3 .4 5.6 .3-1.5 .2 0 .5 2.2 .4-6.3 .1 .7 .6-.1 .1 1.1 .5 2.8 .2 .6 .5-2.2 .2 .2 .7 3 0-7.7 .5 1.5 .4 8.2 .2-8.1 .3 2 .5 .9 .2 4.1 .4-1.5 .2-4.2 .4-2.4 .3 6.5 .5-3.5 .4-3 .1 6.8 .4-6.6 .4 .8 .4 5 .3-5.8 .3 8.6 .5-.8 .3-10.3 .3 5.4 .3 3.2 .4-.8 .4 .5 .2-6.7 .3 8.8 .3-6.1 .5 .3 .5 .1 .5 3.9 0-4.3 .4 .9 .3-3.4 .3-.2 .1 5.2 .7-4.4 .3-.4 .3 5.8 .5-2.8 .5 .8 0 1.9 .5-1.2 .3 2.2 .5-1.3 .1-4 .3 1.7 .4-.4 .4-1.9 .5 2.9 -.1-2.7 .4 2.8 .8-.4 0-2.4 .3 7 .6-.2 .3 .5 .2-.8 .4 .4 .4-3.6 .3 5 .4-6.6 .3-.5 .1 1 .7-2.5 .4 1.8 .1 6.2 .4-11.2 .4 .3 .2 5.1 .5 4.2 .1-4.9 .5 3.6 .5-4.6 -.2 1 .5 .9 .4-6.6 .4 2.3 .6 1.5 0 1.8 .6 1.6 .5-2.5 .2 3.2 .6-5.3 .1 4.9 .3 .9 .3-2.5 .5-3.3 .1 5.7 .6 1.5 .4-3.3 .2-2.9 .1 2.9 .7 2.3 .6-5.7 .2-3.7 0 5.9 .3 3.9 .5-4.9 .3 .6 .5-2.8 .6-1.7 .2 6.1 .3 2.4 .3-4.3 0-2.5 .3-1.2 .7 8 .4-7.3 .2 1.7 .4 1.9 .2 1.4 .2-3.2 .7-3.8 .2 2.3 .2-1.4 .4 2.9 .4-2.6 .5 3.6 .1-4.5 .3 2.7 .3 2.7 .8 .7 .2-8.8 .6 6.8 -.5-1.5 1-.1 .2-2.5 .6-2.2 -.5 4.9 1.1 3.5 -.1-9.5 .8 4.7 .8 2.5 -.3 1.1 -.1-8.4 .9 5.7 -.1-6.6 .7 10.4 .3-5.4 .3 2.2 .3-1.7 1.2-4.8 -.3 10.8 -.2-5 1.3-2.8 -.5-5.6 .9 11.3 .3-8.3 .1 3.4 .5 3.1 -.1 .4 .5-5 .5 1.2 .3 1.6 1-1.3 -.1-8.9 .2 8.2 .1-2.7 .4 3.4 .5-6 .8 3.2 0 .1 -.1 0 .7-4.1 .3 1.5 .5 3.1 .1 8 -.3-10 1.6 3.3 .9-1.9 -.9 2.8 .8-11.7 -.5-1.1 1.5 7 .1-1.6 .1-1.1 -.4 .8 .7 3.1 .2 5 .7-15.1 1.2 3.6 .7 3.6 -1.4-6.2 1.8 3.2 -2.8-1.8 3.8-1.2 -.3 2.3 -1.1-3.2 .3 3.2 -.7 4.5 3.1-10.1 .4 3.9 -1.5-3.7 2.3-2.4 -2.3 4.5 2.9-1.2 -.3-3.6 -1.3 2.6 2.2-9.6 -.7 4.5 -1.8-.3 4.1-9.5 -1.2 14.1 -1.4-10.2 3.1-1.3 1.2 3.7 -2.4-1.2 2-3.8 2.7-1.3 -1.6-5 -.4-6.2 -.9-1.5 3.8 3.5 -1.2 4.3 .5-11.8 -.3 6 .2-10.1 -.1 2.2 -.8 3.1 2.6-9.7 .8-9.9 .7 12.8 -.7-13 .4 8.9 1.3-4.5 -2-1.6 -.8-9.7 2.1 3.3 -.1-11.6 .6 3 1-9.5 -.7 .1 .8-2.3 .4-9.3 -.2-7.5 1.8 3.3 .9-4.5 1.2-4.4 -1-1.3 2.3-10.2 -2.9-9 2.3-2.7 1.2-.8 1.2-8.6 -3.1 1.3 1.1-4 .9-8.5 .2 6.1 .1-7.7 -.9-6.7 0 8 -1.7-6.2 2.9 1 .2-.9 .9-11.4 -4.1 4.2 6.1 5.3 -6.1-5.1 1.8-8.7 .7 .6 1.1-1.5 2.6-2.1 -2.7-8.4 3.6 1.2 -3.8-11.7 4.5 6.2 -3.2-10.2 -.5-2.3 -.5 1.2 3.8-9.1 -1.4-8.9 -.4-.5 -.4-1.4 2.5-10 .2 5.8 1.5-5.4 1.4-3.3 -2.8-9.5 .8-3.3 0 6.9 .6-7.3 2.8-3.3 1.6 0 -2.6-.4 .8 3 -2.7-6.1 .2 2.2 2.5-6.8 .2 12.1 -1.2-4.9 .7-.5 1.3-.4 2.9 2 1.2 5.6 -2.2-6.9 2 16.8 -1.8-5.4 1.7 10.1 .5-7.8 -.5 .8 1 5.5 -.7 8.6 -.8 5.5 .2 3.8 1.7 10.7 1.6-5.5 -.6 .1 -.7 8.1 -.1 2.2 1.9 9.1 .2 3.9 -.8 .7 1.7 3.7 -.4 4.4 .9-2.8 -1.9 10.3 2.3-6.2 -1.2 8.4 .6-7.4 -1.4 11.1 1.7 3.3 1.8 4.6 -4.2-6 1.9 5.4 -.8 .6 1.1 9.9 1.8-4 .1 3.6 -.4 1.4 -3 2.6 5.2 12 -2.5-.5 2.7 2.8 2 10.5 -1-2 .8 6.4 -.1-3 -3.2 7.6 2 11.8 -.6 .7 1.1 1.9 1-.1 -.5 7.9 1.6 3.5 -.7 4 2.8 1.9 -1.9 1.7 2.9 9 2.1-2.1 -2.9 4.4 -1.8-9 .8 14.9 2.1 1.9 -1.2 1.5 2.8 9 -1.1-3.5 -.5 7.1 .7 .9 3.3 1.9 -6.1-2.7 4 6.9 1.3 4.5 2.3-.5 -1.9 5.7 -1.7-8.1 2.3-1.4 .2 9.1 1 3 -1.3-2.7 2.3 3.6 -1.3-2.8 1.4 3.4 2 2.9 -3.1-.1 .9 7 .2-2 3.9-3.4 -1.6-1.7 .2 9.9 1-10.6 .4 4.4 -.6 4.4 -1.3-4.9 1.4 5.1 .4 6.8 .7-1.3 0-4.3 .3 3.2 -1.1 .6 1.7 4.4 -.1-6.8 1.4-.7 -.3 4 .7 .8 .6-9 .5 .5 .6 4.8 -.8-1.2 .7 3.2 .8 4.1 .4-8.2 -.6 5.1 .7 .8 1.7-2.7 -1.6 8.3 -.1-2.7 1-6.4 1.2 8.2 .6-2.3 -.2 4.6 .1-3.9 -.2 4.1 1.3 2.2 .8-8.9 .1 4 .2-.2 -.1-.8 1.1 2.4 .4 1.8 -.6-1.8 .3 1 1-1.6 -.4 1.7 1.2 .2 0 0 .2 1.4 1 1.3 -.5 1.7 .6-3.5 .4-2.7 .1-1.3 1 3.1 -.5 .7 .5 9.1 .7-9.8 -.1-4.8 1 5.2 .5-2.9 -.5 2.3 .9-1.2 0 2.8 .4 3.7 .5-.6 .5-2.7 .2 4.7 .4-3.6 .5 .5 0-12.7 .4 7.9 .4 1.8 .5-.1 .6-.5 .3 .2 .9-.7 0 5.1 -.4-5.7 .5 1.1 .1 4 .3 4.7 .4-2.4 .6-6.6 .4 4.6 0-.5 .6 3.6 .8-9.4 -.4 6.5 .8-3.9 -.1-4.3 .5 11.5 .8-1.9 .4-1.3 0-4.1 .6 6.4 -.3-1.9 .9-1.5 -.3-.5 .9-.5 .4 4.1 .2 .8 .6-5.9 .1 2.3 .5-2.9 .3 3.5 .3-2.7 0 6 .9-6.1 0 4.4 .7-2 -.1-1.5 .5-1.1 .4 9 .4-9.2 .2 3.9 .1-4.7 .7 2.2 .2-4.5 .7 8.7 .2-.4 0-1.7 .8 3.2 .4 1.1 .3-7.8 0 7.6 .1-5.2 .8 .1 .3 1.7 .3 .9 .2-3.2 .5-.8 .1 2 .8-.7 0 2.1 .2-2.5 .7 4.4 .2 3.5 .5-7.6 .3-2 .2 1.4 .5 .7 .2 5.5 .3 .1 .5-.6 .5-4.8 -.1-.5 .8-1.2 .1 2.3 .6 2 .1-1.6 .2-1.9 .6 5.3 .1 2.7 .5-5.7 .3 .2 .4 3.6 .4-2.8 .4-2.8 .1 .4 .5 5 0-.2 .7-3.7 .3 .8 .6-.2 .1 1.9 .4 2.1 .2-2.7 .3-8.1 .4 9.1 .5 .7 .3-3.9 .5-2.3 .2-.6 .4 6.6 .2-2.9 .4 3.6 .4 1.4 .1-7.4 .6 2.5 .1-2.3 .5-.1 .1 6.9 .5-6.8 .4 2.9 .5 4.3 .1-2.7 .5-2.8 .3 3.6 .2-.7 .4 5 .4-9.5 .3 3.6 .5 1.4 .2-.7 .3-1.6 .3 3.1 .5-2.6 .6 .7 .2 4.6 .2 1.3 .2-4.7 .4-.1 .4-2.3 .4-3.8 .3-3 .6 10.8 .3-.5 .1-1.4 .4-3.3 .4 4.6 .3 3 .3-4.1 .6-5.6 .2-1 .4 3.8 .2-.3 .5 3.2 .1-7.7 .6 8.2 .2-3.2 .3 5.1 .2-4.6 .5 1.9 .4-2.9 .2-2.5 .6 9 .1-7.1 .5-2.2 .3 3.7 .2 .8 .5-1.8 .3-.3 .3 .6 .2 2.4 .6 1.5 .1-2 .4-.1 .5 1.6 .2-5.5 .5 3.8 .3 3.5 .3-5.9 .4 5.5 .4-3.2 .4 2.7 .1-6.3 .5 .2 .3 6.4 .3-4.8 .3-.8 .5 2.3 .4-9.9 .3 11.8 .4 2.5 .2-4.8 .4-6.2 .2-.9 .5 7.3 .3 5.8 .4-5.6 .3 .3 .3 2.3 .5-4.5 .1 4.5 .4-7.8 .4 4.4 .3-.4 .5 .1 .1-6 .5 6.1 .3 3.4 .4-4.1 .3 6.6 .4-5.3 .4 .8 .3-5.8 .3 7.9 .3-1.3 .4 2.6 .4-6.3 .2 3 .4 3.5 .6-3.9 0-.3 .3-3.8 .5 8.7 .5-1.1 0-6.5 .6 6.5 .3 1.1 .2-1.5 .4-2.7 .3 .3 .4-5.8 .4 4.5 .3-.2 .4-2.9 .3 6.4 .5-3.1 .2 2.8 .4-3.7 .4-3.3 .2 5.2 .4-1.1 .3 2.9 .5-2.1 .1 4.3 .4-5.9 .4 7.4 .4-4.4 .3 2 .4-7.3 .2 6.3 .4-1.8 .4 3.4 .3-5.7 .2 2.2 .4-5.1 .6 6.9 0 1.1 .4-.4 .5-3 .2 2.9 .6-1.4 .1-3.9 .5 3 .2-.4 .3 2.2 .4 0 .5 0 .3 1.8 .2-8.6 .5 9.7 .2 .5 .4-3.1 .2 .7 .6 .6 .3-4 .2 .3 .4 2.1 .6 1.8 .3-5.2 .2 .2 .4 .4 .2 5 .4-4.7 .4-.8 0 1.6 .6-2.1 .2-.5 .3 4.3 .5 0 .5-4.1 .2 2.5 .4 1.6 .4-6.7 .2-.7 .3 6.5 .5-5.3 .4 5 .1 .7 .4-2 .5-1.4 .4 4.5 .2 1.4 .4-7.7 .4 4.7 .2 2 .3-1.4 .6-3.6 .3-.1 .2-3.4 .4 5.6 .4-3.3 .3 4.4 .3 0 .4-1.7 .2 .9 .3 2.8 .4-4.3 .3 6.5 .5-4 .3-4.8 .4-.3 .3 5.9 .4-1.6 .3-6.7 .3 6.4 .4 4.4 .3-4.4 .3-4.1 .7 5.5 .1 .4 .3-5.2 .4 3.7 .5-6.2 0 10.2 .4-4.8 .3-6.3 .5 3.6 .2-.3 .6-1.8 0 7.3 .7-1.7 .4-1 .1 1.8 .3-5.6 .5 .8 .7 4.5 -.2-1 .1-1.3 .5-1.6 .7 1.4 .2-3.2 .2-1.6 .2-1.6 .6 6.8 .4 2.4 -.1-5.5 .9 4 .5-2.8 0-2.8 -.1 5.2 1.5-4.1 -.2-.3 .3 1 .3-1.3 0-3.5 0 1.9 .8-.5 .9 3.3 .1 1.2 .1 2.4 -.2-3.5 1.1-6.1 -.2 .3 .6 3.5 .9 4.4 .2-6.7 -.2 2.4 -.2-2.6 1.2 2.8 0-2.7 .9 3.3 .2-2.7 .9 2.5 -.5-5.5 0 4.3 1.2-1.5 -.7 .5 .5-2.7 1.1 2.8 .6-1.3 -.2-1.9 -.1 2.9 -.1-5.3 -.2 7.3 2-11.6 -.4 5.6 -.2 1.9 1.2-3.8 -.3 2.4 1.5-3.9 -1.3 3.8 2.4 0 -.7-8.5 .4-1.7 .7 5.7 -.9-4.9 1.5 4.6 -.1 .8 .1-8.2 1.4 5.9 -.6-2.5 2.2 2.4 -1.2-5.5 .9 4.2 .1-2.5 .9-7 .3 3.5 -1.5 6.6 2.3-3.5 -.4 .3 1.5-.2 -1.4-3.6 2.3-4.8 .1 6.5 -1.3-6.6 .1-3.8 2.2 7.3 0 2.4 -.7-4.4 2.7-4.3 -.8-4.8 .3 9 -.5 2.4 -.6-8 .1 3.2 -2.5-7.2 4.1 1.1 .9 4.7 -3-1.5 3.8-4.8 -.2-1.1 -1.3 3.2 -.6-.7 1.6-2.2 4.6 .6 -.8 3.7 -2.2-6.7 2.6 6.5 2-4.8 -6.5 .4 6.4-8.6 -4.2 2.2 3.6 1.8 .2-3.7 -1 7 2.8-.5 -1.6-.4 .4-5.8 -.3-4.8 -2.8-4.6 4.3 11.5 0-5.5 -1.8-5 3 4.9 -1.5 7.7 3-7.3 1.7-1 -.5 4.1 .1-2.9 -1.1-2.4 3.2 3.7 -2.1-8.5 -4.8-3.6 3.7 4.9 2.2 10 1.2-2.3 -.7-11.6 1.3 11 .9-10.1 -5.1 7.1 3.4 2.1 .1-6 -1.1 4.8 -.1-7.7 4.4 12.9 -.8 2.2 .9-4.8 -1.5-7.6 2.5 3 -2.9-.4 2.1 2.4 -3 2.5 5-2.7 -.4 5.1 .1 8 .3-3.5 .7-3.2 1.2-6.5 -.1 6.1 1-8.4 -1.3 4.8 -.7 13.1 .3-4.8 2.9 1.6 -4.2-9.8 5.1 2.8 -.8 .5 -2.5 5.3 3.3-1.8 .8-.3 1.3-1.4 1.3-.4 -2.9 7.7 -2.1-7.2 4.7 3 .4 7 .4-.4 -3.3-1.8 4.4 4.7 -1.1-9.5 -1.4 9.2 2.1-.4 1.5 5.4 -3.8-5.9 7-3.8 -1.6 6.8 1.1-6.5 -1 4.2 -2-.9 2.6 8.9 -2.3-.7 4.5-6.5 -2.2 5.4 .4-1.1 -1.8-2.5 3 8.5 .5-2.7 -1.5 6.7 .4-4.7 -.6-1.1 1.4-.4 .1-2.1 1.1 1.9 .3 1.1 1.4 3.6 .6 2.2 -.9 .3 -.8-4.6 2.4 5.1 .8 1.5 -.9 7.9 .8-6.5 -.8-6.2 2.1 2 .1 .1 -1.2 7.2 1-5.7 -.4 7.6 1.2-8.1 .5 4.6 .8 2.6 -.2-1.5 .3 4.6 .5-4.2 -.2 2.3 .5 .8 .2 3.3 1-7.7 .1-1.9 -.6 6.2 1.1-1.7 .6 .9 .2 1.5 -.1-.1 .3-2.8 .5 3.8 .5 1.2 .6 .1 0-7.1 .1 7.2 .8-5.5 .6 6.7 0-4.7 .9 1.6 .4 7.1 -.5-3 .8 .1 .1 .1 .2-1.8 .6 4.8 .2-4.5 0 .2 1.1 4.1 .2-4.5 .2 2.7 .4 1.7 .5-4.2 .2 7.3 .2-2 .6-2.4 -.2 2.7 1-3.7 0-5.7 .6 7.8 .1 .8 .4 1.2 .5-1.9 .3-.4 .5 1.4 .2-1.7 0-1.2 .9 4.2 0-.6 .6 1.1 .3-2.2 .1 2 .4-2.9 .2-6.2 .6 4.9 0 4 .8 1 .2-5.8 .4 4.7 .2-4.8 .4 4.4 .3 4.8 0-4.2 .7 0 .3 1.9 .5-1.9 .1-1.5 .5-.8 .4-1 .3-.8 .2 2.2 .4-.2 .3 6.5 .4-5.2 .4-.9 .3 6.9 .4-6.5 .3-.1 .4 1.3 .4 .2 .3-2.1 .4-.3 .2 4.4 .5-4.6 .2-.6 .5 2.2 .2-.6 .5 .5 .2-.3 .2 .8 .4 .3 .5 1.5 .3-7 .4 9.5 .2 .6 .4-6.6 .2 3.1 .6-3.8 .3 2.3 .4 4.8 .1-.4 .4-4 .4 7.1 .4-5.1 .2-9.6 .6 7.4 .3 6.3 .2-4.7 .3 3.4 .3-3.8 .5 1.5 .3 4.1 .4-6.2 .4-.1 .2 3.1 .2 1.6 .7 1.6 .1-3.8 .5 1.9 .1-11.6 .6 6.1 .4 .6 .2 4.1 .2-7.4 .4 4.2 .3-7.1 .4 7.5 .5 4.2 .3-7.9 .3 2.6 .4-2 .3 3.5 .2-5.6 .4 6 .4-.8 .5-4.7 .2 6.8 .4 .7 .2-2.9 .5 2 .2-3.3 .4 .4 .4 5.4 .3-5 .3-.3 .3-3.8 .5-1.1 .4 2.2 .2 9.3 .4-7.7 .3 4.6 .4-1.1 .3-4.6 .3 2.1 .4-.2 .4 1.7 .2 .9 .4-1.1 .4 3.7 .4-3.9 .2 3.5 .6-.4 .1-9.4 .4 7.1 .3-5 .3 5.3 .4-1.1 .3 .4 .6 1 .1-2.9 .5 .4 .3 2.8 .3-.3 .4 .6 .3-1.1 .4 2.2 .1-7 .6 4.4 .3 .5 .3-4.2 .3 3.2 .4-3.6 .1-4.9 .6 2.5 .2 8.1 .5 .2 .3-.5 .4-3.6 .2 3 .4-7.2 .4 3.2 .1 4.2 .5-.8 .4-4 .5 4.3 .1 2.4 .5-4.1 .2 6.7 .4-6.9 .4 .9 .3-1.5 .3 2.5 .4-.1 .3-4.7 .4-.9 .4 6.5 .2 2.4 .4-4.7 .3-2.2 .3 2.2 .5 .4 .4-1.8 .3 5.1 .2-4.3 .4-1.2 .4 .4 .3-.9 .5 7.3 .2-2.3 .3 .5 .5-3.7 .3 2.2 .3-.6 .3 1.4 .3 .5 .4 .2 .2-3.6 .5 2.2 .3-5.1 .4 5.1 .4-2.9 .2-3.5 .4 4.8 .4 1.8 .4 1.2 .2-4 .5-.7 .3-1.5 .3 5 .5 2.6 .1-5.5 .5 2.2 .2 1.5 .4-5 .4 3.7 .5 .6 0-1.8 .6-.7 .1-2.2 .3 3.4 .5-1.7 .3 2.1 .5 .4 .2-2.3 .4 4.5 .2-7.6 .4 1.8 .3 .5 .3 1.6 .5-3.4 .6 5.3 0-2.2 .5 1 .2-4.8 .5 2.3 .1 2 .6 .2 .3 1.1 .2-1.8 .3-1.3 .6-8.7 .3 10.8 .1-1.4 .3-.5 .5 1.6 .3-2.6 .4 2.9 .6 .1 .2-.5 .2-5.1 .5 3.8 .2 .6 .3-.5 .5 .8 0-.5 .5-2.1 .8 9.1 -.1-9.7 .5-.7 .4 5.1 .1 .4 .4 .6 .7-.7 .1-7.4 .2 1.7 .3 7.4 .7-1.6 .3-4 .2 2.3 .5-3.7 .2 .6 .3 2.2 .2 1.9 .6 1.1 .2-9.8 .4 8.3 .5 .5 .4-2.6 -.2 2.6 .7-1.5 .4-.4 .4-6.4 -.2 7.5 .8-4.9 .2-1.6 .6 1.6 .5 4 0-1 .5-.6 .1 0 .6 2.5 .4 4.1 .1-5.1 .4-3.6 .1 1.1 .5 2.2 -.2-4.7 1.1 1.1 .2 1.2 -.2 5.3 .7-4.4 .4-5.9 .9 1.3 -.1 6.4 .5-8.6 .3-1.5 -.2 1.4 .9 4.6 .7 .7 .1-5.7 -.3 2.7 .4 2 .9-.1 .9-3.7 -.9 4.1 .9-2.2 1 4.3 -.2-5.3 .5 1.6 -.4 2.6 .3-4.4 -.2-.9 1.8-1.6 .2 2.7 1.1-8.4 -1.4 2.6 1.8 3.4 -.3 1.2 .6 3.9 -.8-2.3 1.5-3.6 .3-4.4 1-4.2 -.2 9.7 .3-13.8 -.3 14.8 1.8-10.2 .6 5.9 -.5-1.1 -1.4 .4 .7-2.8 .4-2.6 2.9-.1 -1.8-7.5 1.6 1.6 -.1 .5 0 3.8 -.2 .2 1.3-8.7 1.6 8.9 -1-2.9 -1.7-3.6 1.8-.4 1.5 5.4 .6-4.5 -2.9-2.2 3.1-4.1 1.1 2.3 -.8 5.1 -1.1-12.5 1.3 1.6 -.3 3.7 1.4-.4 -.9 .4 8.9-6.9 -9 1.4 .6-2 1.4-6.3 1.1 11.7 -2.4-3.4 -.1-6.1 3.3 .7 -1.7-6 3.2 5.4 -1.1-3.4 2.6-.4 -1.7-5.9 .9-1.1 1.3 2 .8 3.1 -2.1-5.7 1.9 4.8 -.8-5.2 2.3-1.2 -2.2 9.1 -.5-7.7 4.4-.8 -6.2-1.7 7.1 1.3 -2.7 .7 .4-3.5 2.3 3.2 -3.2 .3 3.5 7 .7-7.6 -4 2.7 .4 .5 2.9 1.4 .7 0 -.4 8 .2-12.4 1.4 10.5 .9-5.5 .4-6.3 .2 13.9 .8-5.6 -1.5 8.3 3.2-9 -2.7 3 -.5 4.5 2.5 2.4 .1-13.5 -.7 5.3 1.3 12.8 -2.4 1.7 1.6-5.2 2.1 2.8 1.2-6.8 .4 9.5 -1.2-1.6 .5 1.4 2.6 3.7 -4.5-3.1 1.2 6.6 1.8-6 -.8 3.7 2.5-4.3 0 8.4 -1.1-8.7 3.2 4.9 -1.4 6.8 .4-5.2 1.8-3.7 -1.9 11.2 .2 3.8 3.9-2.4 -4.1-4.5 2.4 1.4 0 3.7 -.4 2.8 .3-2.5 .7-.7 2 4.2 -1.7-1.3 1.1 4.7 .2-5.5 1.8 6.2 -.4-3.7 -.1 4.3 -.1-5 1.4-.6 .4-.6 .3 4.7 -.5-5.5 .2 7.1 .2 .1 .8-4.3 -.2-1.3 1.4 10.3 .9-6.6 -.8-.3 -.1 .3 1.1 5.7 -.1-.5 .5 .7 .5-5 .7 5.9 .1-4.7 -.3 1.4 .5 .7 1.4-3.7 -.8 5.2 .5-.1 .3-2.6 .3 4.1 .7 .3 .7-1.8 -.4 5.1 1.2-5.6 -.1-1.2 .7-1.5 -.2 6.6 .2-3.3 .7 0 .2 5 .4-7 .3 2.8 .5-1 -.3-2.3 .8 1.1 .6 2.9 .1 .4 .3-.1 .6-1.9 .1-2.1 .4 1.4 .5 6.1 .4-7.9 .3-.1 .1 6.2 .2-.2 .8-2.6 0 2.4 .2-5.4 .4 5.9 .3-.9 .5-2.4 .2 .4 .7 3.3 .4 1.3 .3-2.3 .1 6.6 .3-9.7 .4 3 .5-.3 .1 0 .6 1.2 .2-2.7 .4 5 .3-3.8 .7 1.7 .2-1.2 .7 0 -.2 3.8 .5-7.7 -.1 4.8 .7-7.9 .4 8 .1-3 .3 3.6 .5-.6 .3 3.2 .7-1.9 .1 .7 .1 1.2 .7-5.1 .3 5.2 .4-1.9 .3 3.6 .1-8.6 .5 5.3 .5-2.4 .3-.7 .2-.9 .5 8.5 .2-8 .3 1.4 .3-4.2 .3-4.4 .3 9.8 .2 3.5 .7-5.6 .1-3.8 .5 1.8 .5 5.8 .5-3.7 .1 5.8 .2-7.8 .3 6.7 .4-9.8 .7 4.6 -.1-4.8 .6 9.3 .5-.4 .4-1.1 .3-1.9 .3-.8 .1-2.1 .6 2.6 .2-.6 .4 3.8 .1-5.4 .8-3.8 -.1 8.6 .5-1.6 .2 3.8 .4-2.9 .6 1 0-6.8 .5 7.1 .4-1.6 0 4.7 .2-4.5 .8-1.5 .3-4.5 .4 6 .3 3.4 .4-5.8 .3-1.9 .3 4.3 .6-3.8 .2 4.6 .4-2.5 .3 3.3 .3-.8 .1-2.1 .6 2.3 .5-5.8 .2 4.5 .5-2.3 .2 1.1 .5 4.2 .1-7.3 .4 3.1 .5 .1 .2 .7 0-2.8 .8 3.9 .3 1.4 -.1-7 .5 .5 .6 3.4 0 1.9 .6-4.4 .1 1.8 .7-6.1 .2 .3 .3 .5 .2 9.2 .7 2.4 -.2-11.2 .8 2.6 -.2 1.7 .8 .5 .9-3.2 -.2 .7 1.2-6.3 -.2 5.2 .2-3.8 .1 1.2 .2 1.9 .2-4.9 .8 1.5 .1 3.4 0 1.7 .4-1 .9 1.2 .7-5.3 1.2 4.4 -1.3-3.1 1.5 .7 -1.2-1.8 1.1-.6 .6-.1 -.4 1.6 .9 1.1 .2-4.7 .3 4.3 .1-6.4 .5 3.6 .9 1 -.4 0 .7-2.2 .7-1.6 -.7 .7 .9-6.6 -.2 6.5 1.9-3.2 .5-6.6 -.6 5 -.1 .4 -.5 1.9 2.5-4.3 -.9 1.5 -.4-6.2 1.1-.3 .1 3.8 1.4 2.3 -.1-5.4 .6 2.3 1-3.9 -1.6 9.4 .9-9.5 .5 .3 .6 7 1.3-3.2 -1.5-5.4 -.7 2.3 3.7-4.2 -2.7 4.4 3.3-10.2 -2.8-.5 4.4 2.4 -1.5-2.1 -.4-3.7 2.2 3.4 -.9 .8 .3 2.1 .1 3.7 1.4-10 -.1-8.1 2.7 8.8 -1.3-6.9 -.6 1.9 -.8-1.2 -.3-1.3 -.8 4.6 2.9 3.1 -2.4-1.2 3.6-3.4 -2.1 3.7 4.7 .3 -4.5-1.7 1.1-8.3 .2 5.5 2.3-7 .2 8.9 .3-9.5 -1.6 7.4 2.3 .7 -1.2 1.1 3.2 2.3 -2.4-9.5 1.2-5.3 2 8.5 -2.5 4.4 .2-6.5 1.8 4.3 -.2 1.5 .8 1.9 1.4-11.4 .5 8 -.5 2.5 1.9-5.5 -2.4 11.5 3.2-4.7 -2.7-4.8 1.9 5.9 -1.4-5.4 2.8 1.8 -.8-4.2 1.8 2.1 -3.1-5.1 2.1-.2 .7 5.6 -.1-3.6 3.2 1.1 -4.4 6.3 3.1 4.6 -2-6.4 1.5 .1 1.1-4.1 0 7.9 -2.3-13.8 3.3 2.1 4 4 -.8 8.6 -.9-5 .2 1.3 -.1-1.2 -.8 1.4 -.6-4.1 2.2 7.1 -.8-12.3 -.1 7.5 -.8 4.6 2.2-7.5 1.2 13.3 -1.3 1.3 3.2-4.7 -1.6-3.9 .8 8.3 -2-.4 1.2-.9 3.4 2.7 -2.6-.7 2.4 2.9 1-3.4 -1.4-3.5 .9 3.5 -.2-3.7 .6 .3 2.3 9.4 -1.9 .6 2.6-2.2 .9 5.7 -1.9-5.9 -.3 5.5 .5-8.3 .8 11.2 1-8.4 -1.3 9.1 -.2-1.5 3.1 9.4 .1-8.1 -.3 1.2 .2-7 -.3 1.8 .7 2.7 .5 .9 .2-.6 .2 3.1 .4 1.2 0-7.8 .7 12 0 2.7 1.4-2.7 .4-6.6 -.2 4.2 1.5 2.8 -.8-5 .4 2.2 -.2-3 .9 11.2 -.2-11.9 1 8.1 -.2-3.6 1.4 3.3 -.5-1 -.2-.2 1.2 4.9 1.4-6.1 -.5 1.7 .3 1.7 .3-1.9 .3-4.4 -.2 4.8 .5 8.1 .1-4.6 .6 1.4 .4-2 .8 5.6 0-9.5 .2 7.8 .9-.6 -.1 .2 1-4.6 -.5 4.3 0-1.6 .6 .5 .6 1.8 .6-5 .2 2.2 0-1.8 .5 3.9 .3 3.5 .4-.5 .8-6 0 3.7 .4 1.7 .3-5.7 .3 6 .1-2 1.1 .7 -.3-6.5 .4 6.6 .3 2.4 .5-6.9 .5 2.4 .1-1.9 .7 .6 0-3.8 .3 6.1 .4-1.8 1 4.4 -.4 0 .3-3.1 1-2.4 -.2 3.7 .4 .9 .1 1.4 .2 1.6 .5-8.9 .5 2.9 .3 1.3 .5 2.3 .4-6.1 .1 1.9 .3 4.2 .3-4.5 .5-3.7 .4 9.3 .3-1.4 .4 2.2 .5-2.9 .2-3.9 .2-.3 .7 4.3 .1-5.5 .3 6.2 .4 5.3 .4-5.1 .4-3 .1 .7 .5-5.2 .3 8.6 .5-3.8 .2 2.4 .2 4 .4-7.7 .6 1.7 .4 3.4 .1-8.7 .4 7.2 .4-1.6 .2-2.7 .5 1.1 .2 3.4 .2-4.9 .3 4.5 .4-2.2 .5 4.1 .4 1.3 .3-6.5 .5 2.6 .1 4.8 .6-5.2 .3 1.4 .1-2 .4 7 .6-2.5 .5-1.8 0 2.6 .3-6.3 .2-2.2 .5 4.6 .4-2.5 .5 2.9 .3-.1 .2 4.3 .4 1.8 .2-13 .4 5.6 .5 2.7 .2 1.3 .3-6.3 .5-2.5 .1 7.4 .6-4.6 .2 .2 .5 3.3 .1-9.5 .3 11.8 .4-7.3 .4 8.9 .5-9.2 0 5.3 .7-6.4 .4 8.1 .1-6.7 .3 12.8 .4-3 .5-6.5 .3 3.7 .3-4.6 .4 1.5 .3-5.6 .3 4.1 .4 7.1 .2-6.4 .5 2 .4-6.4 .2-1.3 .4 5.2 .3 1.9 .2 .9 .5-1.6 .2 1.7 .2-2.7 .6-.5 .5 2.9 .1-.6 .5-.5 .1-1.8 .6 3.8 .3 .1 .2-2.3 .6-8.2 .2 13.9 .2-6.8 .5 .6 .2-2.5 .3 .2 .6 5.3 .3-3.8 .3 2.1 .4-.8 .2-2.1 .6-2.9 .5 4.4 0-.9 .7 8.1 .1-5.8 .5-.5 .2 1.5 .4-1.1 .2 1.1 .4 .9 .3-.1 .4 2.4 .3-7.9 .4 2.6 .2-8 .6 7 .1-1.5 .2 5.3 .6-9.7 .3 6.6 .1-.9 .8-2.2 -.1 3.1 .7 1.1 .5 6.4 .1-8.5 .4-.3 .1 1.3 .5-2.1 .1 5.7 1.1-4.8 0 .2 .2 4.6 .5-8.2 .1 7.9 .3-4.8 .4 2.2 .4 .2 .5-1.4 .1 1.9 .1-5.5 .9-1.5 .1 3.5 .3-2.5 .5-.1 -.1 .4 .8 4.8 .3 3 .1-7.7 .1 3.6 1.1 .4 0 1 .2-4.6 .3 1.3 .6-.1 .1 2.6 .8-3.2 -.2-1.5 1 5.6 -.9-2.4 1.2 5.6 .6-4.6 0-4.5 .5 7 .2-4.4 .6-3.6 .5 8.6 -.2-6.3 .8-2.6 .1 3.2 .7 1.6 .4-3.2 -.9 1.2 1.5 2.1 .2-1.7 .2-7.2 .2 4.3 .9 1.2 -.7-3.5 1.4 8.2 .4-4.7 -.2-2.7 .8 7.1 .1-13.6 .1 8.4 -.2-3.9 .7 4 1.4-6.6 .3 6.8 0-6.4 .2-.9 .6 10 .5-9.1 -1 9.6 .2-6.1 1.7 2 .3-4.4 -.7 3.6 .8-6.3 1.1 6.3 1.2-8.3 0-1.5 -1.2 1.3 1.3-1.5 -.3 .8 1.3 1.4 .4-2.5 -.5 3.3 .7-.8 -.8 1.9 1.4 .3 -1.3-2.5 1.1 .5 2.4-5.5 -.8-1.1 -1 7.1 -.1-4.6 3.6-2.4 -1.1 4.2 -.1-2.5 1.6 6.6 -1.5-8.7 -.2-.9 1.4 .5 -.9 5.9 1.2-.1 1.7 2.6 -1.2-2.4 1.6-6.5 -.3-11.2 .9 14.3 -1.3-.1 1.8 2.6 -1.7-4.4 2.3 6.8 -.5-4.7 .7 3 .7-4.5 -.7-5.9 -.5 6.3 2.4 2.1 1.3-11.4 -.7 5 -.8 10.3 1.9-4.8 .3-7.6 .9-5.5 -1.1 10.9 .9 1.5 -1.1 3.3 1.5 1.8 1.4-9.1 -.7 1.6 1.4-.4 -1.4 6.5 1.5-6.8 .5 5.5 .7-6 -1.2 2.4 -.3 4 2.1 1.9 -.4-3.1 1.5 3.4 -1.6-7.6 .5 3.6 1.3 4.2 .9-1.3 -.4-9.2 .5 8.7 .1-2.8 1.5 4.4 -1.3 .4 1.3 0 0-1.1 .3 4 -.3 6.9 .3-5.9 1.5-1.7 .5-1 -1.6 2.4 2.2-1.1 -.2-.2 .6-2.5 1.3 6.1 -1-1.3 .8-1.7 -.4 .8 1 8.7 .3-10.2 .5 4.6 .4 .2 .9-4 -.2 7.3 -.2-10.9 .5 6.6 .1 2.9 .6 2.9 -.3-7.1 .6-3.7 .1 7.9 1.2-4 -.6-4.6 1.3 5.1 -.2 3.3 .7-.1 .7 0 -.4-5.4 1.2 5 -.1 1 .3 5.6 .9-4.3 .1 .8 .1 1.6 .3-1.8 .2 0 .6 .4 .3-.1 .2-3.5 .6 6.8 .3-2.9 .4 1.4 .2-6.1 .6 8.1 .4-5.1 .2-1.5 .2 10.3 .3-6.6 .4 2.4 -.1-.7 .8 1.2 0 .7 .7-1.4 .6-2.9 .1 4.4 0 0 .3-2.2 .6 6.8 .4-8.6 .2 1.3 .5 1.6 .3 1.6 .3-2.5 .7 .7 0-.6 .4 1.2 .3 .4 .5-2.5 .2 7.1 .4-5.4 .3 1.2 .2-5.1 .5 8 .3 0 .2 0 .4-2 .4 .9 .5-.6 .4-2.4 .2 6.2 .1-6 .6-3.1 .4 2.7 .3-2.4 .3 5.5 .4 2 .4-7.4 .2-1.3 .2 9.8 .5-6.3 .2-.1 .3 4.9 .5-1.6 .4-3.6 .3 1.6 .4 .9 .4-3 .2 2.1 .4 2.6 .3-2.7 .5 1.4 .4-.2 .3-2.8 .2 3.2 .3-4.6 .5 5.1 .4-1.7 .2-2.2 .4 1.7 .5-3.8 .1 3.6 .3 2.1 .4 1.4 .4-1 .2-2.9 .5 4.1 .5-1.3 .2 1.7 .3-8.8 .3 9.9 .3-5.3 .5 .9 .4 .7 .3-2.8 .4 5.5 .2 .5 .4-3.7 .4-.6 .1-1.5 .5 1.6 .2 1.8 .5 2.7 .3-.7 .3-4 .4 3.3 .3-4.6 .3 3.8 .4-1.5 .3 .4 .4-.9 .4-1.7 .4 .9 .3 2.2 .4-2 .2 2.9 .4-5.1 .5 3.9 .2 3.7 .3-2.8 .4-2.8 .3 3.1 .5 3.2 .3-2.2 .2 .4 .4 3 .3-5.3 .3-.2 .4 2.2 .5-3.2 .2 2.4 .4-2.2 .2 5.1 .4-7.9 .4 5.2 .3-2.8 .3 2.8 .4 1.8 .5-5.4 .1 .9 .4 2.4 .5 1.3 .3-6.4 .4 3.8 .2 .7 .3-3 .3-2.5 .6 7.4 .2 1 .4-4 .2-.2 .4-.5 .4-3.1 .3-.6 .3 4.5 .6 2.9 .3-.9 .1-5 .4 6.4 .2-4.4 .5 6.6 .3-7.3 .3-.6 .5 4.5 .4-6 .2 3.9 .3 .6 .4 1.6 .4 3.4 .3-6.1 .5 2.6 .2 1.3 .5-5.5 .1 1.6 .4 3.7 .4-3.5 .4 1.3 .4 2.8 .2-6.9 .5-.6 .2 9.1 .3-4.7 .3 1.8 .6 .3 .2-1 .3-.6 .3-5 .4 3.8 .5-5.7 .4 2.3 .3 9.5 .1-9.5 .5 5.7 .3-2.3 .2-1.7 .5 2 .2 2.5 .4-6.9 .3 5 .3-2.4 .6-.9 .5 1.3 0 3.5 .3-2.1 .3 2.1 .8-3.2 -.1 2.3 .6-.6 .2-4.9 .3 .5 .6 .5 .4 .9 0 4.6 .5-4.5 .4 .3 .1 2.8 .1-6.3 .7 3.8 .3-4.2 .4 3.7 .3-3 .5-5 .1 4.5 .7 1.6 .3 1.7 .3-7.5 .4-.1 .1 7 .9-.7 .2-5 -.5 6.4 1 2.9 .3-3.8 .1-2.5 .7 3.6 .6-8.5 -.2 5.2 .4 2.9 .6-.4 .8-2.3 -.6-2.8 .3 4.4 .6-3.8 .1 1.9 .8-6.4 .5 5.5 -.2-.1 .9-.9 -.1-1.9 -.4 5.3 1.8 1.2 .1-2 .1-3.6 0-3.8 .3 6.4 .9-1.9 0-2.5 .3 3.9 .2-5.2 .3 10.6 .6-16.7 .2 11.9 .5 3.5 .4-3.1 .8-2.1 .4 4.6 -.7-8 1-.5 .5 3 -.2-1.3 .1 1.4 .6 1 .2-5.4 .5 3.7 -.2 4.3 .7 4.1 .5-2.5 -.2-5.7 1.3 4.7 .1-5 .6-4.7 -.1 8.8 .7-3.3 .4 1.1 -.5-.2 .8-4.8 .1 5.7 .4 2.4 .8-3 .2-2.4 .2-3.5 .2 4.1 .9-.9 .8 1.3 -.2-.8 .7-.7 -.5 1.4 .5-3.9 .9-1.6 -.1 3.2 .4-1.4 1 4.2 -.6 2.6 .6-2.1 .4-3.1 .1 0 1.2 2.7 -.6-.1 .2 .7 .5-5.2 1.3 4.8 -.4 4.8 .9-3.1 .3-.9 -.2-3.3 .2-.7 .9 1.7 -.5-3.4 .6-.7 -.1 4.8 .8-7.6 .9 6.4 0 3.1 .7-6.5 -.2 2.7 .5-1.9 .6 8.4 .1-6 0 2.8 .8-5 0 2.8 1.1-3.6 .2 1.9 -.1-1.7 .9-.3 .3 5.9 -.1 .1 .1-1.9 .3 1 .7 .4 .2 .9 .9-6.5 -.2 7.7 .1-4.5 .5 2.6 .8 4.4 .1-7.4 -.4 9.7 .5-7.4 1.2-1.2 .3 7.4 .7-7.2 -.6 4.6 1.4-5.9 -.1 6.9 .4-5.7 -.2 .8 .6 10.6 .7-11.3 .1 5.2 .3 3.3 .7-3.2 -.2-.2 .6-8.5 .3 7.4 .6 5.9 .2-10.1 .3 3 -.1 6.9 .7-.7 .4-5.2 .3 2.1 -.3-1.3 .7 2.5 .7-.6 .4 2 .3-1.9 .1 .7 .6 2.9 .4-2 .2-5.3 .2 1.2 .5 1.5 .4 6.1 0-7.3 .5 2.7 .7-7.8 .2 5.7 .4 3.4 .4 2.9 .3-.6 .1-5.2 .2 8.3 .5-6.5 .3 3.8 .2-4.4 .6 5.7 .2-2.5 .6-2.2 .2 1.8 .4-5.2 .2 5.2 .3-3.9 .3 1.9 .4 5 .4-4.4 .5-2.2 0-1 .6 4.1 .4-4.3 0 1.1 .5 3.8 .5-1.8 .2 2.2 .4-.1 .4 2.1 .4-4.1 .2-.9 .5 5.1 .2 1.3 .3-2.8 .4 1.2 .5 .4 .3-.7 .2-.3 .3-.1 .5-3.6 .3-.3 .3 3.6 .3 3.7 .5-2.6 .3-2.8 .3-3.6 .4 5.5 .3-4.6 .4 6 .3-6.8 .4 5.9 .3 .1 .4-1.4 .5 5.5 .1-12.8 .3 9.2 .4-2.7 .4-1.5 .4 1.8 .2-1.9 .3 .8 .4-2.9 .5 .5 .1 8 .5-.5 .4-5.5 .3 1.7 .2-5.8 .4 8.6 .5-6.8 .2 3 .5 4.7 .1-6.2 .4 3.8 .1-4.6 .7 3.5 .2-1.2 .3 2.9 .4-.8 .4-1.7 .3-.7 .5 2.1 .3 .1 .4-8 .3 8.4 .1-7.1 .5 6.6 .4-2.3 .2-.9 .5 2.7 .3-3.1 .4 1 .4 .9 .1-4.1 .4 4.6 .4 2.6 .3-3.8 .4 .6 .3 1.2 .4 .2 .3-2.7 .6 1.8 -.1 4.6 .6-6.9 .3 .3 .5-1.6 .2 3.2 .5 2.7 .3 2.7 .4-8.4 .3 0 .2 0 .5 2 .3 2.6 .3-5.3 .6 3.2 -.1-.7 .6-2.1 .1 2 .3 1.6 .6-.2 .3-1.7 .4 .5 .3-5.6 .2 .5 .5 5.1 .1-.9 .7 1.8 .1 .1 .7-4.6 .3 4 0-6.3 .1 2.5 1.2 .8 -.1 2.5 .6-7.2 -.4 7.7 .3-7.6 1.2 3.2 .1 .9 .1 9.6 .4-12.6 .7 4.5 -.2 1.9 .9-3.5 -.5-4.3 .7 3.4 .3 .4 .1-.1 .6 1.3 .2-6.5 .8-3.1 .4 11.1 .3-11.1 .5 7.6 -.5-.3 1-2 .6-1.3 -.3 .4 .7 .8 .3-2.3 .6 1.3 -.1 5.1 0-5.8 .3 4.3 .4-2.4 1.2 2 0-2.3 .2 2.5 1.2-2.5 -.4-4.7 -.9 1.1 1.4 6.2 .3-8.6 -.3 7.6 1-8.7 .6 2.8 1.5 6.5 -.6-5.9 -.3-3.8 -.2-6 2.5 9.1 -.8-2.4 .6 4.9 -.8-7.9 2.2 2.1 .1 1.6 .5 1.3 -.8-11 1.3 10.9 -.7-.9 .7-4.7 -.7 2.8 2.2-4.5 -2.3-.9 1.8 9.5 .1-7 2.5 5.2 -.3-3.3 -.7 3 -.6-3.2 1.8 7.1 -.6-11.2 .5 8.3 .4 3.7 1.7-9.4 -.7-1.1 -.2 8.7 1.6-2.4 .3-1.7 .5 5.3 .2-3.5 1.1 2.6 -1.7-3.4 .7-.5 1.4 2.7 .1-3.2 -.1 7 .7-4.7 .3-2.1 -1-1.1 1.5-3 -.2 8.5 .5-4 1.5 1.5 -.9 .7 1 3.5 -.1-3.3 .1-3.1 .2 .4 -.3 2.5 1.2-2.7 .3 7.5 .5-6.6 -.2-.8 .7 2.6 0 2.5 .9 1.2 .5-6.8 1.1 7.3 -.3 .7 .3-2.7 -.1 1.4 1.7 1.1 -1-10.1 0 12.8 1.5-2.2 .5-2 -.6 2.4 1.5 1.9 -1.4-.6 1.2-2.4 .4 1.1 .6-1.7 -.5 6.9 1-7.2 .6 5.7 -.2-3.5 .9-2.1 -.1 3.4 .8 1 -.5 3.6 .8 1.3 -.7-7.9 1.2-.7 .4 6.6 .7-2.4 -.5 .5 .9 .8 .5 0 .7 3.4 -.2-3.4 .3 2.3 .6 3 .3-4 .6 1.1 -.2 2 .9-5.6 -.3 4.8 .6-2.8 .1-3 .6 1.5 .4 6.6 .2-4.3 .3 2.8 .4 1.9 .5-.1 .2-8.6 .4 6.6 .3 .2 .5 2.3 .1 .1 .4-7.8 .5 3.5 .3-2.7 .4 7.5 .4 2 .2-6.4 .4 3.5 .3-4.9 .2-2.2 .5 11.1 .4-6.1 .2 6.7 .6-.5 -.2-7.1 .6 3.2 .4-3.1 .3 4.5 .3-1.5 .5-.7 .4 .9 .3-.6 .2 5 .4-6.8 .4-.5 .4 4 .2-5.1 .5 4.3 .1-.1 .5 .7 .1 2.7 .5-5.3 .5-.4 .2 1.5 .3 3.9 .5-2.9 .4-1.2 .1-1.3 .4 2.7 .5 0 .3 .7 .3 1 .4-6.9 .2 6.6 .5 2.8 .5-3.3 .1-3.4 .3 5.2 .4-8.8 .4 8.1 .3 1.3 .2-5 .5 .5 .4 2.7 .3-5 .3 5.6 .3-4.9 .5 6.4 .2-10.8 .4 7 .3 .6 .4 2.1 .3-.1 .4-1.5 .3-3.7 .3 5.1 .5-4.2 .3 3.4 .3-5 .3 3 .3 3.2 .4 2 .3-4.6 .5-1.9 .2 2.1 .4 1.4 .3 4.6 .4-6 .3-4.2 .4 2.9 .4-.3 .2-1.6 .4 8.5 .4-4.7 .3 3.5 .3 .4 .4-5.3 .3 2.1 .4 .8 .3-1.2 .4-1.7 .3 2.3 .2-.2 .5 .9 .3-5.8 .3 6.1 .4 1.5 .4-4.4 .3 1.7 .4 5.7 .3-2.8 .4-9 .2 8.5 .4 2 .3-3.3 .4 .3 .4-1.8 .3 .9 .3-1.8 .4 4.1 .4 1.2 .3 .3 .3-1.1 .3-4.1 .4-.6 .4 1 .3 1.4 .3-.7 .4 .9 .3-4.2 .4 4.7 .3-3.7 .4 1.7 .3 1.4 .4 1.5 .3-3" fill="none" stroke="none" marker-start="url(#c)" marker-mid="url(#c)" marker-end="url(#c)"/>
<circle cx="340.5" cy="424.0" r="5.1" fill="none" stroke="#111" stroke-opacity="0.5" stroke-width="1.7"/>
<circle cx="341.2" cy="790.5" r="5.1" fill="none" stroke="#111" stroke-opacity="0.5" stroke-width="1.7"/>
<path d="M165.0 355.5 166.0 355.5 167.0 355.5 168.0 355.5 169.0 355.5 170.0 355.5 171.0 355.5 172.0 355.5 173.0 355.5 174.0 355.5 175.0 355.5 176.0 355.5 177.0 355.5 178.0 355.5 179.0 355.5 180.0 355.5 181.0 355.5 182.0 355.5 183.0 355.5 184.0 355.5 185.0 355.5 186.0 355.5 187.0 355.5 188.0 355.5 189.0 355.5 190.0 355.5 191.0 355.5 192.0 355.5 193.0 355.5 194.0 355.5 195.0 355.5 196.0 355.5 197.0 355.5 198.0 355.5 199.0 355.5 200.0 355.5 201.0 355.5 202.0 355.4 203.0 355.4 204.0 355.4 205.0 355.4 206.0 355.4 207.0 355.4 208.0 355.4 209.0 355.4 210.0 355.4 211.0 355.4 212.0 355.4 213.0 355.4 214.0 355.3 215.0 355.3 216.0 355.3 217.0 355.3 218.0 355.3 219.0 355.3 220.0 355.3 221.0 355.3 222.0 355.2 223.0 355.2 224.0 355.2 225.0 355.2 226.0 355.2 227.0 355.2 228.0 355.1 229.0 355.1 230.0 355.1 231.0 355.1 232.0 355.1 233.0 355.0 234.0 355.0 235.0 355.0 236.0 355.0 237.0 354.9 238.0 354.9 239.0 354.9 240.0 354.8 241.0 354.8 242.0 354.8 243.0 354.8 244.0 354.7 245.0 354.7 246.0 354.6 247.0 354.6 248.0 354.6 249.0 354.5 250.0 354.5 251.0 354.4 252.0 354.4 253.0 354.3 254.0 354.2 255.0 354.2 256.0 354.1 257.0 354.0 258.0 353.9 259.0 353.8 260.0 353.8 261.0 353.7 262.0 353.6 263.0 353.5 264.0 353.4 265.0 353.3 266.0 353.2 267.0 353.1 268.0 353.0 269.0 352.9 270.0 352.8 271.0 352.7 272.0 352.5 273.0 352.4 274.0 352.3 275.0 352.1 276.0 352.0 277.0 351.8 278.0 351.7 279.0 351.5 280.0 351.3 281.0 351.2 282.0 351.0 283.0 350.8 284.0 350.6 285.0 350.4 286.0 350.1 287.0 349.9 288.0 349.6 289.0 349.4 290.0 349.1 291.0 348.8 292.0 348.5 293.0 348.2 294.0 347.8 295.0 347.5 296.0 347.1 297.0 346.7 298.0 346.2 299.0 345.8 300.0 345.3 301.0 344.7 302.0 344.1 303.0 343.5 304.0 342.9 305.0 342.2 306.0 341.4 307.0 340.5 308.0 339.6 309.0 338.6 310.0 337.5 311.0 336.3 312.0 335.0 313.0 333.4 314.0 331.7 315.0 329.8 316.0 327.6 317.0 325.0 318.0 322.1 319.0 318.7 320.0 314.8 321.0 310.3 322.0 305.1 323.0 299.2 324.0 292.3 325.0 284.5 326.0 275.7 327.0 265.8 328.0 254.7 329.0 242.5 330.0 229.1 331.0 214.7 332.0 199.2 333.0 183.1 334.0 166.5 335.0 149.9 336.0 133.9 337.0 119.3 338.0 106.8 339.0 97.4 340.0 91.8 341.0 90.5 342.0 93.6 343.0 100.7 344.0 111.4 345.0 124.8 346.0 140.1 347.0 156.3 348.0 173.0 349.0 189.4 350.0 205.3 351.0 220.3 352.0 234.3 353.0 247.2 354.0 258.9 355.0 269.5 356.0 279.0 357.0 287.3 358.0 294.7 359.0 301.2 360.0 306.8 361.0 311.7 362.0 315.9 363.0 319.5 364.0 322.7 365.0 325.4 366.0 327.8 367.0 329.9 368.0 331.7 369.0 333.3 370.0 334.7 371.0 336.0 372.0 337.2 373.0 338.2 374.0 339.1 375.0 340.0 376.0 340.8 377.0 341.5 378.0 342.1 379.0 342.8 380.0 343.3 381.0 343.9 382.0 344.4 383.0 344.8 384.0 345.2 385.0 345.6 386.0 346.0 387.0 346.4 388.0 346.7 389.0 347.0 390.0 347.3 391.0 347.6 392.0 347.8 393.0 348.1 394.0 348.3 395.0 348.5 396.0 348.7 397.0 348.9 398.0 349.1 399.0 349.3 400.0 349.5 401.0 349.6 402.0 349.8 403.0 349.9 404.0 350.0 405.0 350.2 406.0 350.3 407.0 350.4 408.0 350.5 409.0 350.6 410.0 350.7 411.0 350.8 412.0 350.9 413.0 351.0 414.0 351.1 415.0 351.1 416.0 351.2 417.0 351.3 418.0 351.4 419.0 351.4 420.0 351.5 421.0 351.5 422.0 351.6 423.0 351.7 424.0 351.7 425.0 351.8 426.0 351.8 427.0 351.8 428.0 351.9 429.0 351.9 430.0 352.0 431.0 352.0 432.0 352.0 433.0 352.1 434.0 352.1 435.0 352.1 436.0 352.2 437.0 352.2 438.0 352.2 439.0 352.2 440.0 352.2 441.0 352.3 442.0 352.3 443.0 352.3 444.0 352.3 445.0 352.3 446.0 352.4 447.0 352.4 448.0 352.4 449.0 352.4 450.0 352.4 451.0 352.5 452.0 352.5 453.0 352.6 454.0 352.6 455.0 352.7 456.0 352.7 457.0 352.8 458.0 352.8 459.0 352.9 460.0 352.9 461.0 353.0 462.0 353.0 463.0 353.1 464.0 353.1 465.0 353.2 466.0 353.2 467.0 353.2 468.0 353.3 469.0 353.3 470.0 353.4 471.0 353.4 472.0 353.4 473.0 353.5 474.0 353.5 475.0 353.6 476.0 353.6 477.0 353.6 478.0 353.7 479.0 353.7 480.0 353.7 481.0 353.8 482.0 353.8 483.0 353.8 484.0 353.8 485.0 353.9 486.0 353.9 487.0 353.9 488.0 354.0 489.0 354.0 490.0 354.0 491.0 354.0 492.0 354.0 493.0 354.1 494.0 354.1 495.0 354.1 496.0 354.1 497.0 354.1 498.0 354.1 499.0 354.1 500.0 354.1 501.0 354.1 502.0 354.1 503.0 354.1 504.0 354.1 505.0 354.1 506.0 354.0 507.0 354.0 508.0 353.9 509.0 353.9 510.0 353.8 511.0 353.7 512.0 353.6 513.0 353.5 514.0 353.4 515.0 353.2 516.0 353.1 517.0 352.9 518.0 352.6 519.0 352.4 520.0 352.1 521.0 351.7 522.0 351.4 523.0 350.9 524.0 350.5 525.0 350.0 526.0 349.4 527.0 348.8 528.0 348.1 529.0 347.4 530.0 346.6 531.0 345.7 532.0 344.8 533.0 343.8 534.0 342.7 535.0 341.6 536.0 340.4 537.0 339.1 538.0 337.9 539.0 336.5 540.0 335.1 541.0 333.7 542.0 332.3 543.0 330.8 544.0 329.3 545.0 327.9 546.0 326.4 547.0 325.0 548.0 323.6 549.0 322.2 550.0 320.9 551.0 319.8 552.0 318.7 553.0 317.8 554.0 317.0 555.0 316.4 556.0 316.0 557.0 315.8 558.0 315.9 559.0 316.1 560.0 316.5 561.0 317.2 562.0 317.9 563.0 318.9 564.0 320.0 565.0 321.2 566.0 322.5 567.0 323.9 568.0 325.4 569.0 326.9 570.0 328.5 571.0 330.1 572.0 331.7 573.0 333.3 574.0 334.9 575.0 336.5 576.0 338.1 577.0 339.6 578.0 341.0 579.0 342.4 580.0 343.7 581.0 345.0 582.0 346.1 583.0 347.2 584.0 348.3 585.0 349.2 586.0 350.1 587.0 350.9 588.0 351.6 589.0 352.3 590.0 352.9 591.0 353.4 592.0 353.9 593.0 354.4 594.0 354.8 595.0 355.1 596.0 355.5 597.0 355.8 598.0 356.0 599.0 356.3 600.0 356.5 601.0 356.7 602.0 356.8 603.0 357.0 604.0 357.1 605.0 357.3 606.0 357.4 607.0 357.5 608.0 357.6 609.0 357.7 610.0 357.8 611.0 357.8 612.0 357.9 613.0 358.0 614.0 358.1 615.0 358.1 616.0 358.2 617.0 358.3 618.0 358.3 619.0 358.4 620.0 358.4 621.0 358.5 622.0 358.5 623.0 358.6 624.0 358.6 625.0 358.7 626.0 358.7 627.0 358.8 628.0 358.8 629.0 358.8 630.0 358.9 631.0 358.9 632.0 359.0 633.0 359.0 634.0 359.0 635.0 359.1 636.0 359.1 637.0 359.2 638.0 359.2 639.0 359.2 640.0 359.3 641.0 359.3 642.0 359.3 643.0 359.3 644.0 359.3 645.0 359.3 646.0 359.3 647.0 359.3 648.0 359.3 649.0 359.3 650.0 359.3 651.0 359.3 652.0 359.3 653.0 359.3 654.0 359.3 655.0 359.3 656.0 359.3 657.0 359.3 658.0 359.2 659.0 359.2 660.0 359.2 661.0 359.2 662.0 359.2 663.0 359.2 664.0 359.2 665.0 359.1 666.0 359.1 667.0 359.1 668.0 359.1 669.0 359.1 670.0 359.0 671.0 359.0 672.0 359.0 673.0 358.9 674.0 358.9 675.0 358.9 676.0 358.8 677.0 358.8 678.0 358.7 679.0 358.7 680.0 358.6 681.0 358.6 682.0 358.5 683.0 358.5 684.0 358.4 685.0 358.3 686.0 358.2 687.0 358.1 688.0 358.1 689.0 357.9 690.0 357.8 691.0 357.7 692.0 357.6 693.0 357.4 694.0 357.2 695.0 357.0 696.0 356.8 697.0 356.6 698.0 356.3 699.0 355.9 700.0 355.6 701.0 355.1 702.0 354.6 703.0 354.1 704.0 353.4 705.0 352.7 706.0 351.8 707.0 350.9 708.0 349.8 709.0 348.5 710.0 347.2 711.0 345.6 712.0 344.0 713.0 342.1 714.0 340.1 715.0 337.9 716.0 335.6 717.0 333.1 718.0 330.5 719.0 327.8 720.0 325.0 721.0 322.2 722.0 319.4 723.0 316.6 724.0 314.0 725.0 311.5 726.0 309.3 727.0 307.5 728.0 306.0 729.0 305.1 730.0 304.6 731.0 304.7 732.0 305.4 733.0 306.5 734.0 308.1 735.0 310.1 736.0 312.4 737.0 315.0 738.0 317.7 739.0 320.5 740.0 323.3 741.0 326.1 742.0 328.9 743.0 331.5 744.0 334.1 745.0 336.5 746.0 338.8 747.0 340.9 748.0 342.8 749.0 344.6 750.0 346.2 751.0 347.7 752.0 349.0 753.0 350.1 754.0 351.2 755.0 352.1 756.0 352.9 757.0 353.6 758.0 354.2 759.0 354.7 760.0 355.2 761.0 355.6 762.0 355.9 763.0 356.2 764.0 356.4 765.0 356.7 766.0 356.9 767.0 357.0 768.0 357.2 769.0 357.3 770.0 357.4 771.0 357.5 772.0 357.6 773.0 357.7 774.0 357.7 775.0 357.8 776.0 357.8 777.0 357.9 778.0 357.9 779.0 357.9 780.0 357.9 781.0 357.9 782.0 357.9 783.0 357.9 784.0 357.9 785.0 357.9 786.0 357.9 787.0 357.8 788.0 357.8 789.0 357.7 790.0 357.7 791.0 357.6 792.0 357.5 793.0 357.4 794.0 357.3 795.0 357.2 796.0 357.1 797.0 356.9 798.0 356.8 799.0 356.6 800.0 356.4 801.0 356.2 802.0 356.0 803.0 355.7 804.0 355.4 805.0 355.1 806.0 354.8 807.0 354.4 808.0 353.9 809.0 353.5 810.0 352.9 811.0 352.4 812.0 351.7 813.0 351.0 814.0 350.3 815.0 349.4 816.0 348.5 817.0 347.5 818.0 346.5 819.0 345.3 820.0 344.1 821.0 342.8 822.0 341.4 823.0 339.9 824.0 338.4 825.0 336.8 826.0 335.2 827.0 333.5 828.0 331.8 829.0 330.2 830.0 328.6 831.0 327.1 832.0 325.7 833.0 324.4 834.0 323.3 835.0 322.3 836.0 321.5 837.0 320.9 838.0 320.3 839.0 319.9 840.0 319.6 841.0 319.3 842.0 319.1 843.0 318.8 844.0 318.6 845.0 318.4 846.0 318.3 847.0 318.2 848.0 318.2 849.0 318.3 850.0 318.6 851.0 319.1 852.0 319.7 853.0 320.6 854.0 321.7 855.0 323.0 856.0 324.5 857.0 326.1 858.0 327.8 859.0 329.6 860.0 331.4 861.0 333.2 862.0 334.9 863.0 336.7 864.0 338.3 865.0 339.9 866.0 341.5 867.0 342.9 868.0 344.2 869.0 345.5 870.0 346.7 871.0 347.7 872.0 348.7 873.0 349.7 874.0 350.5 875.0 351.3 876.0 352.0 877.0 352.6 878.0 353.2 879.0 353.7 880.0 354.2 881.0 354.6 882.0 355.0 883.0 355.4 884.0 355.7 885.0 356.0 886.0 356.2 887.0 356.5 888.0 356.7 889.0 356.9 890.0 357.1 891.0 357.2 892.0 357.4 893.0 357.5 894.0 357.7 895.0 357.8 896.0 357.9 897.0 358.0 898.0 358.1 899.0 358.2 900.0 358.3 901.0 358.4 902.0 358.4 903.0 358.5 904.0 358.6 905.0 358.6 906.0 358.7 907.0 358.7 908.0 358.8 909.0 358.8 910.0 358.9 911.0 358.9 912.0 358.9 913.0 359.0 914.0 359.0 915.0 359.0 916.0 359.0 917.0 359.0 918.0 359.1 919.0 359.1 920.0 359.1 921.0 359.1 922.0 359.1 923.0 359.1 924.0 359.1 925.0 359.1 926.0 359.0 927.0 359.0 928.0 359.0 929.0 359.0 930.0 359.0 931.0 358.9 932.0 358.9 933.0 358.9 934.0 358.8 935.0 358.8 936.0 358.7 937.0 358.7 938.0 358.6 939.0 358.5 940.0 358.4 941.0 358.3 942.0 358.2 943.0 358.1 944.0 358.0 945.0 357.8 946.0 357.7 947.0 357.5 948.0 357.3 949.0 357.0 950.0 356.7 951.0 356.4 952.0 356.1 953.0 355.7 954.0 355.3 955.0 354.8 956.0 354.3 957.0 353.7 958.0 353.1 959.0 352.4 960.0 351.7 961.0 350.9 962.0 350.0 963.0 349.1 964.0 348.1 965.0 347.1 966.0 346.0 967.0 344.9 968.0 343.8 969.0 342.7 970.0 341.7 971.0 340.7 972.0 339.8 973.0 339.0 974.0 338.3 975.0 337.6 976.0 337.1 977.0 336.7 978.0 336.5 979.0 336.3 980.0 336.3 981.0 336.5 982.0 336.8 983.0 337.3 984.0 337.9 985.0 338.7 986.0 339.6 987.0 340.7 988.0 341.8 989.0 343.0 990.0 344.1 991.0 345.3 992.0 346.5 993.0 347.6 994.0 348.7 995.0 349.7 996.0 350.6 997.0 351.5 998.0 352.3 999.0 353.1 1000.0 353.8 1001.0 354.4 1002.0 355.0 1003.0 355.5 1004.0 355.9 1005.0 356.4 1006.0 356.7 1007.0 357.1 1008.0 357.4 1009.0 357.6 1010.0 357.9 1011.0 358.1 1012.0 358.3 1013.0 358.5 1014.0 358.6 1015.0 358.8 1016.0 358.9 1017.0 359.0 1018.0 359.1 1019.0 359.2 1020.0 359.3 1021.0 359.4 1022.0 359.5 1023.0 359.6 1024.0 359.6 1025.0 359.7 1026.0 359.7 1027.0 359.8 1028.0 359.9 1029.0 359.9 1030.0 359.9 1031.0 360.0 1032.0 360.0 1033.0 360.0 1034.0 360.1 1035.0 360.1 1036.0 360.1 1037.0 360.1 1038.0 360.2 1039.0 360.2 1040.0 360.2 1041.0 360.2 1042.0 360.2 1043.0 360.2 1044.0 360.2 1045.0 360.2 1046.0 360.2 1047.0 360.2 1048.0 360.2 1049.0 360.2 1050.0 360.2 1051.0 360.2 1052.0 360.2 1053.0 360.2 1054.0 360.1 1055.0 360.1 1056.0 360.1 1057.0 360.0 1058.0 360.0 1059.0 359.9 1060.0 359.9 1061.0 359.8 1062.0 359.7 1063.0 359.6 1064.0 359.5 1065.0 359.4 1066.0 359.3 1067.0 359.2 1068.0 359.0 1069.0 358.9 1070.0 358.7 1071.0 358.6 1072.0 358.4 1073.0 358.2 1074.0 358.0 1075.0 357.7 1076.0 357.5 1077.0 357.3 1078.0 357.0 1079.0 356.8 1080.0 356.6 1081.0 356.4 1082.0 356.2 1083.0 356.0 1084.0 355.8 1085.0 355.7 1086.0 355.6 1087.0 355.5 1088.0 355.4 1089.0 355.3 1090.0 355.3 1091.0 355.2 1092.0 355.1 1093.0 355.0 1094.0 354.9 1095.0 354.7 1096.0 354.6 1097.0 354.4 1098.0 354.1 1099.0 353.9 1100.0 353.7 1101.0 353.4 1102.0 353.1 1103.0 352.8 1104.0 352.6 1105.0 352.3 1106.0 352.1 1107.0 352.0 1108.0 351.9 1109.0 351.9 1110.0 351.9 1111.0 352.1 1112.0 352.3 1113.0 352.5 1114.0 352.8 1115.0 353.2 1116.0 353.6 1117.0 354.0 1118.0 354.5 1119.0 354.9 1120.0 355.3 1121.0 355.8 1122.0 356.2 1123.0 356.6 1124.0 356.9 1125.0 357.3 1126.0 357.6 1127.0 357.9 1128.0 358.2 1129.0 358.5 1130.0 358.7 1131.0 358.9 1132.0 359.1 1133.0 359.3 1134.0 359.5 1135.0 359.6 1136.0 359.7 1137.0 359.9 1138.0 360.0 1139.0 360.1 1140.0 360.1 1141.0 360.2 1142.0 360.3 1143.0 360.3 1144.0 360.4 1145.0 360.4 1146.0 360.5 1147.0 360.5 1148.0 360.5 1149.0 360.6 1150.0 360.6 1151.0 360.6 1152.0 360.6 1153.0 360.6 1154.0 360.6 1155.0 360.6 1156.0 360.6 1157.0 360.6 1158.0 360.6 1159.0 360.6 1160.0 360.6 1161.0 360.6 1162.0 360.6 1163.0 360.6 1164.0 360.6 1165.0 360.6 1166.0 360.6 1167.0 360.6 1168.0 360.6 1169.0 360.5 1170.0 360.5 1171.0 360.5 1172.0 360.4 1173.0 360.3 1174.0 360.2 1175.0 360.1 1176.0 359.9 1177.0 359.8 1178.0 359.6 1179.0 359.4 1180.0 359.1 1181.0 358.8 1182.0 358.5 1183.0 358.1 1184.0 357.7 1185.0 357.2 1186.0 356.7 1187.0 356.1 1188.0 355.5 1189.0 354.8 1190.0 354.2 1191.0 353.5 1192.0 352.8 1193.0 352.1 1194.0 351.4 1195.0 350.9 1196.0 350.4 1197.0 350.0 1198.0 349.7 1199.0 349.6 1200.0 349.5 1201.0 349.4 1202.0 349.5 1203.0 349.5 1204.0 349.5 1205.0 349.5 1206.0 349.4 1207.0 349.3 1208.0 349.3 1209.0 349.2 1210.0 349.1 1211.0 349.2 1212.0 349.3 1213.0 349.5 1214.0 349.9 1215.0 350.4 1216.0 351.0 1217.0 351.8 1218.0 352.6 1219.0 353.4 1220.0 354.2 1221.0 355.1 1222.0 355.9 1223.0 356.7 1224.0 357.4 1225.0 358.1 1226.0 358.7 1227.0 359.3 1228.0 359.8 1229.0 360.3 1230.0 360.7 1231.0 361.1 1232.0 361.5 1233.0 361.8 1234.0 362.1 1235.0 362.3 1236.0 362.6 1237.0 362.8 1238.0 363.0 1239.0 363.1 1240.0 363.3 1241.0 363.4 1242.0 363.6 1243.0 363.7 1244.0 363.8 1245.0 363.9 1246.0 364.0 1247.0 364.1 1248.0 364.2 1249.0 364.3 1250.0 364.4 1251.0 364.5 1252.0 364.5 1253.0 364.6 1254.0 364.7 1255.0 364.8 1256.0 364.8 1257.0 364.9 1258.0 365.0 1259.0 365.0 1260.0 365.1 1261.0 365.1 1262.0 365.2 1263.0 365.3 1264.0 365.3 1265.0 365.4 1266.0 365.4 1267.0 365.5 1268.0 365.5 1269.0 365.6 1270.0 365.6 1271.0 365.7 1272.0 365.7 1273.0 365.8 1274.0 365.8 1275.0 365.9 1276.0 365.9 1277.0 366.0 1278.0 366.0 1279.0 366.1" fill="none" stroke="#f41c1c" stroke-width="3.1" stroke-linejoin="round"/>
<path d="M165.0 713.5 166.0 713.5 167.0 713.5 168.0 713.5 169.0 713.5 170.0 713.4 171.0 713.4 172.0 713.4 173.0 713.4 174.0 713.4 175.0 713.4 176.0 713.4 177.0 713.4 178.0 713.4 179.0 713.3 180.0 713.3 181.0 713.3 182.0 713.3 183.0 713.3 184.0 713.3 185.0 713.3 186.0 713.2 187.0 713.2 188.0 713.2 189.0 713.2 190.0 713.2 191.0 713.2 192.0 713.2 193.0 713.1 194.0 713.1 195.0 713.1 196.0 713.1 197.0 713.1 198.0 713.0 199.0 713.0 200.0 713.0 201.0 713.0 202.0 713.0 203.0 713.0 204.0 712.9 205.0 712.9 206.0 712.9 207.0 712.9 208.0 712.8 209.0 712.8 210.0 712.8 211.0 712.8 212.0 712.7 213.0 712.7 214.0 712.7 215.0 712.7 216.0 712.6 217.0 712.6 218.0 712.6 219.0 712.6 220.0 712.5 221.0 712.5 222.0 712.5 223.0 712.4 224.0 712.4 225.0 712.4 226.0 712.3 227.0 712.3 228.0 712.3 229.0 712.2 230.0 712.2 231.0 712.2 232.0 712.1 233.0 712.1 234.0 712.0 235.0 712.0 236.0 711.9 237.0 711.9 238.0 711.8 239.0 711.8 240.0 711.7 241.0 711.7 242.0 711.6 243.0 711.6 244.0 711.5 245.0 711.5 246.0 711.4 247.0 711.3 248.0 711.3 249.0 711.2 250.0 711.2 251.0 711.1 252.0 711.0 253.0 710.8 254.0 710.7 255.0 710.6 256.0 710.5 257.0 710.4 258.0 710.3 259.0 710.2 260.0 710.1 261.0 709.9 262.0 709.8 263.0 709.7 264.0 709.5 265.0 709.4 266.0 709.2 267.0 709.1 268.0 708.9 269.0 708.8 270.0 708.6 271.0 708.4 272.0 708.2 273.0 708.1 274.0 707.9 275.0 707.7 276.0 707.5 277.0 707.3 278.0 707.0 279.0 706.8 280.0 706.6 281.0 706.3 282.0 706.0 283.0 705.8 284.0 705.5 285.0 705.2 286.0 704.9 287.0 704.5 288.0 704.2 289.0 703.8 290.0 703.4 291.0 703.0 292.0 702.6 293.0 702.2 294.0 701.7 295.0 701.2 296.0 700.7 297.0 700.1 298.0 699.5 299.0 698.9 300.0 698.2 301.0 697.5 302.0 696.7 303.0 695.9 304.0 695.0 305.0 694.0 306.0 692.9 307.0 691.7 308.0 690.4 309.0 689.0 310.0 687.4 311.0 685.7 312.0 683.7 313.0 681.5 314.0 679.0 315.0 676.3 316.0 673.1 317.0 669.6 318.0 665.6 319.0 661.2 320.0 656.1 321.0 650.5 322.0 644.3 323.0 637.3 324.0 629.6 325.0 621.1 326.0 611.9 327.0 601.8 328.0 591.0 329.0 579.4 330.0 567.1 331.0 554.2 332.0 540.9 333.0 527.3 334.0 513.8 335.0 500.8 336.0 488.6 337.0 477.7 338.0 468.7 339.0 462.0 340.0 458.1 341.0 457.1 342.0 459.2 343.0 464.2 344.0 471.9 345.0 481.6 346.0 493.0 347.0 505.6 348.0 518.8 349.0 532.3 350.0 545.7 351.0 558.8 352.0 571.4 353.0 583.4 354.0 594.6 355.0 605.1 356.0 614.8 357.0 623.7 358.0 631.8 359.0 639.1 360.0 645.7 361.0 651.7 362.0 657.0 363.0 661.7 364.0 665.9 365.0 669.6 366.0 673.0 367.0 675.9 368.0 678.5 369.0 680.8 370.0 682.8 371.0 684.6 372.0 686.2 373.0 687.7 374.0 689.0 375.0 690.2 376.0 691.3 377.0 692.2 378.0 693.1 379.0 694.0 380.0 694.7 381.0 695.4 382.0 696.1 383.0 696.7 384.0 697.2 385.0 697.7 386.0 698.2 387.0 698.7 388.0 699.1 389.0 699.5 390.0 699.9 391.0 700.2 392.0 700.6 393.0 700.9 394.0 701.2 395.0 701.5 396.0 701.7 397.0 702.0 398.0 702.2 399.0 702.4 400.0 702.6 401.0 702.8 402.0 703.0 403.0 703.2 404.0 703.4 405.0 703.5 406.0 703.7 407.0 703.8 408.0 704.0 409.0 704.1 410.0 704.2 411.0 704.3 412.0 704.4 413.0 704.5 414.0 704.6 415.0 704.7 416.0 704.8 417.0 704.9 418.0 705.0 419.0 705.0 420.0 705.1 421.0 705.2 422.0 705.2 423.0 705.3 424.0 705.4 425.0 705.4 426.0 705.5 427.0 705.5 428.0 705.5 429.0 705.6 430.0 705.6 431.0 705.7 432.0 705.7 433.0 705.7 434.0 705.8 435.0 705.8 436.0 705.8 437.0 705.8 438.0 705.8 439.0 705.9 440.0 705.9 441.0 705.9 442.0 705.9 443.0 705.9 444.0 705.9 445.0 705.9 446.0 705.9 447.0 705.9 448.0 706.0 449.0 706.0 450.0 706.0 451.0 706.0 452.0 706.1 453.0 706.1 454.0 706.2 455.0 706.3 456.0 706.3 457.0 706.4 458.0 706.4 459.0 706.5 460.0 706.5 461.0 706.6 462.0 706.6 463.0 706.7 464.0 706.7 465.0 706.8 466.0 706.8 467.0 706.9 468.0 706.9 469.0 706.9 470.0 707.0 471.0 707.0 472.0 707.0 473.0 707.1 474.0 707.1 475.0 707.1 476.0 707.2 477.0 707.2 478.0 707.2 479.0 707.3 480.0 707.3 481.0 707.3 482.0 707.3 483.0 707.4 484.0 707.4 485.0 707.4 486.0 707.4 487.0 707.4 488.0 707.4 489.0 707.4 490.0 707.4 491.0 707.4 492.0 707.4 493.0 707.4 494.0 707.4 495.0 707.4 496.0 707.4 497.0 707.3 498.0 707.3 499.0 707.3 500.0 707.2 501.0 707.2 502.0 707.1 503.0 707.0 504.0 706.9 505.0 706.8 506.0 706.7 507.0 706.6 508.0 706.5 509.0 706.3 510.0 706.1 511.0 705.9 512.0 705.7 513.0 705.4 514.0 705.2 515.0 704.9 516.0 704.5 517.0 704.2 518.0 703.8 519.0 703.3 520.0 702.8 521.0 702.3 522.0 701.7 523.0 701.1 524.0 700.5 525.0 699.7 526.0 699.0 527.0 698.1 528.0 697.3 529.0 696.3 530.0 695.4 531.0 694.3 532.0 693.3 533.0 692.1 534.0 691.0 535.0 689.8 536.0 688.5 537.0 687.2 538.0 685.9 539.0 684.6 540.0 683.3 541.0 682.0 542.0 680.6 543.0 679.3 544.0 678.0 545.0 676.7 546.0 675.5 547.0 674.3 548.0 673.1 549.0 672.1 550.0 671.1 551.0 670.2 552.0 669.5 553.0 668.8 554.0 668.4 555.0 668.1 556.0 667.9 557.0 667.9 558.0 668.1 559.0 668.4 560.0 668.9 561.0 669.5 562.0 670.3 563.0 671.2 564.0 672.2 565.0 673.3 566.0 674.5 567.0 675.8 568.0 677.1 569.0 678.5 570.0 679.9 571.0 681.3 572.0 682.8 573.0 684.3 574.0 685.8 575.0 687.2 576.0 688.7 577.0 690.1 578.0 691.5 579.0 692.8 580.0 694.1 581.0 695.4 582.0 696.6 583.0 697.7 584.0 698.8 585.0 699.8 586.0 700.8 587.0 701.7 588.0 702.6 589.0 703.4 590.0 704.1 591.0 704.8 592.0 705.4 593.0 706.0 594.0 706.6 595.0 707.1 596.0 707.5 597.0 708.0 598.0 708.4 599.0 708.7 600.0 709.1 601.0 709.4 602.0 709.7 603.0 709.9 604.0 710.2 605.0 710.4 606.0 710.6 607.0 710.8 608.0 710.9 609.0 711.1 610.0 711.3 611.0 711.4 612.0 711.5 613.0 711.7 614.0 711.8 615.0 711.9 616.0 712.0 617.0 712.1 618.0 712.2 619.0 712.3 620.0 712.4 621.0 712.4 622.0 712.5 623.0 712.6 624.0 712.7 625.0 712.7 626.0 712.8 627.0 712.9 628.0 712.9 629.0 713.0 630.0 713.0 631.0 713.1 632.0 713.2 633.0 713.2 634.0 713.3 635.0 713.3 636.0 713.4 637.0 713.4 638.0 713.5 639.0 713.5 640.0 713.5 641.0 713.5 642.0 713.5 643.0 713.5 644.0 713.5 645.0 713.4 646.0 713.4 647.0 713.4 648.0 713.4 649.0 713.3 650.0 713.3 651.0 713.3 652.0 713.3 653.0 713.2 654.0 713.2 655.0 713.2 656.0 713.1 657.0 713.1 658.0 713.0 659.0 713.0 660.0 712.9 661.0 712.9 662.0 712.8 663.0 712.8 664.0 712.7 665.0 712.7 666.0 712.6 667.0 712.6 668.0 712.5 669.0 712.4 670.0 712.3 671.0 712.3 672.0 712.2 673.0 712.1 674.0 712.0 675.0 711.9 676.0 711.8 677.0 711.7 678.0 711.6 679.0 711.5 680.0 711.4 681.0 711.3 682.0 711.2 683.0 711.0 684.0 710.9 685.0 710.7 686.0 710.6 687.0 710.4 688.0 710.2 689.0 710.0 690.0 709.8 691.0 709.5 692.0 709.3 693.0 709.0 694.0 708.7 695.0 708.3 696.0 707.9 697.0 707.5 698.0 707.1 699.0 706.6 700.0 706.0 701.0 705.4 702.0 704.7 703.0 703.9 704.0 703.1 705.0 702.1 706.0 701.1 707.0 700.0 708.0 698.8 709.0 697.4 710.0 696.0 711.0 694.4 712.0 692.7 713.0 690.9 714.0 689.0 715.0 686.9 716.0 684.8 717.0 682.6 718.0 680.3 719.0 678.1 720.0 675.8 721.0 673.5 722.0 671.4 723.0 669.4 724.0 667.6 725.0 666.2 726.0 665.1 727.0 664.4 728.0 664.1 729.0 664.3 730.0 665.0 731.0 666.0 732.0 667.4 733.0 669.1 734.0 671.0 735.0 673.1 736.0 675.3 737.0 677.6 738.0 679.8 739.0 682.0 740.0 684.2 741.0 686.2 742.0 688.2 743.0 690.1 744.0 691.8 745.0 693.4 746.0 695.0 747.0 696.3 748.0 697.6 749.0 698.8 750.0 699.9 751.0 700.8 752.0 701.7 753.0 702.5 754.0 703.2 755.0 703.8 756.0 704.4 757.0 704.9 758.0 705.3 759.0 705.7 760.0 706.1 761.0 706.4 762.0 706.7 763.0 706.9 764.0 707.1 765.0 707.3 766.0 707.5 767.0 707.6 768.0 707.8 769.0 707.9 770.0 708.0 771.0 708.1 772.0 708.1 773.0 708.2 774.0 708.2 775.0 708.3 776.0 708.3 777.0 708.3 778.0 708.4 779.0 708.4 780.0 708.4 781.0 708.4 782.0 708.4 783.0 708.3 784.0 708.3 785.0 708.3 786.0 708.2 787.0 708.2 788.0 708.1 789.0 708.0 790.0 708.0 791.0 707.9 792.0 707.9 793.0 707.8 794.0 707.7 795.0 707.6 796.0 707.5 797.0 707.4 798.0 707.3 799.0 707.1 800.0 706.9 801.0 706.7 802.0 706.5 803.0 706.3 804.0 706.0 805.0 705.7 806.0 705.4 807.0 705.0 808.0 704.6 809.0 704.2 810.0 703.7 811.0 703.2 812.0 702.6 813.0 701.9 814.0 701.2 815.0 700.4 816.0 699.6 817.0 698.7 818.0 697.7 819.0 696.6 820.0 695.5 821.0 694.3 822.0 693.0 823.0 691.7 824.0 690.3 825.0 688.8 826.0 687.3 827.0 685.7 828.0 684.1 829.0 682.5 830.0 681.0 831.0 679.4 832.0 677.9 833.0 676.6 834.0 675.3 835.0 674.2 836.0 673.2 837.0 672.3 838.0 671.7 839.0 671.1 840.0 670.7 841.0 670.3 842.0 670.1 843.0 669.9 844.0 669.7 845.0 669.6 846.0 669.6 847.0 669.6 848.0 669.6 849.0 669.7 850.0 670.0 851.0 670.3 852.0 670.8 853.0 671.5 854.0 672.3 855.0 673.4 856.0 674.5 857.0 675.9 858.0 677.3 859.0 678.9 860.0 680.5 861.0 682.2 862.0 683.9 863.0 685.6 864.0 687.3 865.0 688.9 866.0 690.5 867.0 692.0 868.0 693.5 869.0 694.9 870.0 696.2 871.0 697.4 872.0 698.6 873.0 699.6 874.0 700.6 875.0 701.6 876.0 702.4 877.0 703.2 878.0 704.0 879.0 704.6 880.0 705.2 881.0 705.8 882.0 706.3 883.0 706.8 884.0 707.2 885.0 707.6 886.0 708.0 887.0 708.3 888.0 708.7 889.0 708.9 890.0 709.2 891.0 709.4 892.0 709.7 893.0 709.9 894.0 710.1 895.0 710.2 896.0 710.4 897.0 710.6 898.0 710.7 899.0 710.8 900.0 711.0 901.0 711.1 902.0 711.2 903.0 711.3 904.0 711.4 905.0 711.5 906.0 711.6 907.0 711.6 908.0 711.7 909.0 711.8 910.0 711.9 911.0 711.9 912.0 712.0 913.0 712.0 914.0 712.1 915.0 712.1 916.0 712.2 917.0 712.2 918.0 712.3 919.0 712.3 920.0 712.3 921.0 712.4 922.0 712.4 923.0 712.4 924.0 712.4 925.0 712.4 926.0 712.4 927.0 712.4 928.0 712.4 929.0 712.4 930.0 712.4 931.0 712.4 932.0 712.4 933.0 712.4 934.0 712.3 935.0 712.3 936.0 712.3 937.0 712.2 938.0 712.1 939.0 712.1 940.0 712.0 941.0 711.9 942.0 711.8 943.0 711.7 944.0 711.6 945.0 711.4 946.0 711.2 947.0 711.1 948.0 710.8 949.0 710.6 950.0 710.4 951.0 710.1 952.0 709.7 953.0 709.4 954.0 709.0 955.0 708.6 956.0 708.1 957.0 707.6 958.0 707.0 959.0 706.4 960.0 705.7 961.0 705.0 962.0 704.3 963.0 703.5 964.0 702.6 965.0 701.7 966.0 700.8 967.0 699.8 968.0 698.8 969.0 697.8 970.0 696.8 971.0 695.8 972.0 694.8 973.0 693.9 974.0 693.0 975.0 692.2 976.0 691.5 977.0 690.9 978.0 690.4 979.0 690.0 980.0 689.7 981.0 689.5 982.0 689.4 983.0 689.5 984.0 689.8 985.0 690.1 986.0 690.6 987.0 691.2 988.0 692.0 989.0 692.9 990.0 693.8 991.0 694.8 992.0 695.9 993.0 697.0 994.0 698.1 995.0 699.2 996.0 700.3 997.0 701.3 998.0 702.3 999.0 703.3 1000.0 704.2 1001.0 705.1 1002.0 705.9 1003.0 706.7 1004.0 707.4 1005.0 708.0 1006.0 708.6 1007.0 709.2 1008.0 709.7 1009.0 710.2 1010.0 710.6 1011.0 711.0 1012.0 711.4 1013.0 711.7 1014.0 712.0 1015.0 712.3 1016.0 712.5 1017.0 712.8 1018.0 713.0 1019.0 713.2 1020.0 713.3 1021.0 713.5 1022.0 713.6 1023.0 713.7 1024.0 713.9 1025.0 714.0 1026.0 714.1 1027.0 714.2 1028.0 714.2 1029.0 714.3 1030.0 714.4 1031.0 714.4 1032.0 714.5 1033.0 714.5 1034.0 714.6 1035.0 714.6 1036.0 714.6 1037.0 714.7 1038.0 714.7 1039.0 714.7 1040.0 714.7 1041.0 714.7 1042.0 714.7 1043.0 714.7 1044.0 714.7 1045.0 714.7 1046.0 714.7 1047.0 714.6 1048.0 714.6 1049.0 714.5 1050.0 714.5 1051.0 714.4 1052.0 714.3 1053.0 714.3 1054.0 714.2 1055.0 714.1 1056.0 714.0 1057.0 713.9 1058.0 713.7 1059.0 713.6 1060.0 713.5 1061.0 713.3 1062.0 713.2 1063.0 713.0 1064.0 712.8 1065.0 712.7 1066.0 712.5 1067.0 712.3 1068.0 712.1 1069.0 711.9 1070.0 711.7 1071.0 711.4 1072.0 711.2 1073.0 711.0 1074.0 710.7 1075.0 710.5 1076.0 710.3 1077.0 710.0 1078.0 709.8 1079.0 709.5 1080.0 709.3 1081.0 709.1 1082.0 708.8 1083.0 708.6 1084.0 708.4 1085.0 708.2 1086.0 708.0 1087.0 707.8 1088.0 707.6 1089.0 707.4 1090.0 707.3 1091.0 707.1 1092.0 707.0 1093.0 706.8 1094.0 706.7 1095.0 706.6 1096.0 706.4 1097.0 706.3 1098.0 706.2 1099.0 706.1 1100.0 706.0 1101.0 705.9 1102.0 705.8 1103.0 705.8 1104.0 705.7 1105.0 705.7 1106.0 705.7 1107.0 705.7 1108.0 705.8 1109.0 705.8 1110.0 705.9 1111.0 706.0 1112.0 706.2 1113.0 706.4 1114.0 706.6 1115.0 706.8 1116.0 707.0 1117.0 707.3 1118.0 707.5 1119.0 707.8 1120.0 708.1 1121.0 708.4 1122.0 708.7 1123.0 709.0 1124.0 709.4 1125.0 709.7 1126.0 710.0 1127.0 710.3 1128.0 710.6 1129.0 710.9 1130.0 711.1 1131.0 711.4 1132.0 711.7 1133.0 711.9 1134.0 712.2 1135.0 712.4 1136.0 712.6 1137.0 712.9 1138.0 713.1 1139.0 713.2 1140.0 713.4 1141.0 713.6 1142.0 713.8 1143.0 713.9 1144.0 714.0 1145.0 714.2 1146.0 714.3 1147.0 714.4 1148.0 714.5 1149.0 714.6 1150.0 714.7 1151.0 714.7 1152.0 714.8 1153.0 714.8 1154.0 714.9 1155.0 714.9 1156.0 714.9 1157.0 714.9 1158.0 714.9 1159.0 714.8 1160.0 714.8 1161.0 714.8 1162.0 714.7 1163.0 714.6 1164.0 714.5 1165.0 714.4 1166.0 714.3 1167.0 714.2 1168.0 714.0 1169.0 713.8 1170.0 713.6 1171.0 713.4 1172.0 713.1 1173.0 712.8 1174.0 712.5 1175.0 712.2 1176.0 711.8 1177.0 711.5 1178.0 711.1 1179.0 710.7 1180.0 710.3 1181.0 709.9 1182.0 709.5 1183.0 709.1 1184.0 708.7 1185.0 708.3 1186.0 708.0 1187.0 707.6 1188.0 707.3 1189.0 706.9 1190.0 706.5 1191.0 706.2 1192.0 705.8 1193.0 705.4 1194.0 705.1 1195.0 704.7 1196.0 704.3 1197.0 704.0 1198.0 703.7 1199.0 703.5 1200.0 703.3 1201.0 703.1 1202.0 703.0 1203.0 703.0 1204.0 702.9 1205.0 702.9 1206.0 702.8 1207.0 702.8 1208.0 702.8 1209.0 702.8 1210.0 702.8 1211.0 702.8 1212.0 702.9 1213.0 703.0 1214.0 703.2 1215.0 703.4 1216.0 703.8 1217.0 704.2 1218.0 704.8 1219.0 705.3 1220.0 706.0 1221.0 706.7 1222.0 707.4 1223.0 708.1 1224.0 708.9 1225.0 709.6 1226.0 710.3 1227.0 711.0 1228.0 711.6 1229.0 712.2 1230.0 712.8 1231.0 713.3 1232.0 713.8 1233.0 714.3 1234.0 714.7 1235.0 715.1 1236.0 715.4 1237.0 715.8 1238.0 716.1 1239.0 716.3 1240.0 716.6 1241.0 716.8 1242.0 717.0 1243.0 717.2 1244.0 717.4 1245.0 717.6 1246.0 717.7 1247.0 717.8 1248.0 718.0 1249.0 718.1 1250.0 718.2 1251.0 718.3 1252.0 718.4 1253.0 718.5 1254.0 718.6 1255.0 718.6 1256.0 718.7 1257.0 718.8 1258.0 718.8 1259.0 718.9 1260.0 719.0 1261.0 719.0 1262.0 719.1 1263.0 719.1 1264.0 719.2 1265.0 719.2 1266.0 719.3 1267.0 719.3 1268.0 719.4 1269.0 719.4 1270.0 719.5 1271.0 719.5 1272.0 719.6 1273.0 719.6 1274.0 719.6 1275.0 719.7 1276.0 719.7 1277.0 719.8 1278.0 719.8 1279.0 719.8" fill="none" stroke="#f41c1c" stroke-width="3.1" stroke-linejoin="round"/>
<path d="M165.0 1081.6 166.0 1081.6 167.0 1081.6 168.0 1081.6 169.0 1081.6 170.0 1081.6 171.0 1081.6 172.0 1081.6 173.0 1081.6 174.0 1081.6 175.0 1081.6 176.0 1081.6 177.0 1081.6 178.0 1081.6 179.0 1081.6 180.0 1081.6 181.0 1081.6 182.0 1081.6 183.0 1081.6 184.0 1081.6 185.0 1081.6 186.0 1081.6 187.0 1081.6 188.0 1081.6 189.0 1081.6 190.0 1081.6 191.0 1081.6 192.0 1081.6 193.0 1081.6 194.0 1081.6 195.0 1081.6 196.0 1081.6 197.0 1081.6 198.0 1081.5 199.0 1081.5 200.0 1081.5 201.0 1081.5 202.0 1081.5 203.0 1081.5 204.0 1081.5 205.0 1081.5 206.0 1081.5 207.0 1081.5 208.0 1081.4 209.0 1081.4 210.0 1081.4 211.0 1081.4 212.0 1081.4 213.0 1081.4 214.0 1081.4 215.0 1081.3 216.0 1081.3 217.0 1081.3 218.0 1081.3 219.0 1081.3 220.0 1081.2 221.0 1081.2 222.0 1081.2 223.0 1081.2 224.0 1081.2 225.0 1081.1 226.0 1081.1 227.0 1081.1 228.0 1081.1 229.0 1081.0 230.0 1081.0 231.0 1081.0 232.0 1080.9 233.0 1080.9 234.0 1080.9 235.0 1080.8 236.0 1080.8 237.0 1080.7 238.0 1080.7 239.0 1080.7 240.0 1080.6 241.0 1080.6 242.0 1080.5 243.0 1080.5 244.0 1080.4 245.0 1080.4 246.0 1080.3 247.0 1080.3 248.0 1080.2 249.0 1080.1 250.0 1080.1 251.0 1080.0 252.0 1079.9 253.0 1079.8 254.0 1079.7 255.0 1079.6 256.0 1079.5 257.0 1079.4 258.0 1079.3 259.0 1079.2 260.0 1079.0 261.0 1078.9 262.0 1078.8 263.0 1078.7 264.0 1078.5 265.0 1078.4 266.0 1078.2 267.0 1078.1 268.0 1077.9 269.0 1077.8 270.0 1077.6 271.0 1077.4 272.0 1077.2 273.0 1077.1 274.0 1076.9 275.0 1076.7 276.0 1076.4 277.0 1076.2 278.0 1076.0 279.0 1075.7 280.0 1075.5 281.0 1075.2 282.0 1074.9 283.0 1074.7 284.0 1074.4 285.0 1074.0 286.0 1073.7 287.0 1073.4 288.0 1073.0 289.0 1072.6 290.0 1072.2 291.0 1071.8 292.0 1071.3 293.0 1070.8 294.0 1070.3 295.0 1069.8 296.0 1069.2 297.0 1068.6 298.0 1067.9 299.0 1067.2 300.0 1066.5 301.0 1065.6 302.0 1064.8 303.0 1063.8 304.0 1062.8 305.0 1061.6 306.0 1060.4 307.0 1059.0 308.0 1057.5 309.0 1055.8 310.0 1054.0 311.0 1051.9 312.0 1049.5 313.0 1046.9 314.0 1044.0 315.0 1040.7 316.0 1037.0 317.0 1032.8 318.0 1028.2 319.0 1023.0 320.0 1017.2 321.0 1010.8 322.0 1003.7 323.0 995.9 324.0 987.4 325.0 978.2 326.0 968.2 327.0 957.4 328.0 946.0 329.0 933.9 330.0 921.2 331.0 908.1 332.0 894.8 333.0 881.3 334.0 868.2 335.0 855.5 336.0 843.8 337.0 833.6 338.0 825.1 339.0 818.9 340.0 815.3 341.0 814.4 342.0 816.4 343.0 821.1 344.0 828.2 345.0 837.4 346.0 848.2 347.0 860.3 348.0 873.2 349.0 886.5 350.0 899.9 351.0 913.2 352.0 926.1 353.0 938.5 354.0 950.3 355.0 961.5 356.0 971.9 357.0 981.6 358.0 990.5 359.0 998.7 360.0 1006.1 361.0 1012.9 362.0 1019.0 363.0 1024.6 364.0 1029.5 365.0 1033.9 366.0 1037.9 367.0 1041.4 368.0 1044.5 369.0 1047.3 370.0 1049.8 371.0 1052.0 372.0 1054.0 373.0 1055.7 374.0 1057.3 375.0 1058.7 376.0 1060.0 377.0 1061.2 378.0 1062.3 379.0 1063.2 380.0 1064.1 381.0 1065.0 382.0 1065.7 383.0 1066.4 384.0 1067.1 385.0 1067.7 386.0 1068.3 387.0 1068.8 388.0 1069.3 389.0 1069.8 390.0 1070.2 391.0 1070.6 392.0 1071.0 393.0 1071.4 394.0 1071.8 395.0 1072.1 396.0 1072.4 397.0 1072.7 398.0 1073.0 399.0 1073.3 400.0 1073.5 401.0 1073.8 402.0 1074.0 403.0 1074.2 404.0 1074.4 405.0 1074.6 406.0 1074.8 407.0 1075.0 408.0 1075.2 409.0 1075.3 410.0 1075.5 411.0 1075.7 412.0 1075.8 413.0 1075.9 414.0 1076.1 415.0 1076.2 416.0 1076.3 417.0 1076.4 418.0 1076.5 419.0 1076.6 420.0 1076.7 421.0 1076.8 422.0 1076.9 423.0 1077.0 424.0 1077.1 425.0 1077.2 426.0 1077.2 427.0 1077.3 428.0 1077.4 429.0 1077.4 430.0 1077.5 431.0 1077.6 432.0 1077.6 433.0 1077.7 434.0 1077.7 435.0 1077.8 436.0 1077.8 437.0 1077.9 438.0 1077.9 439.0 1078.0 440.0 1078.0 441.0 1078.0 442.0 1078.1 443.0 1078.1 444.0 1078.1 445.0 1078.1 446.0 1078.2 447.0 1078.2 448.0 1078.2 449.0 1078.2 450.0 1078.3 451.0 1078.3 452.0 1078.4 453.0 1078.4 454.0 1078.4 455.0 1078.5 456.0 1078.5 457.0 1078.6 458.0 1078.6 459.0 1078.6 460.0 1078.7 461.0 1078.7 462.0 1078.8 463.0 1078.8 464.0 1078.8 465.0 1078.8 466.0 1078.9 467.0 1078.9 468.0 1078.9 469.0 1078.9 470.0 1079.0 471.0 1079.0 472.0 1079.0 473.0 1079.0 474.0 1079.0 475.0 1079.0 476.0 1079.0 477.0 1079.0 478.0 1079.1 479.0 1079.1 480.0 1079.1 481.0 1079.1 482.0 1079.0 483.0 1079.0 484.0 1079.0 485.0 1079.0 486.0 1079.0 487.0 1079.0 488.0 1079.0 489.0 1078.9 490.0 1078.9 491.0 1078.9 492.0 1078.8 493.0 1078.8 494.0 1078.7 495.0 1078.7 496.0 1078.6 497.0 1078.5 498.0 1078.5 499.0 1078.4 500.0 1078.3 501.0 1078.1 502.0 1078.0 503.0 1077.9 504.0 1077.7 505.0 1077.6 506.0 1077.4 507.0 1077.2 508.0 1076.9 509.0 1076.7 510.0 1076.4 511.0 1076.1 512.0 1075.7 513.0 1075.4 514.0 1075.0 515.0 1074.5 516.0 1074.0 517.0 1073.5 518.0 1072.9 519.0 1072.3 520.0 1071.6 521.0 1070.9 522.0 1070.1 523.0 1069.2 524.0 1068.3 525.0 1067.3 526.0 1066.2 527.0 1065.1 528.0 1063.9 529.0 1062.7 530.0 1061.4 531.0 1060.0 532.0 1058.6 533.0 1057.1 534.0 1055.6 535.0 1054.0 536.0 1052.4 537.0 1050.7 538.0 1049.1 539.0 1047.4 540.0 1045.7 541.0 1044.0 542.0 1042.3 543.0 1040.6 544.0 1039.0 545.0 1037.4 546.0 1035.9 547.0 1034.4 548.0 1033.0 549.0 1031.8 550.0 1030.6 551.0 1029.6 552.0 1028.8 553.0 1028.2 554.0 1027.8 555.0 1027.5 556.0 1027.5 557.0 1027.7 558.0 1028.1 559.0 1028.7 560.0 1029.5 561.0 1030.5 562.0 1031.6 563.0 1032.8 564.0 1034.2 565.0 1035.7 566.0 1037.2 567.0 1038.9 568.0 1040.6 569.0 1042.3 570.0 1044.1 571.0 1046.0 572.0 1047.8 573.0 1049.6 574.0 1051.4 575.0 1053.2 576.0 1055.0 577.0 1056.7 578.0 1058.4 579.0 1060.0 580.0 1061.5 581.0 1063.0 582.0 1064.4 583.0 1065.7 584.0 1067.0 585.0 1068.1 586.0 1069.2 587.0 1070.3 588.0 1071.3 589.0 1072.2 590.0 1073.0 591.0 1073.8 592.0 1074.5 593.0 1075.2 594.0 1075.8 595.0 1076.3 596.0 1076.9 597.0 1077.3 598.0 1077.8 599.0 1078.2 600.0 1078.5 601.0 1078.9 602.0 1079.2 603.0 1079.5 604.0 1079.7 605.0 1080.0 606.0 1080.2 607.0 1080.4 608.0 1080.6 609.0 1080.8 610.0 1080.9 611.0 1081.1 612.0 1081.2 613.0 1081.3 614.0 1081.4 615.0 1081.6 616.0 1081.7 617.0 1081.8 618.0 1081.8 619.0 1081.9 620.0 1082.0 621.0 1082.1 622.0 1082.2 623.0 1082.2 624.0 1082.3 625.0 1082.4 626.0 1082.4 627.0 1082.5 628.0 1082.5 629.0 1082.6 630.0 1082.6 631.0 1082.7 632.0 1082.7 633.0 1082.8 634.0 1082.8 635.0 1082.8 636.0 1082.9 637.0 1082.9 638.0 1082.9 639.0 1082.9 640.0 1083.0 641.0 1083.0 642.0 1083.0 643.0 1083.0 644.0 1083.0 645.0 1083.0 646.0 1083.1 647.0 1083.1 648.0 1083.1 649.0 1083.1 650.0 1083.1 651.0 1083.1 652.0 1083.1 653.0 1083.0 654.0 1083.0 655.0 1083.0 656.0 1083.0 657.0 1083.0 658.0 1083.0 659.0 1082.9 660.0 1082.9 661.0 1082.9 662.0 1082.8 663.0 1082.8 664.0 1082.8 665.0 1082.7 666.0 1082.7 667.0 1082.6 668.0 1082.6 669.0 1082.5 670.0 1082.4 671.0 1082.4 672.0 1082.3 673.0 1082.2 674.0 1082.1 675.0 1082.0 676.0 1081.9 677.0 1081.8 678.0 1081.7 679.0 1081.6 680.0 1081.5 681.0 1081.3 682.0 1081.2 683.0 1081.0 684.0 1080.8 685.0 1080.7 686.0 1080.5 687.0 1080.3 688.0 1080.0 689.0 1079.8 690.0 1079.5 691.0 1079.3 692.0 1079.0 693.0 1078.7 694.0 1078.3 695.0 1078.0 696.0 1077.6 697.0 1077.2 698.0 1076.7 699.0 1076.2 700.0 1075.7 701.0 1075.1 702.0 1074.5 703.0 1073.8 704.0 1073.1 705.0 1072.3 706.0 1071.5 707.0 1070.5 708.0 1069.5 709.0 1068.4 710.0 1067.2 711.0 1065.9 712.0 1064.5 713.0 1062.9 714.0 1061.2 715.0 1059.4 716.0 1057.4 717.0 1055.3 718.0 1053.0 719.0 1050.5 720.0 1047.9 721.0 1045.2 722.0 1042.3 723.0 1039.5 724.0 1036.6 725.0 1033.8 726.0 1031.2 727.0 1028.9 728.0 1026.9 729.0 1025.4 730.0 1024.5 731.0 1024.2 732.0 1024.6 733.0 1025.5 734.0 1027.1 735.0 1029.0 736.0 1031.4 737.0 1034.0 738.0 1036.8 739.0 1039.7 740.0 1042.6 741.0 1045.4 742.0 1048.2 743.0 1050.8 744.0 1053.2 745.0 1055.5 746.0 1057.7 747.0 1059.7 748.0 1061.5 749.0 1063.2 750.0 1064.7 751.0 1066.1 752.0 1067.5 753.0 1068.7 754.0 1069.8 755.0 1070.8 756.0 1071.7 757.0 1072.5 758.0 1073.3 759.0 1074.0 760.0 1074.7 761.0 1075.3 762.0 1075.9 763.0 1076.4 764.0 1076.9 765.0 1077.3 766.0 1077.7 767.0 1078.1 768.0 1078.4 769.0 1078.8 770.0 1079.0 771.0 1079.3 772.0 1079.6 773.0 1079.8 774.0 1080.0 775.0 1080.2 776.0 1080.3 777.0 1080.5 778.0 1080.6 779.0 1080.7 780.0 1080.8 781.0 1080.9 782.0 1081.0 783.0 1081.1 784.0 1081.1 785.0 1081.1 786.0 1081.2 787.0 1081.2 788.0 1081.1 789.0 1081.1 790.0 1081.1 791.0 1081.0 792.0 1080.8 793.0 1080.7 794.0 1080.5 795.0 1080.3 796.0 1080.1 797.0 1079.9 798.0 1079.6 799.0 1079.3 800.0 1079.0 801.0 1078.6 802.0 1078.2 803.0 1077.8 804.0 1077.3 805.0 1076.8 806.0 1076.3 807.0 1075.7 808.0 1075.0 809.0 1074.3 810.0 1073.6 811.0 1072.7 812.0 1071.9 813.0 1070.9 814.0 1069.9 815.0 1068.9 816.0 1067.8 817.0 1066.6 818.0 1065.3 819.0 1064.0 820.0 1062.6 821.0 1061.2 822.0 1059.7 823.0 1058.1 824.0 1056.5 825.0 1054.9 826.0 1053.3 827.0 1051.7 828.0 1050.1 829.0 1048.5 830.0 1047.0 831.0 1045.5 832.0 1044.1 833.0 1042.8 834.0 1041.6 835.0 1040.5 836.0 1039.5 837.0 1038.6 838.0 1037.7 839.0 1037.0 840.0 1036.3 841.0 1035.7 842.0 1035.2 843.0 1034.7 844.0 1034.3 845.0 1034.1 846.0 1033.9 847.0 1033.9 848.0 1034.0 849.0 1034.3 850.0 1034.7 851.0 1035.3 852.0 1036.2 853.0 1037.2 854.0 1038.3 855.0 1039.7 856.0 1041.2 857.0 1042.7 858.0 1044.4 859.0 1046.2 860.0 1048.0 861.0 1049.8 862.0 1051.6 863.0 1053.3 864.0 1055.1 865.0 1056.8 866.0 1058.4 867.0 1060.0 868.0 1061.6 869.0 1063.0 870.0 1064.4 871.0 1065.7 872.0 1066.9 873.0 1068.1 874.0 1069.2 875.0 1070.2 876.0 1071.1 877.0 1072.0 878.0 1072.8 879.0 1073.6 880.0 1074.3 881.0 1074.9 882.0 1075.5 883.0 1076.1 884.0 1076.6 885.0 1077.0 886.0 1077.4 887.0 1077.8 888.0 1078.2 889.0 1078.5 890.0 1078.8 891.0 1079.1 892.0 1079.3 893.0 1079.6 894.0 1079.8 895.0 1080.0 896.0 1080.1 897.0 1080.3 898.0 1080.4 899.0 1080.6 900.0 1080.7 901.0 1080.8 902.0 1080.9 903.0 1081.0 904.0 1081.1 905.0 1081.1 906.0 1081.2 907.0 1081.3 908.0 1081.3 909.0 1081.4 910.0 1081.4 911.0 1081.5 912.0 1081.5 913.0 1081.5 914.0 1081.5 915.0 1081.6 916.0 1081.6 917.0 1081.6 918.0 1081.6 919.0 1081.6 920.0 1081.6 921.0 1081.6 922.0 1081.6 923.0 1081.5 924.0 1081.5 925.0 1081.5 926.0 1081.4 927.0 1081.4 928.0 1081.4 929.0 1081.3 930.0 1081.2 931.0 1081.2 932.0 1081.2 933.0 1081.1 934.0 1081.1 935.0 1081.0 936.0 1080.9 937.0 1080.9 938.0 1080.8 939.0 1080.6 940.0 1080.5 941.0 1080.4 942.0 1080.2 943.0 1080.1 944.0 1079.9 945.0 1079.6 946.0 1079.4 947.0 1079.1 948.0 1078.8 949.0 1078.5 950.0 1078.1 951.0 1077.7 952.0 1077.3 953.0 1076.8 954.0 1076.2 955.0 1075.6 956.0 1075.0 957.0 1074.3 958.0 1073.5 959.0 1072.7 960.0 1071.8 961.0 1070.9 962.0 1069.9 963.0 1068.9 964.0 1067.8 965.0 1066.7 966.0 1065.6 967.0 1064.4 968.0 1063.2 969.0 1062.1 970.0 1061.0 971.0 1059.9 972.0 1058.9 973.0 1058.0 974.0 1057.2 975.0 1056.5 976.0 1056.0 977.0 1055.6 978.0 1055.3 979.0 1055.2 980.0 1055.2 981.0 1055.3 982.0 1055.6 983.0 1056.0 984.0 1056.6 985.0 1057.3 986.0 1058.1 987.0 1059.0 988.0 1060.0 989.0 1061.1 990.0 1062.3 991.0 1063.5 992.0 1064.7 993.0 1065.9 994.0 1067.1 995.0 1068.2 996.0 1069.4 997.0 1070.4 998.0 1071.4 999.0 1072.4 1000.0 1073.3 1001.0 1074.2 1002.0 1074.9 1003.0 1075.7 1004.0 1076.4 1005.0 1077.0 1006.0 1077.6 1007.0 1078.1 1008.0 1078.6 1009.0 1079.0 1010.0 1079.4 1011.0 1079.8 1012.0 1080.1 1013.0 1080.4 1014.0 1080.7 1015.0 1081.0 1016.0 1081.2 1017.0 1081.4 1018.0 1081.6 1019.0 1081.8 1020.0 1081.9 1021.0 1082.1 1022.0 1082.2 1023.0 1082.3 1024.0 1082.5 1025.0 1082.6 1026.0 1082.7 1027.0 1082.8 1028.0 1082.8 1029.0 1082.9 1030.0 1083.0 1031.0 1083.1 1032.0 1083.1 1033.0 1083.2 1034.0 1083.2 1035.0 1083.3 1036.0 1083.3 1037.0 1083.4 1038.0 1083.4 1039.0 1083.4 1040.0 1083.5 1041.0 1083.5 1042.0 1083.5 1043.0 1083.6 1044.0 1083.6 1045.0 1083.6 1046.0 1083.6 1047.0 1083.6 1048.0 1083.6 1049.0 1083.6 1050.0 1083.6 1051.0 1083.6 1052.0 1083.6 1053.0 1083.6 1054.0 1083.6 1055.0 1083.6 1056.0 1083.5 1057.0 1083.5 1058.0 1083.4 1059.0 1083.4 1060.0 1083.3 1061.0 1083.3 1062.0 1083.2 1063.0 1083.1 1064.0 1083.0 1065.0 1082.9 1066.0 1082.8 1067.0 1082.6 1068.0 1082.5 1069.0 1082.3 1070.0 1082.1 1071.0 1081.9 1072.0 1081.7 1073.0 1081.5 1074.0 1081.3 1075.0 1081.0 1076.0 1080.7 1077.0 1080.4 1078.0 1080.1 1079.0 1079.8 1080.0 1079.5 1081.0 1079.1 1082.0 1078.8 1083.0 1078.5 1084.0 1078.2 1085.0 1077.9 1086.0 1077.6 1087.0 1077.4 1088.0 1077.2 1089.0 1077.0 1090.0 1076.9 1091.0 1076.8 1092.0 1076.7 1093.0 1076.6 1094.0 1076.6 1095.0 1076.5 1096.0 1076.4 1097.0 1076.3 1098.0 1076.2 1099.0 1076.0 1100.0 1075.8 1101.0 1075.6 1102.0 1075.3 1103.0 1075.0 1104.0 1074.7 1105.0 1074.4 1106.0 1074.1 1107.0 1073.7 1108.0 1073.4 1109.0 1073.2 1110.0 1073.0 1111.0 1072.8 1112.0 1072.8 1113.0 1072.8 1114.0 1072.9 1115.0 1073.1 1116.0 1073.4 1117.0 1073.8 1118.0 1074.3 1119.0 1074.8 1120.0 1075.3 1121.0 1075.8 1122.0 1076.4 1123.0 1077.0 1124.0 1077.5 1125.0 1078.0 1126.0 1078.5 1127.0 1079.0 1128.0 1079.5 1129.0 1079.9 1130.0 1080.3 1131.0 1080.7 1132.0 1081.0 1133.0 1081.4 1134.0 1081.6 1135.0 1081.9 1136.0 1082.1 1137.0 1082.4 1138.0 1082.6 1139.0 1082.7 1140.0 1082.9 1141.0 1083.0 1142.0 1083.2 1143.0 1083.3 1144.0 1083.4 1145.0 1083.4 1146.0 1083.5 1147.0 1083.6 1148.0 1083.6 1149.0 1083.7 1150.0 1083.7 1151.0 1083.8 1152.0 1083.8 1153.0 1083.8 1154.0 1083.8 1155.0 1083.8 1156.0 1083.8 1157.0 1083.8 1158.0 1083.8 1159.0 1083.8 1160.0 1083.8 1161.0 1083.8 1162.0 1083.8 1163.0 1083.8 1164.0 1083.8 1165.0 1083.8 1166.0 1083.8 1167.0 1083.7 1168.0 1083.7 1169.0 1083.6 1170.0 1083.6 1171.0 1083.5 1172.0 1083.4 1173.0 1083.3 1174.0 1083.1 1175.0 1083.0 1176.0 1082.8 1177.0 1082.6 1178.0 1082.4 1179.0 1082.1 1180.0 1081.9 1181.0 1081.5 1182.0 1081.2 1183.0 1080.8 1184.0 1080.4 1185.0 1079.9 1186.0 1079.4 1187.0 1078.8 1188.0 1078.3 1189.0 1077.6 1190.0 1077.0 1191.0 1076.3 1192.0 1075.6 1193.0 1074.9 1194.0 1074.1 1195.0 1073.4 1196.0 1072.8 1197.0 1072.2 1198.0 1071.7 1199.0 1071.2 1200.0 1070.9 1201.0 1070.7 1202.0 1070.5 1203.0 1070.4 1204.0 1070.4 1205.0 1070.5 1206.0 1070.6 1207.0 1070.7 1208.0 1070.8 1209.0 1070.9 1210.0 1071.0 1211.0 1071.1 1212.0 1071.3 1213.0 1071.5 1214.0 1071.8 1215.0 1072.1 1216.0 1072.5 1217.0 1073.0 1218.0 1073.6 1219.0 1074.2 1220.0 1074.9 1221.0 1075.6 1222.0 1076.4 1223.0 1077.2 1224.0 1077.9 1225.0 1078.6 1226.0 1079.4 1227.0 1080.0 1228.0 1080.7 1229.0 1081.3 1230.0 1081.9 1231.0 1082.4 1232.0 1082.9 1233.0 1083.3 1234.0 1083.7 1235.0 1084.1 1236.0 1084.5 1237.0 1084.8 1238.0 1085.1 1239.0 1085.4 1240.0 1085.6 1241.0 1085.8 1242.0 1086.0 1243.0 1086.2 1244.0 1086.4 1245.0 1086.6 1246.0 1086.7 1247.0 1086.8 1248.0 1087.0 1249.0 1087.1 1250.0 1087.2 1251.0 1087.3 1252.0 1087.4 1253.0 1087.5 1254.0 1087.6 1255.0 1087.7 1256.0 1087.8 1257.0 1087.8 1258.0 1087.9 1259.0 1088.0 1260.0 1088.1 1261.0 1088.1 1262.0 1088.2 1263.0 1088.3 1264.0 1088.3 1265.0 1088.4 1266.0 1088.4 1267.0 1088.5 1268.0 1088.6 1269.0 1088.6 1270.0 1088.7 1271.0 1088.7 1272.0 1088.8 1273.0 1088.8 1274.0 1088.9 1275.0 1088.9 1276.0 1089.0 1277.0 1089.0 1278.0 1089.1 1279.0 1089.1" fill="none" stroke="#f41c1c" stroke-width="3.1" stroke-linejoin="round"/>
<path d="M165.0 1431.1 166.0 1431.0 167.0 1431.0 168.0 1431.0 169.0 1430.9 170.0 1430.9 171.0 1430.9 172.0 1430.8 173.0 1430.8 174.0 1430.8 175.0 1430.7 176.0 1430.7 177.0 1430.7 178.0 1430.6 179.0 1430.6 180.0 1430.6 181.0 1430.5 182.0 1430.5 183.0 1430.4 184.0 1430.4 185.0 1430.4 186.0 1430.3 187.0 1430.3 188.0 1430.3 189.0 1430.2 190.0 1430.2 191.0 1430.2 192.0 1430.1 193.0 1430.1 194.0 1430.0 195.0 1430.0 196.0 1430.0 197.0 1429.9 198.0 1429.9 199.0 1429.8 200.0 1429.8 201.0 1429.8 202.0 1429.7 203.0 1429.7 204.0 1429.6 205.0 1429.6 206.0 1429.6 207.0 1429.5 208.0 1429.5 209.0 1429.4 210.0 1429.4 211.0 1429.3 212.0 1429.3 213.0 1429.3 214.0 1429.2 215.0 1429.2 216.0 1429.1 217.0 1429.1 218.0 1429.0 219.0 1429.0 220.0 1428.9 221.0 1428.9 222.0 1428.8 223.0 1428.8 224.0 1428.7 225.0 1428.7 226.0 1428.6 227.0 1428.6 228.0 1428.5 229.0 1428.5 230.0 1428.4 231.0 1428.4 232.0 1428.3 233.0 1428.2 234.0 1428.2 235.0 1428.1 236.0 1428.1 237.0 1428.0 238.0 1427.9 239.0 1427.9 240.0 1427.8 241.0 1427.8 242.0 1427.7 243.0 1427.6 244.0 1427.6 245.0 1427.5 246.0 1427.4 247.0 1427.3 248.0 1427.3 249.0 1427.2 250.0 1427.1 251.0 1427.0 252.0 1427.0 253.0 1426.9 254.0 1426.9 255.0 1426.8 256.0 1426.7 257.0 1426.6 258.0 1426.6 259.0 1426.5 260.0 1426.4 261.0 1426.3 262.0 1426.2 263.0 1426.1 264.0 1426.1 265.0 1426.0 266.0 1425.9 267.0 1425.8 268.0 1425.6 269.0 1425.5 270.0 1425.4 271.0 1425.3 272.0 1425.2 273.0 1425.1 274.0 1424.9 275.0 1424.8 276.0 1424.6 277.0 1424.5 278.0 1424.3 279.0 1424.2 280.0 1424.0 281.0 1423.8 282.0 1423.6 283.0 1423.4 284.0 1423.2 285.0 1423.0 286.0 1422.8 287.0 1422.6 288.0 1422.3 289.0 1422.0 290.0 1421.8 291.0 1421.5 292.0 1421.2 293.0 1420.8 294.0 1420.5 295.0 1420.1 296.0 1419.7 297.0 1419.3 298.0 1418.8 299.0 1418.3 300.0 1417.8 301.0 1417.2 302.0 1416.6 303.0 1415.9 304.0 1415.1 305.0 1414.2 306.0 1413.2 307.0 1412.0 308.0 1410.7 309.0 1409.3 310.0 1407.6 311.0 1405.6 312.0 1403.4 313.0 1400.8 314.0 1397.9 315.0 1394.5 316.0 1390.7 317.0 1386.3 318.0 1381.4 319.0 1375.8 320.0 1369.5 321.0 1362.5 322.0 1354.8 323.0 1346.3 324.0 1337.0 325.0 1326.9 326.0 1316.2 327.0 1304.7 328.0 1292.5 329.0 1279.9 330.0 1266.8 331.0 1253.5 332.0 1240.2 333.0 1227.0 334.0 1214.2 335.0 1202.2 336.0 1191.3 337.0 1181.8 338.0 1174.1 339.0 1168.5 340.0 1165.2 341.0 1164.5 342.0 1166.2 343.0 1170.4 344.0 1176.9 345.0 1185.3 346.0 1195.4 347.0 1206.8 348.0 1219.1 349.0 1232.1 350.0 1245.3 351.0 1258.7 352.0 1271.9 353.0 1284.8 354.0 1297.2 355.0 1309.1 356.0 1320.3 357.0 1330.7 358.0 1340.5 359.0 1349.4 360.0 1357.6 361.0 1365.0 362.0 1371.7 363.0 1377.7 364.0 1383.0 365.0 1387.7 366.0 1391.8 367.0 1395.4 368.0 1398.6 369.0 1401.4 370.0 1403.8 371.0 1405.9 372.0 1407.7 373.0 1409.3 374.0 1410.6 375.0 1411.8 376.0 1412.9 377.0 1413.8 378.0 1414.7 379.0 1415.4 380.0 1416.1 381.0 1416.7 382.0 1417.2 383.0 1417.7 384.0 1418.2 385.0 1418.6 386.0 1419.0 387.0 1419.4 388.0 1419.7 389.0 1420.0 390.0 1420.3 391.0 1420.6 392.0 1420.9 393.0 1421.1 394.0 1421.4 395.0 1421.6 396.0 1421.8 397.0 1422.0 398.0 1422.2 399.0 1422.4 400.0 1422.5 401.0 1422.7 402.0 1422.9 403.0 1423.0 404.0 1423.2 405.0 1423.3 406.0 1423.4 407.0 1423.5 408.0 1423.7 409.0 1423.8 410.0 1423.9 411.0 1424.0 412.0 1424.1 413.0 1424.2 414.0 1424.2 415.0 1424.3 416.0 1424.4 417.0 1424.5 418.0 1424.5 419.0 1424.6 420.0 1424.7 421.0 1424.7 422.0 1424.8 423.0 1424.9 424.0 1424.9 425.0 1425.0 426.0 1425.0 427.0 1425.1 428.0 1425.1 429.0 1425.2 430.0 1425.2 431.0 1425.2 432.0 1425.3 433.0 1425.3 434.0 1425.3 435.0 1425.4 436.0 1425.4 437.0 1425.4 438.0 1425.5 439.0 1425.5 440.0 1425.5 441.0 1425.5 442.0 1425.6 443.0 1425.6 444.0 1425.6 445.0 1425.6 446.0 1425.6 447.0 1425.7 448.0 1425.7 449.0 1425.7 450.0 1425.7 451.0 1425.7 452.0 1425.8 453.0 1425.8 454.0 1425.9 455.0 1425.9 456.0 1425.9 457.0 1426.0 458.0 1426.0 459.0 1426.0 460.0 1426.1 461.0 1426.1 462.0 1426.1 463.0 1426.2 464.0 1426.2 465.0 1426.2 466.0 1426.2 467.0 1426.3 468.0 1426.3 469.0 1426.3 470.0 1426.3 471.0 1426.4 472.0 1426.4 473.0 1426.4 474.0 1426.4 475.0 1426.4 476.0 1426.4 477.0 1426.5 478.0 1426.5 479.0 1426.5 480.0 1426.5 481.0 1426.5 482.0 1426.5 483.0 1426.5 484.0 1426.5 485.0 1426.5 486.0 1426.5 487.0 1426.5 488.0 1426.5 489.0 1426.5 490.0 1426.5 491.0 1426.5 492.0 1426.5 493.0 1426.4 494.0 1426.4 495.0 1426.4 496.0 1426.3 497.0 1426.3 498.0 1426.2 499.0 1426.2 500.0 1426.1 501.0 1426.0 502.0 1425.9 503.0 1425.8 504.0 1425.7 505.0 1425.5 506.0 1425.4 507.0 1425.2 508.0 1425.0 509.0 1424.8 510.0 1424.5 511.0 1424.3 512.0 1424.0 513.0 1423.6 514.0 1423.2 515.0 1422.8 516.0 1422.4 517.0 1421.8 518.0 1421.3 519.0 1420.7 520.0 1420.0 521.0 1419.3 522.0 1418.5 523.0 1417.7 524.0 1416.8 525.0 1415.8 526.0 1414.8 527.0 1413.7 528.0 1412.5 529.0 1411.3 530.0 1410.0 531.0 1408.7 532.0 1407.3 533.0 1405.8 534.0 1404.3 535.0 1402.7 536.0 1401.1 537.0 1399.5 538.0 1397.9 539.0 1396.2 540.0 1394.6 541.0 1392.9 542.0 1391.3 543.0 1389.7 544.0 1388.1 545.0 1386.6 546.0 1385.2 547.0 1383.8 548.0 1382.5 549.0 1381.4 550.0 1380.4 551.0 1379.5 552.0 1378.7 553.0 1378.2 554.0 1377.8 555.0 1377.6 556.0 1377.6 557.0 1377.8 558.0 1378.1 559.0 1378.7 560.0 1379.4 561.0 1380.3 562.0 1381.3 563.0 1382.5 564.0 1383.8 565.0 1385.1 566.0 1386.6 567.0 1388.2 568.0 1389.8 569.0 1391.5 570.0 1393.2 571.0 1395.0 572.0 1396.8 573.0 1398.5 574.0 1400.3 575.0 1402.0 576.0 1403.8 577.0 1405.4 578.0 1407.1 579.0 1408.6 580.0 1410.1 581.0 1411.6 582.0 1413.0 583.0 1414.3 584.0 1415.5 585.0 1416.7 586.0 1417.8 587.0 1418.8 588.0 1419.7 589.0 1420.6 590.0 1421.4 591.0 1422.2 592.0 1422.9 593.0 1423.5 594.0 1424.1 595.0 1424.6 596.0 1425.1 597.0 1425.6 598.0 1426.0 599.0 1426.3 600.0 1426.7 601.0 1427.0 602.0 1427.2 603.0 1427.5 604.0 1427.7 605.0 1427.9 606.0 1428.1 607.0 1428.3 608.0 1428.4 609.0 1428.6 610.0 1428.7 611.0 1428.8 612.0 1428.9 613.0 1429.0 614.0 1429.1 615.0 1429.2 616.0 1429.3 617.0 1429.3 618.0 1429.4 619.0 1429.5 620.0 1429.5 621.0 1429.6 622.0 1429.6 623.0 1429.7 624.0 1429.7 625.0 1429.8 626.0 1429.8 627.0 1429.9 628.0 1429.9 629.0 1430.0 630.0 1430.0 631.0 1430.0 632.0 1430.1 633.0 1430.1 634.0 1430.1 635.0 1430.2 636.0 1430.2 637.0 1430.2 638.0 1430.3 639.0 1430.3 640.0 1430.3 641.0 1430.3 642.0 1430.3 643.0 1430.3 644.0 1430.3 645.0 1430.3 646.0 1430.3 647.0 1430.3 648.0 1430.3 649.0 1430.3 650.0 1430.3 651.0 1430.3 652.0 1430.3 653.0 1430.2 654.0 1430.2 655.0 1430.2 656.0 1430.2 657.0 1430.2 658.0 1430.2 659.0 1430.1 660.0 1430.1 661.0 1430.1 662.0 1430.1 663.0 1430.0 664.0 1430.0 665.0 1430.0 666.0 1430.0 667.0 1429.9 668.0 1429.9 669.0 1429.8 670.0 1429.8 671.0 1429.8 672.0 1429.7 673.0 1429.7 674.0 1429.6 675.0 1429.6 676.0 1429.5 677.0 1429.4 678.0 1429.4 679.0 1429.3 680.0 1429.2 681.0 1429.1 682.0 1429.1 683.0 1429.0 684.0 1428.9 685.0 1428.8 686.0 1428.6 687.0 1428.5 688.0 1428.4 689.0 1428.2 690.0 1428.1 691.0 1427.9 692.0 1427.7 693.0 1427.5 694.0 1427.2 695.0 1426.9 696.0 1426.6 697.0 1426.2 698.0 1425.8 699.0 1425.4 700.0 1424.9 701.0 1424.3 702.0 1423.6 703.0 1422.9 704.0 1422.0 705.0 1421.1 706.0 1420.0 707.0 1418.9 708.0 1417.6 709.0 1416.2 710.0 1414.7 711.0 1413.0 712.0 1411.2 713.0 1409.3 714.0 1407.2 715.0 1405.0 716.0 1402.8 717.0 1400.4 718.0 1398.0 719.0 1395.5 720.0 1393.0 721.0 1390.5 722.0 1388.2 723.0 1385.9 724.0 1383.9 725.0 1382.1 726.0 1380.6 727.0 1379.4 728.0 1378.7 729.0 1378.5 730.0 1378.7 731.0 1379.3 732.0 1380.4 733.0 1381.8 734.0 1383.6 735.0 1385.6 736.0 1387.8 737.0 1390.1 738.0 1392.6 739.0 1395.0 740.0 1397.5 741.0 1399.9 742.0 1402.3 743.0 1404.6 744.0 1406.7 745.0 1408.8 746.0 1410.7 747.0 1412.5 748.0 1414.2 749.0 1415.7 750.0 1417.1 751.0 1418.4 752.0 1419.5 753.0 1420.6 754.0 1421.5 755.0 1422.3 756.0 1423.0 757.0 1423.7 758.0 1424.3 759.0 1424.8 760.0 1425.2 761.0 1425.6 762.0 1425.9 763.0 1426.2 764.0 1426.5 765.0 1426.7 766.0 1426.9 767.0 1427.1 768.0 1427.2 769.0 1427.4 770.0 1427.5 771.0 1427.6 772.0 1427.7 773.0 1427.8 774.0 1427.8 775.0 1427.9 776.0 1427.9 777.0 1428.0 778.0 1428.0 779.0 1428.0 780.0 1428.1 781.0 1428.1 782.0 1428.1 783.0 1428.1 784.0 1428.1 785.0 1428.1 786.0 1428.0 787.0 1428.0 788.0 1428.0 789.0 1427.9 790.0 1427.9 791.0 1427.8 792.0 1427.8 793.0 1427.7 794.0 1427.6 795.0 1427.5 796.0 1427.4 797.0 1427.3 798.0 1427.2 799.0 1427.0 800.0 1426.9 801.0 1426.7 802.0 1426.5 803.0 1426.3 804.0 1426.1 805.0 1425.8 806.0 1425.5 807.0 1425.2 808.0 1424.8 809.0 1424.4 810.0 1424.0 811.0 1423.5 812.0 1422.9 813.0 1422.3 814.0 1421.6 815.0 1420.8 816.0 1420.0 817.0 1419.0 818.0 1418.0 819.0 1416.8 820.0 1415.6 821.0 1414.2 822.0 1412.7 823.0 1411.1 824.0 1409.5 825.0 1407.7 826.0 1405.8 827.0 1403.8 828.0 1401.8 829.0 1399.8 830.0 1397.8 831.0 1395.9 832.0 1394.1 833.0 1392.4 834.0 1391.0 835.0 1389.8 836.0 1388.9 837.0 1388.3 838.0 1387.9 839.0 1387.7 840.0 1387.7 841.0 1387.8 842.0 1388.0 843.0 1388.2 844.0 1388.3 845.0 1388.5 846.0 1388.6 847.0 1388.7 848.0 1388.7 849.0 1388.9 850.0 1389.1 851.0 1389.4 852.0 1389.9 853.0 1390.7 854.0 1391.6 855.0 1392.8 856.0 1394.2 857.0 1395.8 858.0 1397.6 859.0 1399.4 860.0 1401.3 861.0 1403.2 862.0 1405.1 863.0 1406.9 864.0 1408.7 865.0 1410.4 866.0 1412.0 867.0 1413.4 868.0 1414.8 869.0 1416.1 870.0 1417.2 871.0 1418.3 872.0 1419.3 873.0 1420.2 874.0 1421.0 875.0 1421.7 876.0 1422.3 877.0 1422.9 878.0 1423.5 879.0 1423.9 880.0 1424.3 881.0 1424.7 882.0 1425.1 883.0 1425.4 884.0 1425.6 885.0 1425.9 886.0 1426.1 887.0 1426.3 888.0 1426.5 889.0 1426.6 890.0 1426.8 891.0 1426.9 892.0 1427.0 893.0 1427.2 894.0 1427.3 895.0 1427.4 896.0 1427.4 897.0 1427.5 898.0 1427.6 899.0 1427.7 900.0 1427.7 901.0 1427.8 902.0 1427.8 903.0 1427.9 904.0 1427.9 905.0 1428.0 906.0 1428.0 907.0 1428.0 908.0 1428.1 909.0 1428.1 910.0 1428.1 911.0 1428.1 912.0 1428.2 913.0 1428.2 914.0 1428.2 915.0 1428.2 916.0 1428.2 917.0 1428.2 918.0 1428.2 919.0 1428.2 920.0 1428.1 921.0 1428.1 922.0 1428.1 923.0 1428.1 924.0 1428.1 925.0 1428.0 926.0 1428.0 927.0 1428.0 928.0 1427.9 929.0 1427.9 930.0 1427.8 931.0 1427.8 932.0 1427.8 933.0 1427.7 934.0 1427.7 935.0 1427.6 936.0 1427.5 937.0 1427.5 938.0 1427.4 939.0 1427.3 940.0 1427.2 941.0 1427.0 942.0 1426.9 943.0 1426.7 944.0 1426.6 945.0 1426.4 946.0 1426.2 947.0 1425.9 948.0 1425.7 949.0 1425.4 950.0 1425.1 951.0 1424.7 952.0 1424.3 953.0 1423.9 954.0 1423.4 955.0 1422.9 956.0 1422.4 957.0 1421.8 958.0 1421.1 959.0 1420.4 960.0 1419.7 961.0 1418.9 962.0 1418.1 963.0 1417.2 964.0 1416.3 965.0 1415.3 966.0 1414.4 967.0 1413.4 968.0 1412.5 969.0 1411.5 970.0 1410.6 971.0 1409.8 972.0 1409.0 973.0 1408.3 974.0 1407.7 975.0 1407.2 976.0 1406.8 977.0 1406.5 978.0 1406.3 979.0 1406.3 980.0 1406.4 981.0 1406.5 982.0 1406.8 983.0 1407.2 984.0 1407.8 985.0 1408.4 986.0 1409.1 987.0 1409.9 988.0 1410.8 989.0 1411.7 990.0 1412.7 991.0 1413.7 992.0 1414.7 993.0 1415.7 994.0 1416.6 995.0 1417.6 996.0 1418.5 997.0 1419.3 998.0 1420.2 999.0 1420.9 1000.0 1421.7 1001.0 1422.3 1002.0 1423.0 1003.0 1423.6 1004.0 1424.1 1005.0 1424.6 1006.0 1425.1 1007.0 1425.5 1008.0 1425.9 1009.0 1426.2 1010.0 1426.5 1011.0 1426.8 1012.0 1427.1 1013.0 1427.4 1014.0 1427.6 1015.0 1427.8 1016.0 1428.0 1017.0 1428.1 1018.0 1428.3 1019.0 1428.4 1020.0 1428.6 1021.0 1428.7 1022.0 1428.8 1023.0 1428.9 1024.0 1429.0 1025.0 1429.1 1026.0 1429.2 1027.0 1429.3 1028.0 1429.3 1029.0 1429.4 1030.0 1429.5 1031.0 1429.5 1032.0 1429.6 1033.0 1429.6 1034.0 1429.7 1035.0 1429.7 1036.0 1429.7 1037.0 1429.8 1038.0 1429.8 1039.0 1429.8 1040.0 1429.9 1041.0 1429.9 1042.0 1429.9 1043.0 1429.9 1044.0 1430.0 1045.0 1430.0 1046.0 1430.0 1047.0 1430.0 1048.0 1430.0 1049.0 1430.0 1050.0 1430.0 1051.0 1430.0 1052.0 1430.0 1053.0 1430.0 1054.0 1430.0 1055.0 1429.9 1056.0 1429.9 1057.0 1429.9 1058.0 1429.8 1059.0 1429.8 1060.0 1429.7 1061.0 1429.6 1062.0 1429.6 1063.0 1429.5 1064.0 1429.4 1065.0 1429.3 1066.0 1429.2 1067.0 1429.0 1068.0 1428.9 1069.0 1428.7 1070.0 1428.6 1071.0 1428.4 1072.0 1428.2 1073.0 1428.0 1074.0 1427.7 1075.0 1427.5 1076.0 1427.2 1077.0 1426.9 1078.0 1426.6 1079.0 1426.3 1080.0 1426.0 1081.0 1425.7 1082.0 1425.3 1083.0 1425.0 1084.0 1424.7 1085.0 1424.4 1086.0 1424.2 1087.0 1423.9 1088.0 1423.7 1089.0 1423.6 1090.0 1423.5 1091.0 1423.4 1092.0 1423.4 1093.0 1423.3 1094.0 1423.3 1095.0 1423.3 1096.0 1423.3 1097.0 1423.3 1098.0 1423.2 1099.0 1423.1 1100.0 1423.0 1101.0 1422.9 1102.0 1422.8 1103.0 1422.6 1104.0 1422.4 1105.0 1422.2 1106.0 1422.0 1107.0 1421.7 1108.0 1421.5 1109.0 1421.3 1110.0 1421.1 1111.0 1421.0 1112.0 1420.9 1113.0 1420.9 1114.0 1421.0 1115.0 1421.1 1116.0 1421.4 1117.0 1421.6 1118.0 1422.0 1119.0 1422.4 1120.0 1422.8 1121.0 1423.2 1122.0 1423.7 1123.0 1424.2 1124.0 1424.6 1125.0 1425.1 1126.0 1425.5 1127.0 1425.9 1128.0 1426.3 1129.0 1426.6 1130.0 1427.0 1131.0 1427.3 1132.0 1427.6 1133.0 1427.9 1134.0 1428.1 1135.0 1428.3 1136.0 1428.5 1137.0 1428.7 1138.0 1428.9 1139.0 1429.0 1140.0 1429.2 1141.0 1429.3 1142.0 1429.4 1143.0 1429.5 1144.0 1429.6 1145.0 1429.6 1146.0 1429.7 1147.0 1429.8 1148.0 1429.8 1149.0 1429.8 1150.0 1429.9 1151.0 1429.9 1152.0 1429.9 1153.0 1429.9 1154.0 1429.9 1155.0 1429.9 1156.0 1429.9 1157.0 1429.9 1158.0 1429.9 1159.0 1429.9 1160.0 1429.9 1161.0 1429.9 1162.0 1429.9 1163.0 1429.9 1164.0 1429.9 1165.0 1429.9 1166.0 1429.8 1167.0 1429.8 1168.0 1429.7 1169.0 1429.7 1170.0 1429.6 1171.0 1429.5 1172.0 1429.4 1173.0 1429.3 1174.0 1429.1 1175.0 1429.0 1176.0 1428.8 1177.0 1428.6 1178.0 1428.3 1179.0 1428.0 1180.0 1427.7 1181.0 1427.4 1182.0 1427.0 1183.0 1426.6 1184.0 1426.1 1185.0 1425.7 1186.0 1425.1 1187.0 1424.6 1188.0 1424.0 1189.0 1423.3 1190.0 1422.6 1191.0 1421.8 1192.0 1421.0 1193.0 1420.2 1194.0 1419.3 1195.0 1418.5 1196.0 1417.7 1197.0 1416.9 1198.0 1416.2 1199.0 1415.7 1200.0 1415.4 1201.0 1415.2 1202.0 1415.1 1203.0 1415.3 1204.0 1415.5 1205.0 1415.8 1206.0 1416.2 1207.0 1416.5 1208.0 1416.8 1209.0 1417.1 1210.0 1417.4 1211.0 1417.6 1212.0 1417.8 1213.0 1418.0 1214.0 1418.3 1215.0 1418.6 1216.0 1419.0 1217.0 1419.5 1218.0 1420.1 1219.0 1420.8 1220.0 1421.6 1221.0 1422.5 1222.0 1423.4 1223.0 1424.3 1224.0 1425.1 1225.0 1426.0 1226.0 1426.8 1227.0 1427.5 1228.0 1428.2 1229.0 1428.9 1230.0 1429.5 1231.0 1430.0 1232.0 1430.5 1233.0 1431.0 1234.0 1431.4 1235.0 1431.7 1236.0 1432.1 1237.0 1432.4 1238.0 1432.6 1239.0 1432.9 1240.0 1433.1 1241.0 1433.3 1242.0 1433.5 1243.0 1433.7 1244.0 1433.8 1245.0 1434.0 1246.0 1434.1 1247.0 1434.2 1248.0 1434.4 1249.0 1434.5 1250.0 1434.6 1251.0 1434.7 1252.0 1434.8 1253.0 1434.9 1254.0 1435.0 1255.0 1435.1 1256.0 1435.2 1257.0 1435.2 1258.0 1435.3 1259.0 1435.4 1260.0 1435.5 1261.0 1435.6 1262.0 1435.6 1263.0 1435.7 1264.0 1435.8 1265.0 1435.9 1266.0 1435.9 1267.0 1436.0 1268.0 1436.1 1269.0 1436.1 1270.0 1436.2 1271.0 1436.3 1272.0 1436.3 1273.0 1436.4 1274.0 1436.5 1275.0 1436.5 1276.0 1436.6 1277.0 1436.6 1278.0 1436.7 1279.0 1436.8" fill="none" stroke="#f41c1c" stroke-width="3.1" stroke-linejoin="round"/>
<line x1="341.5" y1="366.3" x2="341.5" y2="400.4" stroke="#333" stroke-width="3.6"/>
<line x1="541.9" y1="366.3" x2="541.9" y2="400.4" stroke="#111" stroke-width="4.6"/>
<line x1="557.8" y1="366.3" x2="557.8" y2="400.4" stroke="#1a1a1a" stroke-width="4.6"/>
<line x1="570.6" y1="366.3" x2="570.6" y2="400.4" stroke="#111" stroke-width="4.6"/>
<line x1="732.2" y1="366.3" x2="732.2" y2="400.4" stroke="#111" stroke-width="4.6"/>
<line x1="800.2" y1="366.3" x2="800.2" y2="400.4" stroke="#111" stroke-width="4.4"/>
<line x1="835.5" y1="366.3" x2="835.5" y2="400.4" stroke="#2a2a2a" stroke-width="5"/>
<line x1="852.6" y1="366.3" x2="852.6" y2="400.4" stroke="#111" stroke-width="4.6"/>
<line x1="975.5" y1="366.3" x2="975.5" y2="400.4" stroke="#0a0a0a" stroke-width="4.6"/>
<line x1="985.8" y1="366.3" x2="985.8" y2="400.4" stroke="#1a1a1a" stroke-width="4.6"/>
<line x1="1088.3" y1="366.3" x2="1088.3" y2="400.4" stroke="#666" stroke-width="2.8"/>
<line x1="1093.9" y1="366.3" x2="1093.9" y2="400.4" stroke="#666" stroke-width="2.8"/>
<line x1="1113.6" y1="366.3" x2="1113.6" y2="400.4" stroke="#222" stroke-width="3"/>
<line x1="1117.4" y1="366.3" x2="1117.4" y2="400.4" stroke="#777" stroke-width="3.2"/>
<line x1="1184.0" y1="366.3" x2="1184.0" y2="400.4" stroke="#222" stroke-width="4.6"/>
<line x1="1198.2" y1="366.3" x2="1198.2" y2="400.4" stroke="#555" stroke-width="5"/>
<line x1="1214.2" y1="366.3" x2="1214.2" y2="400.4" stroke="#222" stroke-width="4.6"/>
<line x1="1259.4" y1="366.3" x2="1259.4" y2="400.4" stroke="#333" stroke-width="2.8"/>
<line x1="1263.6" y1="366.3" x2="1263.6" y2="400.4" stroke="#888" stroke-width="2.8"/>
<line x1="341.5" y1="726.5" x2="341.5" y2="760.5" stroke="#333" stroke-width="3.6"/>
<line x1="541.9" y1="726.5" x2="541.9" y2="760.5" stroke="#111" stroke-width="4.6"/>
<line x1="557.8" y1="726.5" x2="557.8" y2="760.5" stroke="#1a1a1a" stroke-width="4.6"/>
<line x1="570.6" y1="726.5" x2="570.6" y2="760.5" stroke="#111" stroke-width="4.6"/>
<line x1="732.2" y1="726.5" x2="732.2" y2="760.5" stroke="#111" stroke-width="4.6"/>
<line x1="800.2" y1="726.5" x2="800.2" y2="760.5" stroke="#111" stroke-width="4.4"/>
<line x1="835.5" y1="726.5" x2="835.5" y2="760.5" stroke="#2a2a2a" stroke-width="5"/>
<line x1="852.6" y1="726.5" x2="852.6" y2="760.5" stroke="#111" stroke-width="4.6"/>
<line x1="975.5" y1="726.5" x2="975.5" y2="760.5" stroke="#0a0a0a" stroke-width="4.6"/>
<line x1="985.8" y1="726.5" x2="985.8" y2="760.5" stroke="#1a1a1a" stroke-width="4.6"/>
<line x1="1088.3" y1="726.5" x2="1088.3" y2="760.5" stroke="#666" stroke-width="2.8"/>
<line x1="1093.9" y1="726.5" x2="1093.9" y2="760.5" stroke="#666" stroke-width="2.8"/>
<line x1="1113.6" y1="726.5" x2="1113.6" y2="760.5" stroke="#222" stroke-width="3"/>
<line x1="1117.4" y1="726.5" x2="1117.4" y2="760.5" stroke="#777" stroke-width="3.2"/>
<line x1="1184.0" y1="726.5" x2="1184.0" y2="760.5" stroke="#222" stroke-width="4.6"/>
<line x1="1198.2" y1="726.5" x2="1198.2" y2="760.5" stroke="#555" stroke-width="5"/>
<line x1="1214.2" y1="726.5" x2="1214.2" y2="760.5" stroke="#222" stroke-width="4.6"/>
<line x1="1259.4" y1="726.5" x2="1259.4" y2="760.5" stroke="#333" stroke-width="2.8"/>
<line x1="1263.6" y1="726.5" x2="1263.6" y2="760.5" stroke="#888" stroke-width="2.8"/>
<line x1="341.5" y1="1090.0" x2="341.5" y2="1124.0" stroke="#333" stroke-width="3.6"/>
<line x1="541.9" y1="1090.0" x2="541.9" y2="1124.0" stroke="#111" stroke-width="4.6"/>
<line x1="557.8" y1="1090.0" x2="557.8" y2="1124.0" stroke="#1a1a1a" stroke-width="4.6"/>
<line x1="570.6" y1="1090.0" x2="570.6" y2="1124.0" stroke="#111" stroke-width="4.6"/>
<line x1="732.2" y1="1090.0" x2="732.2" y2="1124.0" stroke="#111" stroke-width="4.6"/>
<line x1="800.2" y1="1090.0" x2="800.2" y2="1124.0" stroke="#111" stroke-width="4.4"/>
<line x1="835.5" y1="1090.0" x2="835.5" y2="1124.0" stroke="#2a2a2a" stroke-width="5"/>
<line x1="852.6" y1="1090.0" x2="852.6" y2="1124.0" stroke="#111" stroke-width="4.6"/>
<line x1="975.5" y1="1090.0" x2="975.5" y2="1124.0" stroke="#0a0a0a" stroke-width="4.6"/>
<line x1="985.8" y1="1090.0" x2="985.8" y2="1124.0" stroke="#1a1a1a" stroke-width="4.6"/>
<line x1="1088.3" y1="1090.0" x2="1088.3" y2="1124.0" stroke="#666" stroke-width="2.8"/>
<line x1="1093.9" y1="1090.0" x2="1093.9" y2="1124.0" stroke="#666" stroke-width="2.8"/>
<line x1="1113.6" y1="1090.0" x2="1113.6" y2="1124.0" stroke="#222" stroke-width="3"/>
<line x1="1117.4" y1="1090.0" x2="1117.4" y2="1124.0" stroke="#777" stroke-width="3.2"/>
<line x1="1184.0" y1="1090.0" x2="1184.0" y2="1124.0" stroke="#222" stroke-width="4.6"/>
<line x1="1198.2" y1="1090.0" x2="1198.2" y2="1124.0" stroke="#555" stroke-width="5"/>
<line x1="1214.2" y1="1090.0" x2="1214.2" y2="1124.0" stroke="#222" stroke-width="4.6"/>
<line x1="1259.4" y1="1090.0" x2="1259.4" y2="1124.0" stroke="#333" stroke-width="2.8"/>
<line x1="1263.6" y1="1090.0" x2="1263.6" y2="1124.0" stroke="#888" stroke-width="2.8"/>
<line x1="341.5" y1="1435.5" x2="341.5" y2="1470.0" stroke="#333" stroke-width="3.6"/>
<line x1="541.9" y1="1435.5" x2="541.9" y2="1470.0" stroke="#111" stroke-width="4.6"/>
<line x1="557.8" y1="1435.5" x2="557.8" y2="1470.0" stroke="#1a1a1a" stroke-width="4.6"/>
<line x1="570.6" y1="1435.5" x2="570.6" y2="1470.0" stroke="#111" stroke-width="4.6"/>
<line x1="732.2" y1="1435.5" x2="732.2" y2="1470.0" stroke="#111" stroke-width="4.6"/>
<line x1="800.2" y1="1435.5" x2="800.2" y2="1470.0" stroke="#111" stroke-width="4.4"/>
<line x1="835.5" y1="1435.5" x2="835.5" y2="1470.0" stroke="#2a2a2a" stroke-width="5"/>
<line x1="852.6" y1="1435.5" x2="852.6" y2="1470.0" stroke="#111" stroke-width="4.6"/>
<line x1="975.5" y1="1435.5" x2="975.5" y2="1470.0" stroke="#0a0a0a" stroke-width="4.6"/>
<line x1="985.8" y1="1435.5" x2="985.8" y2="1470.0" stroke="#1a1a1a" stroke-width="4.6"/>
<line x1="1088.3" y1="1435.5" x2="1088.3" y2="1470.0" stroke="#666" stroke-width="2.8"/>
<line x1="1093.9" y1="1435.5" x2="1093.9" y2="1470.0" stroke="#666" stroke-width="2.8"/>
<line x1="1113.6" y1="1435.5" x2="1113.6" y2="1470.0" stroke="#222" stroke-width="3"/>
<line x1="1117.4" y1="1435.5" x2="1117.4" y2="1470.0" stroke="#777" stroke-width="3.2"/>
<line x1="1184.0" y1="1435.5" x2="1184.0" y2="1470.0" stroke="#222" stroke-width="4.6"/>
<line x1="1198.2" y1="1435.5" x2="1198.2" y2="1470.0" stroke="#555" stroke-width="5"/>
<line x1="1214.2" y1="1435.5" x2="1214.2" y2="1470.0" stroke="#222" stroke-width="4.6"/>
<line x1="1259.4" y1="1435.5" x2="1259.4" y2="1470.0" stroke="#333" stroke-width="2.8"/>
<line x1="1263.6" y1="1435.5" x2="1263.6" y2="1470.0" stroke="#888" stroke-width="2.8"/>
<rect x="163.0" y="36.2" width="1117.5" height="1451.8" fill="none" stroke="#0a0a0a" stroke-width="4.7"/>
<line x1="249.2" y1="36.2" x2="249.2" y2="59.2" stroke="#111" stroke-width="4.2"/>
<line x1="335.1" y1="36.2" x2="335.1" y2="49.2" stroke="#111" stroke-width="4.2"/>
<line x1="421.1" y1="36.2" x2="421.1" y2="59.2" stroke="#111" stroke-width="4.2"/>
<line x1="507.1" y1="36.2" x2="507.1" y2="49.2" stroke="#111" stroke-width="4.2"/>
<line x1="593.0" y1="36.2" x2="593.0" y2="59.2" stroke="#111" stroke-width="4.2"/>
<line x1="679.0" y1="36.2" x2="679.0" y2="49.2" stroke="#111" stroke-width="4.2"/>
<line x1="764.9" y1="36.2" x2="764.9" y2="59.2" stroke="#111" stroke-width="4.2"/>
<line x1="850.9" y1="36.2" x2="850.9" y2="49.2" stroke="#111" stroke-width="4.2"/>
<line x1="936.8" y1="36.2" x2="936.8" y2="59.2" stroke="#111" stroke-width="4.2"/>
<line x1="1022.8" y1="36.2" x2="1022.8" y2="49.2" stroke="#111" stroke-width="4.2"/>
<line x1="1108.7" y1="36.2" x2="1108.7" y2="59.2" stroke="#111" stroke-width="4.2"/>
<line x1="1194.7" y1="36.2" x2="1194.7" y2="49.2" stroke="#111" stroke-width="4.2"/>
<line x1="163.0" y1="1488.0" x2="163.0" y2="1500.0" stroke="#111" stroke-width="4.2"/>
<line x1="249.2" y1="1488.0" x2="249.2" y2="1511.0" stroke="#111" stroke-width="4.2"/>
<line x1="335.1" y1="1488.0" x2="335.1" y2="1500.0" stroke="#111" stroke-width="4.2"/>
<line x1="421.1" y1="1488.0" x2="421.1" y2="1511.0" stroke="#111" stroke-width="4.2"/>
<line x1="507.1" y1="1488.0" x2="507.1" y2="1500.0" stroke="#111" stroke-width="4.2"/>
<line x1="593.0" y1="1488.0" x2="593.0" y2="1511.0" stroke="#111" stroke-width="4.2"/>
<line x1="679.0" y1="1488.0" x2="679.0" y2="1500.0" stroke="#111" stroke-width="4.2"/>
<line x1="764.9" y1="1488.0" x2="764.9" y2="1511.0" stroke="#111" stroke-width="4.2"/>
<line x1="850.9" y1="1488.0" x2="850.9" y2="1500.0" stroke="#111" stroke-width="4.2"/>
<line x1="936.8" y1="1488.0" x2="936.8" y2="1511.0" stroke="#111" stroke-width="4.2"/>
<line x1="1022.8" y1="1488.0" x2="1022.8" y2="1500.0" stroke="#111" stroke-width="4.2"/>
<line x1="1108.7" y1="1488.0" x2="1108.7" y2="1511.0" stroke="#111" stroke-width="4.2"/>
<line x1="1194.7" y1="1488.0" x2="1194.7" y2="1500.0" stroke="#111" stroke-width="4.2"/>
<line x1="1280.5" y1="1488.0" x2="1280.5" y2="1511.0" stroke="#111" stroke-width="4.2"/>
<text transform="translate(249.2 1558.2) scale(1 1.07)" text-anchor="middle" class="t" style="stroke-width:0.25px" font-size="43.5">20</text>
<text transform="translate(421.1 1558.2) scale(1 1.07)" text-anchor="middle" class="t" style="stroke-width:0.25px" font-size="43.5">30</text>
<text transform="translate(593.0 1558.2) scale(1 1.07)" text-anchor="middle" class="t" style="stroke-width:0.25px" font-size="43.5">40</text>
<text transform="translate(764.9 1558.2) scale(1 1.07)" text-anchor="middle" class="t" style="stroke-width:0.25px" font-size="43.5">50</text>
<text transform="translate(936.8 1558.2) scale(1 1.07)" text-anchor="middle" class="t" style="stroke-width:0.25px" font-size="43.5">60</text>
<text transform="translate(1108.7 1558.2) scale(1 1.07)" text-anchor="middle" class="t" style="stroke-width:0.25px" font-size="43.5">70</text>
<text transform="translate(1280.6 1558.2) scale(1 1.07)" text-anchor="middle" class="t" style="stroke-width:0.25px" font-size="43.5">80</text>
<text transform="translate(971.8 211.7) scale(1 1.053)" class="t" font-size="52.9">EAN 3h</text>
<text transform="translate(971.8 558.0) scale(1 1.053)" class="t" font-size="52.9">EAN 6h</text>
<text transform="translate(971.8 917.9) scale(1 1.053)" class="t" font-size="52.9">EAN 12h</text>
<text transform="translate(971.8 1300.6) scale(1 1.053)" class="t" font-size="52.9">EAN 24h</text>
<circle cx="554.5" cy="132.5" r="5.4" fill="none" stroke="#8a8a8a" stroke-width="2"/>
<line x1="494" y1="196.5" x2="614" y2="196.5" stroke="#ff6a6a" stroke-width="3.2"/>
<text transform="translate(627.3 151) scale(1 1.02)" class="t" font-size="52.7">Iobs [cts]</text>
<text transform="translate(627.3 215.8) scale(1 1.02)" class="t" font-size="52.7">Icalc [cts]</text>
<text x="603" y="1651.2" class="t" font-size="63">2<tspan font-size="58">&#920;</tspan><tspan dx="-3.5"> (deg)</tspan></text>
<text transform="translate(73.2,843.9) rotate(-90)" text-anchor="middle" class="t" font-size="62.6">Intensity (arb. u.)</text>
</svg>
</body></html>
